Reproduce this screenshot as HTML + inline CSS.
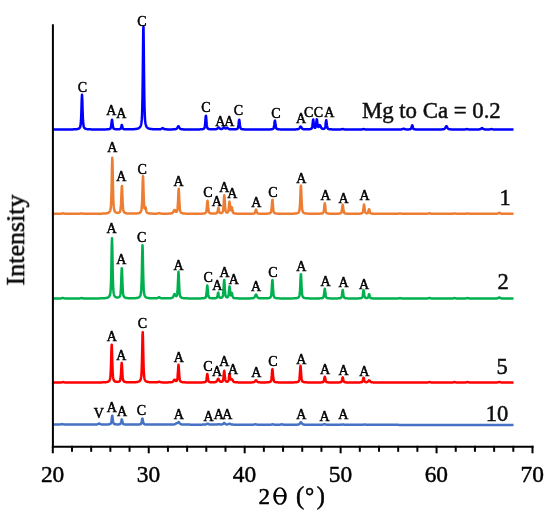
<!DOCTYPE html>
<html><head><meta charset="utf-8"><style>
html,body{margin:0;padding:0;background:#fff;}
body{width:550px;height:521px;overflow:hidden;font-family:"Liberation Serif",serif;}
svg{display:block;}
</style></head><body>
<svg width="550" height="521" viewBox="0 0 550 521" style="will-change:transform">
<defs><filter id="bl" x="0" y="0" width="100%" height="100%" filterUnits="userSpaceOnUse"><feGaussianBlur stdDeviation="0.4"/></filter></defs>
<rect width="550" height="521" fill="#fff"/>
<g filter="url(#bl)">
<path d="M53.00 129.49 L53.25 129.49 L53.50 129.49 L53.75 129.49 L54.00 129.49 L54.25 129.49 L54.50 129.49 L54.75 129.49 L55.00 129.49 L55.25 129.49 L55.50 129.49 L55.75 129.49 L56.00 129.49 L56.25 129.49 L56.50 129.49 L56.75 129.49 L57.00 129.48 L57.25 129.48 L57.50 129.48 L57.75 129.48 L58.00 129.48 L58.25 129.48 L58.50 129.48 L58.75 129.48 L59.00 129.48 L59.25 129.48 L59.50 129.48 L59.75 129.48 L60.00 129.48 L60.25 129.48 L60.50 129.48 L60.75 129.48 L61.00 129.48 L61.25 129.48 L61.50 129.48 L61.75 129.48 L62.00 129.48 L62.25 129.48 L62.50 129.47 L62.75 129.47 L63.00 129.47 L63.25 129.47 L63.50 129.47 L63.75 129.47 L64.00 129.47 L64.25 129.47 L64.50 129.47 L64.75 129.47 L65.00 129.47 L65.25 129.47 L65.50 129.47 L65.75 129.46 L66.00 129.46 L66.25 129.46 L66.50 129.46 L66.75 129.46 L67.00 129.46 L67.25 129.46 L67.50 129.45 L67.75 129.45 L68.00 129.45 L68.25 129.45 L68.50 129.45 L68.75 129.45 L69.00 129.44 L69.25 129.44 L69.50 129.44 L69.75 129.44 L70.00 129.43 L70.25 129.43 L70.50 129.43 L70.75 129.42 L71.00 129.42 L71.25 129.42 L71.50 129.41 L71.75 129.41 L72.00 129.41 L72.25 129.40 L72.50 129.39 L72.75 129.39 L73.00 129.38 L73.25 129.37 L73.50 129.37 L73.75 129.36 L74.00 129.35 L74.25 129.34 L74.50 129.33 L74.75 129.32 L75.00 129.31 L75.25 129.29 L75.50 129.27 L75.75 129.26 L76.00 129.24 L76.25 129.21 L76.50 129.19 L76.75 129.16 L77.00 129.12 L77.25 129.08 L77.50 129.04 L77.75 128.98 L78.00 128.92 L78.25 128.84 L78.50 128.75 L78.75 128.63 L79.00 128.49 L79.25 128.30 L79.50 128.07 L79.75 127.76 L80.00 127.33 L80.25 126.68 L80.50 125.63 L80.75 123.76 L81.00 120.44 L81.25 115.00 L81.50 107.27 L81.75 98.89 L82.00 94.80 L82.25 98.89 L82.50 107.27 L82.75 115.00 L83.00 120.44 L83.25 123.76 L83.50 125.63 L83.75 126.68 L84.00 127.32 L84.25 127.76 L84.50 128.07 L84.75 128.30 L85.00 128.48 L85.25 128.63 L85.50 128.74 L85.75 128.84 L86.00 128.91 L86.25 128.98 L86.50 129.03 L86.75 129.08 L87.00 129.12 L87.25 129.15 L87.50 129.18 L87.75 129.21 L88.00 129.23 L88.25 129.25 L88.50 129.27 L88.75 129.29 L89.00 129.30 L89.25 129.31 L89.50 129.33 L89.75 129.34 L90.00 129.35 L90.25 129.35 L90.50 129.36 L90.75 129.37 L91.00 129.38 L91.25 129.38 L91.50 129.39 L91.75 129.39 L92.00 129.40 L92.25 129.40 L92.50 129.41 L92.75 129.41 L93.00 129.41 L93.25 129.42 L93.50 129.42 L93.75 129.42 L94.00 129.42 L94.25 129.43 L94.50 129.43 L94.75 129.43 L95.00 129.43 L95.25 129.43 L95.50 129.44 L95.75 129.44 L96.00 129.44 L96.25 129.44 L96.50 129.44 L96.75 129.44 L97.00 129.44 L97.25 129.44 L97.50 129.45 L97.75 129.45 L98.00 129.45 L98.25 129.45 L98.50 129.45 L98.75 129.45 L99.00 129.45 L99.25 129.45 L99.50 129.45 L99.75 129.45 L100.00 129.45 L100.25 129.45 L100.50 129.45 L100.75 129.45 L101.00 129.45 L101.25 129.45 L101.50 129.45 L101.75 129.45 L102.00 129.45 L102.25 129.45 L102.50 129.44 L102.75 129.44 L103.00 129.44 L103.25 129.44 L103.50 129.42 L103.75 129.42 L104.00 129.42 L104.25 129.41 L104.50 129.41 L104.75 129.41 L105.00 129.40 L105.25 129.40 L105.50 129.39 L105.75 129.39 L106.00 129.38 L106.25 129.38 L106.50 129.37 L106.75 129.36 L107.00 129.35 L107.25 129.34 L107.50 129.33 L107.75 129.31 L108.00 129.29 L108.25 129.27 L108.50 129.24 L108.75 129.21 L109.00 129.17 L109.25 129.12 L109.50 129.05 L109.75 128.96 L110.00 128.84 L110.25 128.66 L110.50 128.36 L110.75 127.83 L111.00 126.89 L111.25 125.35 L111.50 123.17 L111.75 120.80 L112.00 119.65 L112.25 120.80 L112.50 123.17 L112.75 125.35 L113.00 126.89 L113.25 127.82 L113.50 128.35 L113.75 128.64 L114.00 128.82 L114.25 128.94 L114.50 129.03 L114.75 129.09 L115.00 129.14 L115.25 129.18 L115.50 129.21 L115.75 129.23 L116.00 129.25 L116.25 129.27 L116.50 129.28 L116.75 129.29 L117.00 129.29 L117.25 129.30 L117.50 129.30 L117.75 129.29 L118.00 129.29 L118.25 129.28 L118.50 129.27 L118.75 129.26 L119.00 129.24 L119.25 129.21 L119.50 129.18 L119.75 129.13 L120.00 129.05 L120.25 128.93 L120.50 128.72 L120.75 128.33 L121.00 127.69 L121.25 126.74 L121.50 125.63 L121.75 124.93 L122.00 125.26 L122.25 126.30 L122.50 127.35 L122.75 128.12 L123.00 128.60 L123.25 128.87 L123.50 129.02 L123.75 129.11 L124.00 129.17 L124.25 129.21 L124.50 129.24 L124.75 129.26 L125.00 129.28 L125.25 129.30 L125.50 129.31 L125.75 129.32 L126.00 129.32 L126.25 129.33 L126.50 129.33 L126.75 129.33 L127.00 129.34 L127.25 129.34 L127.50 129.34 L127.75 129.34 L128.00 129.34 L128.25 129.33 L128.50 129.33 L128.75 129.33 L129.00 129.33 L129.25 129.32 L129.50 129.32 L129.75 129.32 L130.00 129.31 L130.25 129.31 L130.50 129.30 L130.75 129.30 L131.00 129.29 L131.25 129.28 L131.50 129.28 L131.75 129.27 L132.00 129.26 L132.25 129.25 L132.50 129.24 L132.75 129.23 L133.00 129.22 L133.25 129.20 L133.50 129.19 L133.75 129.18 L134.00 129.16 L134.25 129.14 L134.50 129.12 L134.75 129.10 L135.00 129.08 L135.25 129.06 L135.50 129.03 L135.75 129.00 L136.00 128.97 L136.25 128.93 L136.50 128.89 L136.75 128.84 L137.00 128.79 L137.25 128.74 L137.50 128.67 L137.75 128.60 L138.00 128.51 L138.25 128.42 L138.50 128.31 L138.75 128.18 L139.00 128.03 L139.25 127.85 L139.50 127.64 L139.75 127.39 L140.00 127.08 L140.25 126.70 L140.50 126.22 L140.75 125.62 L141.00 124.82 L141.25 123.76 L141.50 122.24 L141.75 119.90 L142.00 115.91 L142.25 108.77 L142.50 96.36 L142.75 76.99 L143.00 51.72 L143.25 29.27 L143.50 26.67 L143.75 46.52 L144.00 72.28 L144.25 93.07 L144.50 106.78 L144.75 114.80 L145.00 119.27 L145.25 121.86 L145.50 123.50 L145.75 124.63 L146.00 125.47 L146.25 126.11 L146.50 126.62 L146.75 127.01 L147.00 127.33 L147.25 127.60 L147.50 127.82 L147.75 128.00 L148.00 128.15 L148.25 128.28 L148.50 128.40 L148.75 128.50 L149.00 128.58 L149.25 128.66 L149.50 128.72 L149.75 128.78 L150.00 128.83 L150.25 128.88 L150.50 128.92 L150.75 128.96 L151.00 128.99 L151.25 129.02 L151.50 129.05 L151.75 129.07 L152.00 129.10 L152.25 129.12 L152.50 129.14 L152.75 129.16 L153.00 129.17 L153.25 129.19 L153.50 129.20 L153.75 129.21 L154.00 129.23 L154.25 129.24 L154.50 129.25 L154.75 129.26 L155.00 129.26 L155.25 129.27 L155.50 129.28 L155.75 129.28 L156.00 129.29 L156.25 129.30 L156.50 129.30 L156.75 129.30 L157.00 129.31 L157.25 129.31 L157.50 129.31 L157.75 129.31 L158.00 129.31 L158.25 129.31 L158.50 129.31 L158.75 129.31 L159.00 129.31 L159.25 129.30 L159.50 129.29 L159.75 129.28 L160.00 129.26 L160.25 129.23 L160.50 129.20 L160.75 129.14 L161.00 129.06 L161.25 128.95 L161.50 128.82 L161.75 128.65 L162.00 128.46 L162.25 128.28 L162.50 128.15 L162.75 128.11 L163.00 128.20 L163.25 128.36 L163.50 128.55 L163.75 128.73 L164.00 128.89 L164.25 129.02 L164.50 129.12 L164.75 129.19 L165.00 129.24 L165.25 129.28 L165.50 129.31 L165.75 129.33 L166.00 129.34 L166.25 129.35 L166.50 129.36 L166.75 129.37 L167.00 129.37 L167.25 129.38 L167.50 129.38 L167.75 129.39 L168.00 129.39 L168.25 129.39 L168.50 129.40 L168.75 129.40 L169.00 129.40 L169.25 129.40 L169.50 129.40 L169.75 129.40 L170.00 129.40 L170.25 129.40 L170.50 129.40 L170.75 129.40 L171.00 129.40 L171.25 129.40 L171.50 129.39 L171.75 129.39 L172.00 129.39 L172.25 129.38 L172.50 129.38 L172.75 129.37 L173.00 129.37 L173.25 129.36 L173.50 129.35 L173.75 129.34 L174.00 129.33 L174.25 129.32 L174.50 129.30 L174.75 129.28 L175.00 129.26 L175.25 129.22 L175.50 129.18 L175.75 129.13 L176.00 129.05 L176.25 128.94 L176.50 128.78 L176.75 128.56 L177.00 128.27 L177.25 127.90 L177.50 127.45 L177.75 126.97 L178.00 126.52 L178.25 126.22 L178.50 126.19 L178.75 126.44 L179.00 126.87 L179.25 127.36 L179.50 127.82 L179.75 128.21 L180.00 128.51 L180.25 128.75 L180.50 128.91 L180.75 129.03 L181.00 129.12 L181.25 129.18 L181.50 129.23 L181.75 129.26 L182.00 129.29 L182.25 129.31 L182.50 129.33 L182.75 129.34 L183.00 129.35 L183.25 129.37 L183.50 129.39 L183.75 129.40 L184.00 129.41 L184.25 129.41 L184.50 129.42 L184.75 129.42 L185.00 129.43 L185.25 129.43 L185.50 129.44 L185.75 129.44 L186.00 129.44 L186.25 129.44 L186.50 129.45 L186.75 129.45 L187.00 129.45 L187.25 129.45 L187.50 129.45 L187.75 129.45 L188.00 129.46 L188.25 129.46 L188.50 129.46 L188.75 129.46 L189.00 129.46 L189.25 129.46 L189.50 129.46 L189.75 129.46 L190.00 129.46 L190.25 129.46 L190.50 129.46 L190.75 129.46 L191.00 129.46 L191.25 129.46 L191.50 129.46 L191.75 129.46 L192.00 129.46 L192.25 129.46 L192.50 129.46 L192.75 129.46 L193.00 129.46 L193.25 129.46 L193.50 129.46 L193.75 129.46 L194.00 129.46 L194.25 129.46 L194.50 129.45 L194.75 129.45 L195.00 129.45 L195.25 129.45 L195.50 129.45 L195.75 129.45 L196.00 129.45 L196.25 129.44 L196.50 129.44 L196.75 129.44 L197.00 129.44 L197.25 129.43 L197.50 129.43 L197.75 129.43 L198.00 129.42 L198.25 129.42 L198.50 129.42 L198.75 129.41 L199.00 129.41 L199.25 129.40 L199.50 129.39 L199.75 129.38 L200.00 129.37 L200.25 129.36 L200.50 129.35 L200.75 129.34 L201.00 129.33 L201.25 129.31 L201.50 129.29 L201.75 129.27 L202.00 129.24 L202.25 129.20 L202.50 129.16 L202.75 129.11 L203.00 129.05 L203.25 128.97 L203.50 128.86 L203.75 128.72 L204.00 128.52 L204.25 128.21 L204.50 127.68 L204.75 126.74 L205.00 125.09 L205.25 122.53 L205.50 119.18 L205.75 116.21 L206.00 115.86 L206.25 118.49 L206.50 121.90 L206.75 124.65 L207.00 126.47 L207.25 127.53 L207.50 128.12 L207.75 128.46 L208.00 128.68 L208.25 128.83 L208.50 128.94 L208.75 129.02 L209.00 129.09 L209.25 129.14 L209.50 129.18 L209.75 129.21 L210.00 129.24 L210.25 129.26 L210.50 129.28 L210.75 129.30 L211.00 129.31 L211.25 129.32 L211.50 129.33 L211.75 129.33 L212.00 129.34 L212.25 129.34 L212.50 129.35 L212.75 129.35 L213.00 129.35 L213.25 129.35 L213.50 129.35 L213.75 129.34 L214.00 129.34 L214.25 129.33 L214.50 129.33 L214.75 129.32 L215.00 129.30 L215.25 129.29 L215.50 129.26 L215.75 129.23 L216.00 129.19 L216.25 129.13 L216.50 129.05 L216.75 128.93 L217.00 128.77 L217.25 128.56 L217.50 128.31 L217.75 128.02 L218.00 127.72 L218.25 127.49 L218.50 127.40 L218.75 127.49 L219.00 127.71 L219.25 127.99 L219.50 128.27 L219.75 128.51 L220.00 128.71 L220.25 128.85 L220.50 128.95 L220.75 129.01 L221.00 129.05 L221.25 129.05 L221.50 129.03 L221.75 128.98 L222.00 128.90 L222.25 128.78 L222.50 128.61 L222.75 128.39 L223.00 128.12 L223.25 127.83 L223.50 127.55 L223.75 127.36 L224.00 127.34 L224.25 127.48 L224.50 127.72 L224.75 127.98 L225.00 128.21 L225.25 128.38 L225.50 128.48 L225.75 128.49 L226.00 128.44 L226.25 128.31 L226.50 128.15 L226.75 127.97 L227.00 127.85 L227.25 127.83 L227.50 127.94 L227.75 128.13 L228.00 128.36 L228.25 128.59 L228.50 128.78 L228.75 128.93 L229.00 129.05 L229.25 129.13 L229.50 129.20 L229.75 129.24 L230.00 129.27 L230.25 129.30 L230.50 129.31 L230.75 129.33 L231.00 129.34 L231.25 129.35 L231.50 129.35 L231.75 129.36 L232.00 129.36 L232.25 129.36 L232.50 129.37 L232.75 129.37 L233.00 129.37 L233.25 129.36 L233.50 129.36 L233.75 129.36 L234.00 129.35 L234.25 129.34 L234.50 129.33 L234.75 129.32 L235.00 129.31 L235.25 129.29 L235.50 129.27 L235.75 129.24 L236.00 129.21 L236.25 129.17 L236.50 129.12 L236.75 129.05 L237.00 128.96 L237.25 128.83 L237.50 128.63 L237.75 128.30 L238.00 127.70 L238.25 126.66 L238.50 124.99 L238.75 122.71 L239.00 120.44 L239.25 119.73 L239.50 121.27 L239.75 123.68 L240.00 125.74 L240.25 127.15 L240.50 127.99 L240.75 128.46 L241.00 128.73 L241.25 128.90 L241.50 129.01 L241.75 129.09 L242.00 129.16 L242.25 129.21 L242.50 129.24 L242.75 129.28 L243.00 129.30 L243.25 129.32 L243.50 129.34 L243.75 129.36 L244.00 129.37 L244.25 129.38 L244.50 129.39 L244.75 129.40 L245.00 129.41 L245.25 129.41 L245.50 129.42 L245.75 129.42 L246.00 129.43 L246.25 129.43 L246.50 129.44 L246.75 129.44 L247.00 129.44 L247.25 129.45 L247.50 129.45 L247.75 129.45 L248.00 129.45 L248.25 129.46 L248.50 129.46 L248.75 129.46 L249.00 129.46 L249.25 129.46 L249.50 129.46 L249.75 129.47 L250.00 129.47 L250.25 129.47 L250.50 129.47 L250.75 129.47 L251.00 129.47 L251.25 129.47 L251.50 129.47 L251.75 129.47 L252.00 129.47 L252.25 129.47 L252.50 129.47 L252.75 129.48 L253.00 129.48 L253.25 129.48 L253.50 129.48 L253.75 129.48 L254.00 129.48 L254.25 129.48 L254.50 129.48 L254.75 129.48 L255.00 129.48 L255.25 129.48 L255.50 129.48 L255.75 129.48 L256.00 129.48 L256.25 129.48 L256.50 129.48 L256.75 129.48 L257.00 129.48 L257.25 129.48 L257.50 129.48 L257.75 129.48 L258.00 129.48 L258.25 129.48 L258.50 129.48 L258.75 129.48 L259.00 129.48 L259.25 129.48 L259.50 129.48 L259.75 129.48 L260.00 129.48 L260.25 129.48 L260.50 129.48 L260.75 129.48 L261.00 129.48 L261.25 129.48 L261.50 129.48 L261.75 129.48 L262.00 129.48 L262.25 129.48 L262.50 129.48 L262.75 129.47 L263.00 129.47 L263.25 129.47 L263.50 129.47 L263.75 129.47 L264.00 129.47 L264.25 129.47 L264.50 129.47 L264.75 129.47 L265.00 129.47 L265.25 129.47 L265.50 129.47 L265.75 129.46 L266.00 129.46 L266.25 129.46 L266.50 129.46 L266.75 129.46 L267.00 129.45 L267.25 129.45 L267.50 129.45 L267.75 129.45 L268.00 129.44 L268.25 129.44 L268.50 129.43 L268.75 129.43 L269.00 129.42 L269.25 129.42 L269.50 129.41 L269.75 129.40 L270.00 129.39 L270.25 129.38 L270.50 129.37 L270.75 129.35 L271.00 129.33 L271.25 129.31 L271.50 129.29 L271.75 129.25 L272.00 129.21 L272.25 129.16 L272.50 129.09 L272.75 129.00 L273.00 128.87 L273.25 128.66 L273.50 128.32 L273.75 127.70 L274.00 126.62 L274.25 124.94 L274.50 122.75 L274.75 120.81 L275.00 120.58 L275.25 122.30 L275.50 124.53 L275.75 126.34 L276.00 127.52 L276.25 128.22 L276.50 128.61 L276.75 128.83 L277.00 128.97 L277.25 129.07 L277.50 129.14 L277.75 129.20 L278.00 129.24 L278.25 129.28 L278.50 129.30 L278.75 129.33 L279.00 129.34 L279.25 129.36 L279.50 129.37 L279.75 129.39 L280.00 129.39 L280.25 129.40 L280.50 129.41 L280.75 129.42 L281.00 129.42 L281.25 129.43 L281.50 129.43 L281.75 129.43 L282.00 129.44 L282.25 129.44 L282.50 129.44 L282.75 129.45 L283.00 129.45 L283.25 129.45 L283.50 129.45 L283.75 129.45 L284.00 129.45 L284.25 129.45 L284.50 129.46 L284.75 129.46 L285.00 129.46 L285.25 129.46 L285.50 129.46 L285.75 129.46 L286.00 129.46 L286.25 129.46 L286.50 129.46 L286.75 129.46 L287.00 129.46 L287.25 129.46 L287.50 129.46 L287.75 129.46 L288.00 129.46 L288.25 129.46 L288.50 129.46 L288.75 129.46 L289.00 129.46 L289.25 129.46 L289.50 129.46 L289.75 129.46 L290.00 129.45 L290.25 129.45 L290.50 129.45 L290.75 129.45 L291.00 129.45 L291.25 129.45 L291.50 129.45 L291.75 129.45 L292.00 129.44 L292.25 129.44 L292.50 129.44 L292.75 129.44 L293.00 129.44 L293.25 129.43 L293.50 129.43 L293.75 129.43 L294.00 129.42 L294.25 129.42 L294.50 129.41 L294.75 129.41 L295.00 129.40 L295.25 129.40 L295.50 129.39 L295.75 129.38 L296.00 129.37 L296.25 129.36 L296.50 129.34 L296.75 129.33 L297.00 129.31 L297.25 129.28 L297.50 129.25 L297.75 129.21 L298.00 129.16 L298.25 129.08 L298.50 128.98 L298.75 128.83 L299.00 128.62 L299.25 128.35 L299.50 128.01 L299.75 127.61 L300.00 127.18 L300.25 126.80 L300.50 126.58 L300.75 126.60 L301.00 126.86 L301.25 127.26 L301.50 127.68 L301.75 128.07 L302.00 128.40 L302.25 128.65 L302.50 128.84 L302.75 128.98 L303.00 129.08 L303.25 129.14 L303.50 129.19 L303.75 129.23 L304.00 129.25 L304.25 129.27 L304.50 129.29 L304.75 129.30 L305.00 129.31 L305.25 129.31 L305.50 129.32 L305.75 129.32 L306.00 129.33 L306.25 129.33 L306.50 129.33 L306.75 129.32 L307.00 129.32 L307.25 129.32 L307.50 129.31 L307.75 129.30 L308.00 129.30 L308.25 129.28 L308.50 129.27 L308.75 129.26 L309.00 129.24 L309.25 129.22 L309.50 129.19 L309.75 129.16 L310.00 129.12 L310.25 129.08 L310.50 129.02 L310.75 128.94 L311.00 128.84 L311.25 128.70 L311.50 128.50 L311.75 128.15 L312.00 127.55 L312.25 126.51 L312.50 124.83 L312.75 122.55 L313.00 120.28 L313.25 119.54 L313.50 121.03 L313.75 123.37 L314.00 125.36 L314.25 126.68 L314.50 127.42 L314.75 127.76 L315.00 127.85 L315.25 127.74 L315.50 127.37 L315.75 126.60 L316.00 125.25 L316.25 123.22 L316.50 120.84 L316.75 119.30 L317.00 119.98 L317.25 122.16 L317.50 124.33 L317.75 125.84 L318.00 126.67 L318.25 126.96 L318.50 126.91 L318.75 126.62 L319.00 126.19 L319.25 125.70 L319.50 125.28 L319.75 125.09 L320.00 125.24 L320.25 125.68 L320.50 126.27 L320.75 126.87 L321.00 127.41 L321.25 127.85 L321.50 128.19 L321.75 128.44 L322.00 128.62 L322.25 128.73 L322.50 128.81 L322.75 128.86 L323.00 128.88 L323.25 128.89 L323.50 128.87 L323.75 128.84 L324.00 128.77 L324.25 128.67 L324.50 128.50 L324.75 128.21 L325.00 127.67 L325.25 126.70 L325.50 125.14 L325.75 123.01 L326.00 120.89 L326.25 120.22 L326.50 121.68 L326.75 123.95 L327.00 125.89 L327.25 127.22 L327.50 128.01 L327.75 128.45 L328.00 128.71 L328.25 128.87 L328.50 128.98 L328.75 129.06 L329.00 129.12 L329.25 129.17 L329.50 129.21 L329.75 129.24 L330.00 129.27 L330.25 129.29 L330.50 129.31 L330.75 129.33 L331.00 129.34 L331.25 129.35 L331.50 129.36 L331.75 129.37 L332.00 129.38 L332.25 129.39 L332.50 129.39 L332.75 129.40 L333.00 129.41 L333.25 129.41 L333.50 129.41 L333.75 129.42 L334.00 129.42 L334.25 129.42 L334.50 129.43 L334.75 129.43 L335.00 129.43 L335.25 129.44 L335.50 129.44 L335.75 129.44 L336.00 129.44 L336.25 129.44 L336.50 129.44 L336.75 129.44 L337.00 129.45 L337.25 129.45 L337.50 129.45 L337.75 129.45 L338.00 129.45 L338.25 129.45 L338.50 129.45 L338.75 129.44 L339.00 129.44 L339.25 129.44 L339.50 129.44 L339.75 129.43 L340.00 129.43 L340.25 129.42 L340.50 129.41 L340.75 129.39 L341.00 129.37 L341.25 129.34 L341.50 129.29 L341.75 129.24 L342.00 129.18 L342.25 129.13 L342.50 129.09 L342.75 129.08 L343.00 129.10 L343.25 129.15 L343.50 129.21 L343.75 129.27 L344.00 129.32 L344.25 129.36 L344.50 129.39 L344.75 129.41 L345.00 129.43 L345.25 129.44 L345.50 129.45 L345.75 129.45 L346.00 129.46 L346.25 129.46 L346.50 129.46 L346.75 129.47 L347.00 129.47 L347.25 129.47 L347.50 129.47 L347.75 129.47 L348.00 129.47 L348.25 129.47 L348.50 129.48 L348.75 129.48 L349.00 129.48 L349.25 129.48 L349.50 129.48 L349.75 129.48 L350.00 129.48 L350.25 129.48 L350.50 129.48 L350.75 129.48 L351.00 129.48 L351.25 129.48 L351.50 129.48 L351.75 129.48 L352.00 129.48 L352.25 129.48 L352.50 129.48 L352.75 129.48 L353.00 129.48 L353.25 129.49 L353.50 129.49 L353.75 129.49 L354.00 129.49 L354.25 129.49 L354.50 129.49 L354.75 129.49 L355.00 129.49 L355.25 129.49 L355.50 129.49 L355.75 129.49 L356.00 129.49 L356.25 129.49 L356.50 129.49 L356.75 129.49 L357.00 129.49 L357.25 129.49 L357.50 129.49 L357.75 129.49 L358.00 129.48 L358.25 129.48 L358.50 129.48 L358.75 129.48 L359.00 129.48 L359.25 129.48 L359.50 129.48 L359.75 129.48 L360.00 129.47 L360.25 129.47 L360.50 129.47 L360.75 129.46 L361.00 129.45 L361.25 129.44 L361.50 129.43 L361.75 129.41 L362.00 129.38 L362.25 129.34 L362.50 129.30 L362.75 129.24 L363.00 129.18 L363.25 129.13 L363.50 129.10 L363.75 129.10 L364.00 129.14 L364.25 129.19 L364.50 129.25 L364.75 129.31 L365.00 129.35 L365.25 129.39 L365.50 129.41 L365.75 129.43 L366.00 129.45 L366.25 129.46 L366.50 129.47 L366.75 129.47 L367.00 129.47 L367.25 129.48 L367.50 129.48 L367.75 129.48 L368.00 129.48 L368.25 129.49 L368.50 129.49 L368.75 129.49 L369.00 129.49 L369.25 129.49 L369.50 129.49 L369.75 129.49 L370.00 129.49 L370.25 129.49 L370.50 129.49 L370.75 129.49 L371.00 129.49 L371.25 129.49 L371.50 129.49 L371.75 129.49 L372.00 129.49 L372.25 129.49 L372.50 129.49 L372.75 129.49 L373.00 129.49 L373.25 129.49 L373.50 129.50 L373.75 129.50 L374.00 129.50 L374.25 129.50 L374.50 129.50 L374.75 129.50 L375.00 129.50 L375.25 129.50 L375.50 129.50 L375.75 129.50 L376.00 129.50 L376.25 129.50 L376.50 129.50 L376.75 129.50 L377.00 129.50 L377.25 129.50 L377.50 129.50 L377.75 129.50 L378.00 129.50 L378.25 129.50 L378.50 129.50 L378.75 129.50 L379.00 129.50 L379.25 129.50 L379.50 129.50 L379.75 129.50 L380.00 129.50 L380.25 129.50 L380.50 129.50 L380.75 129.50 L381.00 129.50 L381.25 129.50 L381.50 129.50 L381.75 129.50 L382.00 129.50 L382.25 129.50 L382.50 129.50 L382.75 129.50 L383.00 129.50 L383.25 129.50 L383.50 129.50 L383.75 129.50 L384.00 129.50 L384.25 129.50 L384.50 129.50 L384.75 129.50 L385.00 129.50 L385.25 129.50 L385.50 129.50 L385.75 129.50 L386.00 129.50 L386.25 129.50 L386.50 129.50 L386.75 129.50 L387.00 129.50 L387.25 129.50 L387.50 129.50 L387.75 129.49 L388.00 129.49 L388.25 129.49 L388.50 129.49 L388.75 129.49 L389.00 129.49 L389.25 129.49 L389.50 129.49 L389.75 129.49 L390.00 129.49 L390.25 129.49 L390.50 129.49 L390.75 129.49 L391.00 129.49 L391.25 129.49 L391.50 129.49 L391.75 129.49 L392.00 129.49 L392.25 129.49 L392.50 129.49 L392.75 129.49 L393.00 129.49 L393.25 129.49 L393.50 129.49 L393.75 129.49 L394.00 129.49 L394.25 129.49 L394.50 129.49 L394.75 129.49 L395.00 129.49 L395.25 129.49 L395.50 129.49 L395.75 129.49 L396.00 129.48 L396.25 129.48 L396.50 129.48 L396.75 129.48 L397.00 129.48 L397.25 129.48 L397.50 129.48 L397.75 129.48 L398.00 129.47 L398.25 129.47 L398.50 129.47 L398.75 129.47 L399.00 129.46 L399.25 129.46 L399.50 129.46 L399.75 129.45 L400.00 129.45 L400.25 129.44 L400.50 129.43 L400.75 129.42 L401.00 129.41 L401.25 129.38 L401.50 129.36 L401.75 129.31 L402.00 129.26 L402.25 129.18 L402.50 129.09 L402.75 128.98 L403.00 128.86 L403.25 128.75 L403.50 128.69 L403.75 128.70 L404.00 128.77 L404.25 128.88 L404.50 128.99 L404.75 129.10 L405.00 129.19 L405.25 129.26 L405.50 129.31 L405.75 129.34 L406.00 129.37 L406.25 129.39 L406.50 129.39 L406.75 129.40 L407.00 129.41 L407.25 129.41 L407.50 129.41 L407.75 129.41 L408.00 129.40 L408.25 129.40 L408.50 129.39 L408.75 129.38 L409.00 129.37 L409.25 129.35 L409.50 129.33 L409.75 129.30 L410.00 129.26 L410.25 129.20 L410.50 129.12 L410.75 128.97 L411.00 128.71 L411.25 128.25 L411.50 127.52 L411.75 126.52 L412.00 125.53 L412.25 125.21 L412.50 125.89 L412.75 126.95 L413.00 127.85 L413.25 128.47 L413.50 128.84 L413.75 129.04 L414.00 129.16 L414.25 129.24 L414.50 129.29 L414.75 129.32 L415.00 129.35 L415.25 129.37 L415.50 129.39 L415.75 129.40 L416.00 129.41 L416.25 129.42 L416.50 129.43 L416.75 129.44 L417.00 129.44 L417.25 129.45 L417.50 129.45 L417.75 129.46 L418.00 129.46 L418.25 129.46 L418.50 129.46 L418.75 129.47 L419.00 129.47 L419.25 129.47 L419.50 129.47 L419.75 129.47 L420.00 129.47 L420.25 129.48 L420.50 129.48 L420.75 129.48 L421.00 129.48 L421.25 129.48 L421.50 129.48 L421.75 129.48 L422.00 129.48 L422.25 129.48 L422.50 129.48 L422.75 129.48 L423.00 129.48 L423.25 129.48 L423.50 129.48 L423.75 129.48 L424.00 129.48 L424.25 129.49 L424.50 129.49 L424.75 129.49 L425.00 129.49 L425.25 129.49 L425.50 129.49 L425.75 129.49 L426.00 129.49 L426.25 129.49 L426.50 129.49 L426.75 129.49 L427.00 129.49 L427.25 129.49 L427.50 129.49 L427.75 129.49 L428.00 129.49 L428.25 129.49 L428.50 129.49 L428.75 129.49 L429.00 129.49 L429.25 129.49 L429.50 129.49 L429.75 129.49 L430.00 129.49 L430.25 129.49 L430.50 129.49 L430.75 129.48 L431.00 129.48 L431.25 129.48 L431.50 129.48 L431.75 129.48 L432.00 129.48 L432.25 129.48 L432.50 129.48 L432.75 129.48 L433.00 129.48 L433.25 129.48 L433.50 129.48 L433.75 129.48 L434.00 129.48 L434.25 129.48 L434.50 129.48 L434.75 129.48 L435.00 129.48 L435.25 129.48 L435.50 129.48 L435.75 129.47 L436.00 129.47 L436.25 129.47 L436.50 129.47 L436.75 129.47 L437.00 129.47 L437.25 129.47 L437.50 129.46 L437.75 129.46 L438.00 129.46 L438.25 129.46 L438.50 129.46 L438.75 129.45 L439.00 129.45 L439.25 129.45 L439.50 129.44 L439.75 129.44 L440.00 129.44 L440.25 129.43 L440.50 129.43 L440.75 129.42 L441.00 129.41 L441.25 129.40 L441.50 129.39 L441.75 129.38 L442.00 129.37 L442.25 129.36 L442.50 129.34 L442.75 129.32 L443.00 129.29 L443.25 129.26 L443.50 129.22 L443.75 129.16 L444.00 129.08 L444.25 128.97 L444.50 128.81 L444.75 128.59 L445.00 128.30 L445.25 127.93 L445.50 127.49 L445.75 127.00 L446.00 126.55 L446.25 126.25 L446.50 126.22 L446.75 126.47 L447.00 126.90 L447.25 127.39 L447.50 127.85 L447.75 128.23 L448.00 128.54 L448.25 128.77 L448.50 128.94 L448.75 129.06 L449.00 129.15 L449.25 129.21 L449.50 129.25 L449.75 129.29 L450.00 129.31 L450.25 129.33 L450.50 129.35 L450.75 129.37 L451.00 129.38 L451.25 129.39 L451.50 129.40 L451.75 129.41 L452.00 129.42 L452.25 129.42 L452.50 129.43 L452.75 129.43 L453.00 129.44 L453.25 129.44 L453.50 129.45 L453.75 129.45 L454.00 129.45 L454.25 129.46 L454.50 129.46 L454.75 129.46 L455.00 129.46 L455.25 129.46 L455.50 129.46 L455.75 129.47 L456.00 129.47 L456.25 129.47 L456.50 129.47 L456.75 129.47 L457.00 129.47 L457.25 129.47 L457.50 129.47 L457.75 129.47 L458.00 129.47 L458.25 129.48 L458.50 129.48 L458.75 129.48 L459.00 129.48 L459.25 129.48 L459.50 129.48 L459.75 129.48 L460.00 129.48 L460.25 129.48 L460.50 129.48 L460.75 129.48 L461.00 129.48 L461.25 129.48 L461.50 129.47 L461.75 129.47 L462.00 129.47 L462.25 129.47 L462.50 129.47 L462.75 129.47 L463.00 129.47 L463.25 129.46 L463.50 129.46 L463.75 129.46 L464.00 129.45 L464.25 129.44 L464.50 129.43 L464.75 129.42 L465.00 129.40 L465.25 129.37 L465.50 129.33 L465.75 129.28 L466.00 129.22 L466.25 129.16 L466.50 129.11 L466.75 129.09 L467.00 129.10 L467.25 129.14 L467.50 129.20 L467.75 129.26 L468.00 129.31 L468.25 129.35 L468.50 129.38 L468.75 129.41 L469.00 129.43 L469.25 129.44 L469.50 129.45 L469.75 129.45 L470.00 129.46 L470.25 129.46 L470.50 129.47 L470.75 129.47 L471.00 129.47 L471.25 129.47 L471.50 129.47 L471.75 129.47 L472.00 129.47 L472.25 129.47 L472.50 129.47 L472.75 129.47 L473.00 129.47 L473.25 129.47 L473.50 129.47 L473.75 129.47 L474.00 129.47 L474.25 129.47 L474.50 129.47 L474.75 129.47 L475.00 129.47 L475.25 129.47 L475.50 129.47 L475.75 129.46 L476.00 129.46 L476.25 129.46 L476.50 129.46 L476.75 129.45 L477.00 129.45 L477.25 129.45 L477.50 129.44 L477.75 129.44 L478.00 129.43 L478.25 129.42 L478.50 129.41 L478.75 129.40 L479.00 129.38 L479.25 129.36 L479.50 129.33 L479.75 129.29 L480.00 129.23 L480.25 129.15 L480.50 129.04 L480.75 128.90 L481.00 128.72 L481.25 128.52 L481.50 128.31 L481.75 128.16 L482.00 128.09 L482.25 128.15 L482.50 128.31 L482.75 128.52 L483.00 128.72 L483.25 128.89 L483.50 129.04 L483.75 129.15 L484.00 129.23 L484.25 129.29 L484.50 129.33 L484.75 129.36 L485.00 129.38 L485.25 129.39 L485.50 129.41 L485.75 129.42 L486.00 129.42 L486.25 129.43 L486.50 129.44 L486.75 129.44 L487.00 129.44 L487.25 129.44 L487.50 129.45 L487.75 129.45 L488.00 129.44 L488.25 129.44 L488.50 129.44 L488.75 129.44 L489.00 129.43 L489.25 129.42 L489.50 129.40 L489.75 129.37 L490.00 129.34 L490.25 129.29 L490.50 129.24 L490.75 129.18 L491.00 129.13 L491.25 129.09 L491.50 129.09 L491.75 129.12 L492.00 129.17 L492.25 129.23 L492.50 129.29 L492.75 129.34 L493.00 129.37 L493.25 129.40 L493.50 129.42 L493.75 129.44 L494.00 129.45 L494.25 129.46 L494.50 129.46 L494.75 129.47 L495.00 129.47 L495.25 129.47 L495.50 129.48 L495.75 129.48 L496.00 129.48 L496.25 129.48 L496.50 129.48 L496.75 129.48 L497.00 129.49 L497.25 129.49 L497.50 129.49 L497.75 129.49 L498.00 129.49 L498.25 129.49 L498.50 129.49 L498.75 129.49 L499.00 129.49 L499.25 129.49 L499.50 129.49 L499.75 129.49 L500.00 129.49 L500.25 129.49 L500.50 129.49 L500.75 129.49 L501.00 129.49 L501.25 129.49 L501.50 129.49 L501.75 129.49 L502.00 129.49 L502.25 129.49 L502.50 129.49 L502.75 129.49 L503.00 129.49 L503.25 129.50 L503.50 129.50 L503.75 129.50 L504.00 129.50 L504.25 129.50 L504.50 129.50 L504.75 129.50 L505.00 129.50 L505.25 129.50 L505.50 129.50 L505.75 129.50 L506.00 129.50 L506.25 129.50 L506.50 129.50 L506.75 129.50 L507.00 129.50 L507.25 129.50 L507.50 129.50 L507.75 129.50 L508.00 129.50 L508.25 129.50 L508.50 129.50 L508.75 129.50 L509.00 129.50 L509.25 129.50 L509.50 129.50 L509.75 129.50 L510.00 129.50 L510.25 129.50 L510.50 129.50 L510.75 129.50 L511.00 129.50 L511.25 129.50 L511.50 129.50 L511.75 129.50 L512.00 129.50 L512.25 129.50 L512.50 129.50 L512.75 129.50 L513.00 129.50 L513.25 129.50 L513.50 129.50" fill="none" stroke="#0000ff" stroke-width="2.5" stroke-linejoin="round"/>
<path d="M53.00 213.80 L53.25 213.80 L53.50 213.80 L53.75 213.80 L54.00 213.79 L54.25 213.79 L54.50 213.79 L54.75 213.79 L55.00 213.79 L55.25 213.79 L55.50 213.79 L55.75 213.79 L56.00 213.79 L56.25 213.79 L56.50 213.79 L56.75 213.79 L57.00 213.79 L57.25 213.79 L57.50 213.79 L57.75 213.79 L58.00 213.78 L58.25 213.78 L58.50 213.78 L58.75 213.78 L59.00 213.78 L59.25 213.77 L59.50 213.77 L59.75 213.77 L60.00 213.76 L60.25 213.75 L60.50 213.74 L60.75 213.73 L61.00 213.71 L61.25 213.68 L61.50 213.64 L61.75 213.59 L62.00 213.52 L62.25 213.45 L62.50 213.38 L62.75 213.32 L63.00 213.30 L63.25 213.32 L63.50 213.38 L63.75 213.45 L64.00 213.52 L64.25 213.59 L64.50 213.64 L64.75 213.68 L65.00 213.71 L65.25 213.73 L65.50 213.74 L65.75 213.75 L66.00 213.76 L66.25 213.76 L66.50 213.77 L66.75 213.77 L67.00 213.78 L67.25 213.78 L67.50 213.78 L67.75 213.78 L68.00 213.78 L68.25 213.78 L68.50 213.79 L68.75 213.79 L69.00 213.79 L69.25 213.79 L69.50 213.79 L69.75 213.79 L70.00 213.79 L70.25 213.79 L70.50 213.79 L70.75 213.79 L71.00 213.79 L71.25 213.79 L71.50 213.79 L71.75 213.79 L72.00 213.79 L72.25 213.79 L72.50 213.78 L72.75 213.78 L73.00 213.78 L73.25 213.78 L73.50 213.78 L73.75 213.78 L74.00 213.78 L74.25 213.78 L74.50 213.78 L74.75 213.78 L75.00 213.78 L75.25 213.78 L75.50 213.78 L75.75 213.78 L76.00 213.78 L76.25 213.78 L76.50 213.77 L76.75 213.77 L77.00 213.77 L77.25 213.77 L77.50 213.77 L77.75 213.77 L78.00 213.76 L78.25 213.76 L78.50 213.76 L78.75 213.75 L79.00 213.74 L79.25 213.73 L79.50 213.72 L79.75 213.70 L80.00 213.67 L80.25 213.63 L80.50 213.58 L80.75 213.53 L81.00 213.47 L81.25 213.42 L81.50 213.39 L81.75 213.39 L82.00 213.42 L82.25 213.47 L82.50 213.53 L82.75 213.59 L83.00 213.63 L83.25 213.67 L83.50 213.69 L83.75 213.71 L84.00 213.72 L84.25 213.73 L84.50 213.74 L84.75 213.74 L85.00 213.75 L85.25 213.75 L85.50 213.75 L85.75 213.75 L86.00 213.76 L86.25 213.76 L86.50 213.76 L86.75 213.76 L87.00 213.76 L87.25 213.76 L87.50 213.76 L87.75 213.76 L88.00 213.76 L88.25 213.76 L88.50 213.76 L88.75 213.76 L89.00 213.76 L89.25 213.76 L89.50 213.76 L89.75 213.76 L90.00 213.76 L90.25 213.76 L90.50 213.76 L90.75 213.75 L91.00 213.75 L91.25 213.75 L91.50 213.75 L91.75 213.75 L92.00 213.75 L92.25 213.75 L92.50 213.75 L92.75 213.75 L93.00 213.75 L93.25 213.75 L93.50 213.74 L93.75 213.74 L94.00 213.74 L94.25 213.74 L94.50 213.74 L94.75 213.74 L95.00 213.74 L95.25 213.73 L95.50 213.73 L95.75 213.73 L96.00 213.73 L96.25 213.73 L96.50 213.72 L96.75 213.72 L97.00 213.72 L97.25 213.72 L97.50 213.71 L97.75 213.71 L98.00 213.71 L98.25 213.71 L98.50 213.70 L98.75 213.70 L99.00 213.70 L99.25 213.69 L99.50 213.69 L99.75 213.69 L100.00 213.68 L100.25 213.68 L100.50 213.67 L100.75 213.67 L101.00 213.66 L101.25 213.65 L101.50 213.65 L101.75 213.64 L102.00 213.63 L102.25 213.63 L102.50 213.62 L102.75 213.61 L103.00 213.60 L103.25 213.58 L103.50 213.57 L103.75 213.56 L104.00 213.55 L104.25 213.53 L104.50 213.51 L104.75 213.50 L105.00 213.48 L105.25 213.46 L105.50 213.43 L105.75 213.40 L106.00 213.38 L106.25 213.34 L106.50 213.30 L106.75 213.26 L107.00 213.21 L107.25 213.16 L107.50 213.09 L107.75 213.02 L108.00 212.93 L108.25 212.83 L108.50 212.71 L108.75 212.56 L109.00 212.38 L109.25 212.15 L109.50 211.87 L109.75 211.50 L110.00 211.02 L110.25 210.37 L110.50 209.41 L110.75 207.87 L111.00 205.17 L111.25 200.35 L111.50 192.27 L111.75 180.39 L112.00 166.54 L112.25 157.70 L112.50 161.82 L112.75 174.82 L113.00 187.93 L113.25 197.53 L113.50 203.52 L113.75 206.92 L114.00 208.82 L114.25 209.96 L114.50 210.70 L114.75 211.23 L115.00 211.62 L115.25 211.92 L115.50 212.15 L115.75 212.33 L116.00 212.47 L116.25 212.58 L116.50 212.67 L116.75 212.73 L117.00 212.78 L117.25 212.81 L117.50 212.83 L117.75 212.83 L118.00 212.82 L118.25 212.79 L118.50 212.74 L118.75 212.66 L119.00 212.56 L119.25 212.42 L119.50 212.23 L119.75 211.96 L120.00 211.57 L120.25 210.96 L120.50 209.90 L120.75 208.00 L121.00 204.68 L121.25 199.48 L121.50 192.71 L121.75 186.69 L122.00 185.99 L122.25 191.33 L122.50 198.26 L122.75 203.85 L123.00 207.54 L123.25 209.70 L123.50 210.90 L123.75 211.60 L124.00 212.05 L124.25 212.36 L124.50 212.58 L124.75 212.76 L125.00 212.90 L125.25 213.01 L125.50 213.10 L125.75 213.17 L126.00 213.23 L126.25 213.28 L126.50 213.32 L126.75 213.36 L127.00 213.39 L127.25 213.42 L127.50 213.44 L127.75 213.46 L128.00 213.48 L128.25 213.50 L128.50 213.51 L128.75 213.52 L129.00 213.53 L129.25 213.54 L129.50 213.55 L129.75 213.56 L130.00 213.57 L130.25 213.57 L130.50 213.58 L130.75 213.58 L131.00 213.58 L131.25 213.59 L131.50 213.59 L131.75 213.59 L132.00 213.59 L132.25 213.59 L132.50 213.59 L132.75 213.59 L133.00 213.59 L133.25 213.59 L133.50 213.58 L133.75 213.58 L134.00 213.58 L134.25 213.57 L134.50 213.57 L134.75 213.56 L135.00 213.55 L135.25 213.54 L135.50 213.53 L135.75 213.52 L136.00 213.51 L136.25 213.49 L136.50 213.48 L136.75 213.46 L137.00 213.44 L137.25 213.41 L137.50 213.38 L137.75 213.35 L138.00 213.32 L138.25 213.27 L138.50 213.22 L138.75 213.16 L139.00 213.09 L139.25 213.00 L139.50 212.90 L139.75 212.77 L140.00 212.61 L140.25 212.41 L140.50 212.16 L140.75 211.82 L141.00 211.34 L141.25 210.64 L141.50 209.50 L141.75 207.48 L142.00 203.89 L142.25 198.00 L142.50 189.65 L142.75 180.59 L143.00 176.15 L143.25 180.51 L143.50 189.49 L143.75 197.72 L144.00 203.44 L144.25 206.75 L144.50 208.28 L144.75 208.64 L145.00 208.22 L145.25 207.47 L145.50 207.22 L145.75 208.06 L146.00 209.47 L146.25 210.74 L146.50 211.65 L146.75 212.23 L147.00 212.58 L147.25 212.80 L147.50 212.95 L147.75 213.06 L148.00 213.15 L148.25 213.22 L148.50 213.28 L148.75 213.33 L149.00 213.37 L149.25 213.41 L149.50 213.44 L149.75 213.46 L150.00 213.49 L150.25 213.51 L150.50 213.52 L150.75 213.54 L151.00 213.56 L151.25 213.57 L151.50 213.58 L151.75 213.59 L152.00 213.60 L152.25 213.61 L152.50 213.62 L152.75 213.63 L153.00 213.64 L153.25 213.64 L153.50 213.65 L153.75 213.65 L154.00 213.65 L154.25 213.66 L154.50 213.66 L154.75 213.66 L155.00 213.66 L155.25 213.66 L155.50 213.66 L155.75 213.66 L156.00 213.65 L156.25 213.65 L156.50 213.64 L156.75 213.63 L157.00 213.61 L157.25 213.58 L157.50 213.54 L157.75 213.48 L158.00 213.41 L158.25 213.33 L158.50 213.24 L158.75 213.17 L159.00 213.12 L159.25 213.13 L159.50 213.18 L159.75 213.27 L160.00 213.35 L160.25 213.44 L160.50 213.50 L160.75 213.56 L161.00 213.60 L161.25 213.62 L161.50 213.64 L161.75 213.66 L162.00 213.67 L162.25 213.68 L162.50 213.69 L162.75 213.69 L163.00 213.69 L163.25 213.69 L163.50 213.70 L163.75 213.70 L164.00 213.70 L164.25 213.70 L164.50 213.70 L164.75 213.70 L165.00 213.70 L165.25 213.69 L165.50 213.69 L165.75 213.69 L166.00 213.69 L166.25 213.68 L166.50 213.68 L166.75 213.68 L167.00 213.67 L167.25 213.67 L167.50 213.66 L167.75 213.66 L168.00 213.65 L168.25 213.64 L168.50 213.63 L168.75 213.62 L169.00 213.61 L169.25 213.60 L169.50 213.59 L169.75 213.58 L170.00 213.56 L170.25 213.54 L170.50 213.52 L170.75 213.49 L171.00 213.46 L171.25 213.42 L171.50 213.37 L171.75 213.31 L172.00 213.22 L172.25 213.11 L172.50 212.95 L172.75 212.73 L173.00 212.44 L173.25 212.06 L173.50 211.59 L173.75 211.06 L174.00 210.53 L174.25 210.10 L174.50 209.90 L174.75 210.01 L175.00 210.35 L175.25 210.78 L175.50 211.20 L175.75 211.53 L176.00 211.76 L176.25 211.85 L176.50 211.82 L176.75 211.63 L177.00 211.22 L177.25 210.45 L177.50 208.98 L177.75 206.35 L178.00 202.09 L178.25 196.27 L178.50 190.49 L178.75 188.67 L179.00 192.63 L179.25 198.81 L179.50 204.12 L179.75 207.73 L180.00 209.88 L180.25 211.09 L180.50 211.79 L180.75 212.22 L181.00 212.51 L181.25 212.73 L181.50 212.90 L181.75 213.02 L182.00 213.13 L182.25 213.21 L182.50 213.28 L182.75 213.34 L183.00 213.39 L183.25 213.43 L183.50 213.46 L183.75 213.49 L184.00 213.52 L184.25 213.54 L184.50 213.56 L184.75 213.57 L185.00 213.59 L185.25 213.60 L185.50 213.62 L185.75 213.63 L186.00 213.64 L186.25 213.65 L186.50 213.65 L186.75 213.66 L187.00 213.67 L187.25 213.67 L187.50 213.68 L187.75 213.69 L188.00 213.69 L188.25 213.69 L188.50 213.70 L188.75 213.70 L189.00 213.71 L189.25 213.71 L189.50 213.71 L189.75 213.71 L190.00 213.71 L190.25 213.72 L190.50 213.72 L190.75 213.72 L191.00 213.72 L191.25 213.72 L191.50 213.72 L191.75 213.73 L192.00 213.73 L192.25 213.73 L192.50 213.73 L192.75 213.73 L193.00 213.73 L193.25 213.73 L193.50 213.73 L193.75 213.73 L194.00 213.73 L194.25 213.73 L194.50 213.73 L194.75 213.73 L195.00 213.73 L195.25 213.73 L195.50 213.73 L195.75 213.73 L196.00 213.73 L196.25 213.73 L196.50 213.73 L196.75 213.73 L197.00 213.73 L197.25 213.73 L197.50 213.72 L197.75 213.72 L198.00 213.72 L198.25 213.72 L198.50 213.72 L198.75 213.71 L199.00 213.71 L199.25 213.71 L199.50 213.71 L199.75 213.70 L200.00 213.70 L200.25 213.69 L200.50 213.69 L200.75 213.68 L201.00 213.68 L201.25 213.67 L201.50 213.66 L201.75 213.65 L202.00 213.64 L202.25 213.63 L202.50 213.62 L202.75 213.60 L203.00 213.59 L203.25 213.57 L203.50 213.54 L203.75 213.51 L204.00 213.48 L204.25 213.43 L204.50 213.38 L204.75 213.31 L205.00 213.22 L205.25 213.10 L205.50 212.94 L205.75 212.69 L206.00 212.29 L206.25 211.59 L206.50 210.33 L206.75 208.28 L207.00 205.36 L207.25 202.19 L207.50 200.65 L207.75 202.19 L208.00 205.35 L208.25 208.27 L208.50 210.33 L208.75 211.58 L209.00 212.28 L209.25 212.68 L209.50 212.92 L209.75 213.08 L210.00 213.19 L210.25 213.28 L210.50 213.34 L210.75 213.40 L211.00 213.44 L211.25 213.47 L211.50 213.49 L211.75 213.52 L212.00 213.53 L212.25 213.54 L212.50 213.55 L212.75 213.56 L213.00 213.57 L213.25 213.57 L213.50 213.57 L213.75 213.57 L214.00 213.56 L214.25 213.56 L214.50 213.55 L214.75 213.54 L215.00 213.52 L215.25 213.50 L215.50 213.47 L215.75 213.44 L216.00 213.39 L216.25 213.33 L216.50 213.24 L216.75 213.11 L217.00 212.88 L217.25 212.48 L217.50 211.79 L217.75 210.71 L218.00 209.31 L218.25 208.06 L218.50 207.90 L218.75 208.99 L219.00 210.40 L219.25 211.53 L219.50 212.26 L219.75 212.68 L220.00 212.90 L220.25 213.01 L220.50 213.05 L220.75 213.07 L221.00 213.05 L221.25 213.01 L221.50 212.95 L221.75 212.85 L222.00 212.70 L222.25 212.50 L222.50 212.20 L222.75 211.70 L223.00 210.82 L223.25 209.25 L223.50 206.60 L223.75 202.72 L224.00 198.19 L224.25 195.29 L224.50 196.63 L224.75 200.87 L225.00 205.14 L225.25 208.26 L225.50 210.20 L225.75 211.29 L226.00 211.88 L226.25 212.21 L226.50 212.40 L226.75 212.51 L227.00 212.56 L227.25 212.55 L227.50 212.48 L227.75 212.31 L228.00 212.00 L228.25 211.40 L228.50 210.30 L228.75 208.47 L229.00 205.86 L229.25 203.02 L229.50 201.61 L229.75 202.93 L230.00 205.67 L230.25 208.13 L230.50 209.69 L230.75 210.30 L231.00 210.08 L231.25 209.18 L231.50 207.93 L231.75 207.14 L232.00 207.69 L232.25 209.16 L232.50 210.62 L232.75 211.70 L233.00 212.38 L233.25 212.78 L233.50 213.01 L233.75 213.16 L234.00 213.26 L234.25 213.34 L234.50 213.40 L234.75 213.44 L235.00 213.48 L235.25 213.51 L235.50 213.54 L235.75 213.56 L236.00 213.58 L236.25 213.60 L236.50 213.61 L236.75 213.63 L237.00 213.64 L237.25 213.65 L237.50 213.66 L237.75 213.66 L238.00 213.67 L238.25 213.68 L238.50 213.68 L238.75 213.69 L239.00 213.69 L239.25 213.70 L239.50 213.70 L239.75 213.71 L240.00 213.71 L240.25 213.71 L240.50 213.72 L240.75 213.72 L241.00 213.72 L241.25 213.73 L241.50 213.73 L241.75 213.73 L242.00 213.73 L242.25 213.73 L242.50 213.74 L242.75 213.74 L243.00 213.74 L243.25 213.74 L243.50 213.74 L243.75 213.74 L244.00 213.74 L244.25 213.74 L244.50 213.74 L244.75 213.75 L245.00 213.75 L245.25 213.75 L245.50 213.75 L245.75 213.75 L246.00 213.75 L246.25 213.75 L246.50 213.75 L246.75 213.75 L247.00 213.75 L247.25 213.75 L247.50 213.75 L247.75 213.75 L248.00 213.75 L248.25 213.75 L248.50 213.75 L248.75 213.75 L249.00 213.75 L249.25 213.74 L249.50 213.74 L249.75 213.74 L250.00 213.74 L250.25 213.74 L250.50 213.73 L250.75 213.73 L251.00 213.73 L251.25 213.72 L251.50 213.72 L251.75 213.71 L252.00 213.70 L252.25 213.69 L252.50 213.68 L252.75 213.67 L253.00 213.65 L253.25 213.63 L253.50 213.60 L253.75 213.56 L254.00 213.51 L254.25 213.43 L254.50 213.30 L254.75 213.08 L255.00 212.68 L255.25 212.02 L255.50 211.08 L255.75 210.07 L256.00 209.57 L256.25 210.07 L256.50 211.08 L256.75 212.02 L257.00 212.68 L257.25 213.08 L257.50 213.30 L257.75 213.43 L258.00 213.51 L258.25 213.56 L258.50 213.60 L258.75 213.62 L259.00 213.65 L259.25 213.66 L259.50 213.68 L259.75 213.69 L260.00 213.69 L260.25 213.70 L260.50 213.71 L260.75 213.71 L261.00 213.71 L261.25 213.71 L261.50 213.72 L261.75 213.72 L262.00 213.72 L262.25 213.72 L262.50 213.72 L262.75 213.72 L263.00 213.72 L263.25 213.72 L263.50 213.72 L263.75 213.72 L264.00 213.71 L264.25 213.71 L264.50 213.71 L264.75 213.71 L265.00 213.70 L265.25 213.70 L265.50 213.70 L265.75 213.69 L266.00 213.68 L266.25 213.68 L266.50 213.67 L266.75 213.66 L267.00 213.65 L267.25 213.64 L267.50 213.62 L267.75 213.60 L268.00 213.58 L268.25 213.56 L268.50 213.53 L268.75 213.50 L269.00 213.46 L269.25 213.41 L269.50 213.34 L269.75 213.26 L270.00 213.15 L270.25 213.01 L270.50 212.80 L270.75 212.49 L271.00 211.95 L271.25 210.98 L271.50 209.31 L271.75 206.69 L272.00 203.27 L272.25 200.23 L272.50 199.88 L272.75 202.57 L273.00 206.05 L273.25 208.86 L273.50 210.71 L273.75 211.80 L274.00 212.40 L274.25 212.75 L274.50 212.97 L274.75 213.13 L275.00 213.24 L275.25 213.33 L275.50 213.40 L275.75 213.45 L276.00 213.49 L276.25 213.53 L276.50 213.56 L276.75 213.58 L277.00 213.60 L277.25 213.62 L277.50 213.64 L277.75 213.65 L278.00 213.66 L278.25 213.67 L278.50 213.68 L278.75 213.69 L279.00 213.69 L279.25 213.70 L279.50 213.70 L279.75 213.71 L280.00 213.71 L280.25 213.72 L280.50 213.72 L280.75 213.72 L281.00 213.73 L281.25 213.73 L281.50 213.73 L281.75 213.73 L282.00 213.73 L282.25 213.74 L282.50 213.74 L282.75 213.74 L283.00 213.74 L283.25 213.74 L283.50 213.74 L283.75 213.74 L284.00 213.74 L284.25 213.74 L284.50 213.74 L284.75 213.74 L285.00 213.74 L285.25 213.74 L285.50 213.74 L285.75 213.74 L286.00 213.74 L286.25 213.74 L286.50 213.74 L286.75 213.74 L287.00 213.74 L287.25 213.74 L287.50 213.74 L287.75 213.73 L288.00 213.73 L288.25 213.73 L288.50 213.73 L288.75 213.73 L289.00 213.73 L289.25 213.72 L289.50 213.72 L289.75 213.72 L290.00 213.72 L290.25 213.71 L290.50 213.71 L290.75 213.71 L291.00 213.70 L291.25 213.70 L291.50 213.70 L291.75 213.69 L292.00 213.69 L292.25 213.68 L292.50 213.68 L292.75 213.67 L293.00 213.66 L293.25 213.65 L293.50 213.64 L293.75 213.63 L294.00 213.62 L294.25 213.61 L294.50 213.60 L294.75 213.58 L295.00 213.56 L295.25 213.54 L295.50 213.52 L295.75 213.50 L296.00 213.47 L296.25 213.43 L296.50 213.39 L296.75 213.34 L297.00 213.28 L297.25 213.21 L297.50 213.13 L297.75 213.03 L298.00 212.89 L298.25 212.73 L298.50 212.51 L298.75 212.22 L299.00 211.80 L299.25 211.16 L299.50 210.07 L299.75 208.11 L300.00 204.70 L300.25 199.39 L300.50 192.46 L300.75 186.30 L301.00 185.59 L301.25 191.03 L301.50 198.10 L301.75 203.80 L302.00 207.56 L302.25 209.76 L302.50 210.99 L302.75 211.69 L303.00 212.14 L303.25 212.46 L303.50 212.69 L303.75 212.86 L304.00 213.00 L304.25 213.11 L304.50 213.20 L304.75 213.27 L305.00 213.33 L305.25 213.38 L305.50 213.42 L305.75 213.46 L306.00 213.49 L306.25 213.51 L306.50 213.54 L306.75 213.56 L307.00 213.58 L307.25 213.59 L307.50 213.61 L307.75 213.62 L308.00 213.63 L308.25 213.64 L308.50 213.65 L308.75 213.66 L309.00 213.66 L309.25 213.67 L309.50 213.68 L309.75 213.68 L310.00 213.69 L310.25 213.69 L310.50 213.70 L310.75 213.70 L311.00 213.70 L311.25 213.71 L311.50 213.71 L311.75 213.71 L312.00 213.71 L312.25 213.72 L312.50 213.72 L312.75 213.72 L313.00 213.72 L313.25 213.72 L313.50 213.72 L313.75 213.73 L314.00 213.73 L314.25 213.73 L314.50 213.73 L314.75 213.73 L315.00 213.73 L315.25 213.73 L315.50 213.73 L315.75 213.73 L316.00 213.72 L316.25 213.72 L316.50 213.72 L316.75 213.72 L317.00 213.72 L317.25 213.72 L317.50 213.71 L317.75 213.71 L318.00 213.71 L318.25 213.70 L318.50 213.70 L318.75 213.69 L319.00 213.69 L319.25 213.68 L319.50 213.67 L319.75 213.66 L320.00 213.65 L320.25 213.64 L320.50 213.62 L320.75 213.60 L321.00 213.58 L321.25 213.55 L321.50 213.52 L321.75 213.48 L322.00 213.42 L322.25 213.36 L322.50 213.27 L322.75 213.14 L323.00 212.96 L323.25 212.68 L323.50 212.17 L323.75 211.26 L324.00 209.74 L324.25 207.50 L324.50 204.90 L324.75 203.23 L325.00 204.01 L325.25 206.46 L325.50 208.93 L325.75 210.74 L326.00 211.86 L326.25 212.51 L326.50 212.87 L326.75 213.08 L327.00 213.22 L327.25 213.32 L327.50 213.40 L327.75 213.46 L328.00 213.50 L328.25 213.54 L328.50 213.57 L328.75 213.59 L329.00 213.61 L329.25 213.63 L329.50 213.64 L329.75 213.66 L330.00 213.67 L330.25 213.68 L330.50 213.68 L330.75 213.69 L331.00 213.69 L331.25 213.70 L331.50 213.70 L331.75 213.71 L332.00 213.71 L332.25 213.71 L332.50 213.72 L332.75 213.72 L333.00 213.72 L333.25 213.72 L333.50 213.72 L333.75 213.72 L334.00 213.72 L334.25 213.72 L334.50 213.72 L334.75 213.72 L335.00 213.72 L335.25 213.72 L335.50 213.72 L335.75 213.71 L336.00 213.71 L336.25 213.71 L336.50 213.70 L336.75 213.70 L337.00 213.69 L337.25 213.69 L337.50 213.68 L337.75 213.67 L338.00 213.66 L338.25 213.65 L338.50 213.64 L338.75 213.62 L339.00 213.60 L339.25 213.57 L339.50 213.54 L339.75 213.50 L340.00 213.45 L340.25 213.39 L340.50 213.30 L340.75 213.18 L341.00 213.00 L341.25 212.69 L341.50 212.14 L341.75 211.17 L342.00 209.62 L342.25 207.50 L342.50 205.40 L342.75 204.73 L343.00 206.16 L343.25 208.40 L343.50 210.32 L343.75 211.62 L344.00 212.40 L344.25 212.84 L344.50 213.09 L344.75 213.24 L345.00 213.35 L345.25 213.42 L345.50 213.48 L345.75 213.53 L346.00 213.56 L346.25 213.59 L346.50 213.61 L346.75 213.63 L347.00 213.65 L347.25 213.66 L347.50 213.68 L347.75 213.69 L348.00 213.69 L348.25 213.70 L348.50 213.71 L348.75 213.71 L349.00 213.72 L349.25 213.72 L349.50 213.73 L349.75 213.73 L350.00 213.73 L350.25 213.73 L350.50 213.74 L350.75 213.74 L351.00 213.74 L351.25 213.74 L351.50 213.74 L351.75 213.74 L352.00 213.75 L352.25 213.75 L352.50 213.75 L352.75 213.75 L353.00 213.75 L353.25 213.75 L353.50 213.75 L353.75 213.75 L354.00 213.75 L354.25 213.75 L354.50 213.74 L354.75 213.74 L355.00 213.74 L355.25 213.74 L355.50 213.74 L355.75 213.74 L356.00 213.74 L356.25 213.73 L356.50 213.73 L356.75 213.73 L357.00 213.72 L357.25 213.72 L357.50 213.72 L357.75 213.71 L358.00 213.71 L358.25 213.70 L358.50 213.69 L358.75 213.68 L359.00 213.68 L359.25 213.66 L359.50 213.65 L359.75 213.64 L360.00 213.62 L360.25 213.60 L360.50 213.57 L360.75 213.54 L361.00 213.50 L361.25 213.45 L361.50 213.39 L361.75 213.30 L362.00 213.18 L362.25 213.01 L362.50 212.73 L362.75 212.22 L363.00 211.33 L363.25 209.87 L363.50 207.79 L363.75 205.54 L364.00 204.44 L364.25 205.54 L364.50 207.78 L364.75 209.84 L365.00 211.29 L365.25 212.17 L365.50 212.66 L365.75 212.93 L366.00 213.09 L366.25 213.18 L366.50 213.24 L366.75 213.26 L367.00 213.26 L367.25 213.23 L367.50 213.15 L367.75 212.98 L368.00 212.65 L368.25 212.06 L368.50 211.17 L368.75 210.05 L369.00 209.19 L369.25 209.31 L369.50 210.31 L369.75 211.42 L370.00 212.27 L370.25 212.82 L370.50 213.14 L370.75 213.32 L371.00 213.43 L371.25 213.50 L371.50 213.55 L371.75 213.58 L372.00 213.61 L372.25 213.64 L372.50 213.66 L372.75 213.67 L373.00 213.68 L373.25 213.70 L373.50 213.70 L373.75 213.71 L374.00 213.72 L374.25 213.73 L374.50 213.73 L374.75 213.74 L375.00 213.74 L375.25 213.74 L375.50 213.75 L375.75 213.75 L376.00 213.75 L376.25 213.76 L376.50 213.76 L376.75 213.76 L377.00 213.76 L377.25 213.76 L377.50 213.77 L377.75 213.77 L378.00 213.77 L378.25 213.77 L378.50 213.77 L378.75 213.77 L379.00 213.77 L379.25 213.77 L379.50 213.78 L379.75 213.78 L380.00 213.78 L380.25 213.78 L380.50 213.78 L380.75 213.78 L381.00 213.78 L381.25 213.78 L381.50 213.78 L381.75 213.78 L382.00 213.78 L382.25 213.78 L382.50 213.78 L382.75 213.78 L383.00 213.79 L383.25 213.79 L383.50 213.79 L383.75 213.79 L384.00 213.79 L384.25 213.79 L384.50 213.79 L384.75 213.79 L385.00 213.79 L385.25 213.79 L385.50 213.79 L385.75 213.79 L386.00 213.79 L386.25 213.79 L386.50 213.79 L386.75 213.79 L387.00 213.79 L387.25 213.79 L387.50 213.79 L387.75 213.79 L388.00 213.79 L388.25 213.79 L388.50 213.79 L388.75 213.79 L389.00 213.79 L389.25 213.79 L389.50 213.79 L389.75 213.79 L390.00 213.79 L390.25 213.79 L390.50 213.79 L390.75 213.79 L391.00 213.79 L391.25 213.79 L391.50 213.79 L391.75 213.79 L392.00 213.79 L392.25 213.79 L392.50 213.79 L392.75 213.79 L393.00 213.79 L393.25 213.79 L393.50 213.79 L393.75 213.79 L394.00 213.79 L394.25 213.79 L394.50 213.78 L394.75 213.78 L395.00 213.78 L395.25 213.78 L395.50 213.78 L395.75 213.78 L396.00 213.78 L396.25 213.77 L396.50 213.77 L396.75 213.77 L397.00 213.76 L397.25 213.76 L397.50 213.75 L397.75 213.74 L398.00 213.72 L398.25 213.70 L398.50 213.67 L398.75 213.63 L399.00 213.57 L399.25 213.52 L399.50 213.46 L399.75 213.41 L400.00 213.40 L400.25 213.41 L400.50 213.46 L400.75 213.52 L401.00 213.58 L401.25 213.63 L401.50 213.67 L401.75 213.70 L402.00 213.72 L402.25 213.74 L402.50 213.75 L402.75 213.76 L403.00 213.77 L403.25 213.77 L403.50 213.77 L403.75 213.78 L404.00 213.78 L404.25 213.78 L404.50 213.78 L404.75 213.79 L405.00 213.79 L405.25 213.79 L405.50 213.79 L405.75 213.79 L406.00 213.79 L406.25 213.79 L406.50 213.79 L406.75 213.79 L407.00 213.79 L407.25 213.79 L407.50 213.79 L407.75 213.79 L408.00 213.79 L408.25 213.79 L408.50 213.79 L408.75 213.79 L409.00 213.79 L409.25 213.80 L409.50 213.80 L409.75 213.80 L410.00 213.80 L410.25 213.80 L410.50 213.80 L410.75 213.80 L411.00 213.80 L411.25 213.80 L411.50 213.80 L411.75 213.80 L412.00 213.80 L412.25 213.80 L412.50 213.80 L412.75 213.80 L413.00 213.80 L413.25 213.80 L413.50 213.80 L413.75 213.80 L414.00 213.80 L414.25 213.80 L414.50 213.80 L414.75 213.80 L415.00 213.80 L415.25 213.80 L415.50 213.80 L415.75 213.80 L416.00 213.80 L416.25 213.80 L416.50 213.80 L416.75 213.80 L417.00 213.80 L417.25 213.80 L417.50 213.80 L417.75 213.80 L418.00 213.80 L418.25 213.80 L418.50 213.80 L418.75 213.80 L419.00 213.80 L419.25 213.80 L419.50 213.80 L419.75 213.79 L420.00 213.79 L420.25 213.79 L420.50 213.79 L420.75 213.79 L421.00 213.79 L421.25 213.79 L421.50 213.79 L421.75 213.79 L422.00 213.79 L422.25 213.79 L422.50 213.79 L422.75 213.79 L423.00 213.79 L423.25 213.79 L423.50 213.79 L423.75 213.79 L424.00 213.79 L424.25 213.79 L424.50 213.78 L424.75 213.78 L425.00 213.78 L425.25 213.78 L425.50 213.78 L425.75 213.77 L426.00 213.77 L426.25 213.77 L426.50 213.76 L426.75 213.75 L427.00 213.74 L427.25 213.73 L427.50 213.71 L427.75 213.68 L428.00 213.64 L428.25 213.59 L428.50 213.52 L428.75 213.45 L429.00 213.38 L429.25 213.32 L429.50 213.30 L429.75 213.32 L430.00 213.38 L430.25 213.45 L430.50 213.52 L430.75 213.59 L431.00 213.64 L431.25 213.68 L431.50 213.71 L431.75 213.73 L432.00 213.74 L432.25 213.75 L432.50 213.76 L432.75 213.76 L433.00 213.77 L433.25 213.77 L433.50 213.78 L433.75 213.78 L434.00 213.78 L434.25 213.78 L434.50 213.78 L434.75 213.78 L435.00 213.79 L435.25 213.79 L435.50 213.79 L435.75 213.79 L436.00 213.79 L436.25 213.79 L436.50 213.79 L436.75 213.79 L437.00 213.79 L437.25 213.79 L437.50 213.79 L437.75 213.79 L438.00 213.79 L438.25 213.79 L438.50 213.79 L438.75 213.79 L439.00 213.79 L439.25 213.79 L439.50 213.79 L439.75 213.79 L440.00 213.79 L440.25 213.79 L440.50 213.79 L440.75 213.79 L441.00 213.79 L441.25 213.79 L441.50 213.79 L441.75 213.80 L442.00 213.80 L442.25 213.80 L442.50 213.80 L442.75 213.80 L443.00 213.79 L443.25 213.79 L443.50 213.79 L443.75 213.79 L444.00 213.79 L444.25 213.79 L444.50 213.79 L444.75 213.79 L445.00 213.79 L445.25 213.79 L445.50 213.79 L445.75 213.79 L446.00 213.79 L446.25 213.79 L446.50 213.79 L446.75 213.79 L447.00 213.79 L447.25 213.79 L447.50 213.79 L447.75 213.79 L448.00 213.79 L448.25 213.79 L448.50 213.79 L448.75 213.79 L449.00 213.79 L449.25 213.79 L449.50 213.79 L449.75 213.78 L450.00 213.78 L450.25 213.78 L450.50 213.78 L450.75 213.78 L451.00 213.77 L451.25 213.77 L451.50 213.77 L451.75 213.76 L452.00 213.75 L452.25 213.74 L452.50 213.72 L452.75 213.70 L453.00 213.67 L453.25 213.63 L453.50 213.58 L453.75 213.52 L454.00 213.46 L454.25 213.42 L454.50 213.40 L454.75 213.42 L455.00 213.46 L455.25 213.52 L455.50 213.58 L455.75 213.63 L456.00 213.67 L456.25 213.70 L456.50 213.72 L456.75 213.74 L457.00 213.75 L457.25 213.76 L457.50 213.76 L457.75 213.77 L458.00 213.77 L458.25 213.78 L458.50 213.78 L458.75 213.78 L459.00 213.78 L459.25 213.78 L459.50 213.78 L459.75 213.78 L460.00 213.78 L460.25 213.78 L460.50 213.78 L460.75 213.78 L461.00 213.78 L461.25 213.78 L461.50 213.78 L461.75 213.78 L462.00 213.78 L462.25 213.78 L462.50 213.78 L462.75 213.78 L463.00 213.78 L463.25 213.78 L463.50 213.78 L463.75 213.78 L464.00 213.77 L464.25 213.77 L464.50 213.77 L464.75 213.76 L465.00 213.75 L465.25 213.74 L465.50 213.73 L465.75 213.71 L466.00 213.68 L466.25 213.64 L466.50 213.60 L466.75 213.54 L467.00 213.48 L467.25 213.43 L467.50 213.40 L467.75 213.40 L468.00 213.44 L468.25 213.49 L468.50 213.55 L468.75 213.61 L469.00 213.65 L469.25 213.69 L469.50 213.71 L469.75 213.73 L470.00 213.75 L470.25 213.76 L470.50 213.76 L470.75 213.77 L471.00 213.77 L471.25 213.78 L471.50 213.78 L471.75 213.78 L472.00 213.78 L472.25 213.78 L472.50 213.79 L472.75 213.79 L473.00 213.79 L473.25 213.79 L473.50 213.79 L473.75 213.79 L474.00 213.79 L474.25 213.79 L474.50 213.79 L474.75 213.79 L475.00 213.79 L475.25 213.79 L475.50 213.79 L475.75 213.79 L476.00 213.79 L476.25 213.79 L476.50 213.79 L476.75 213.79 L477.00 213.79 L477.25 213.79 L477.50 213.79 L477.75 213.79 L478.00 213.79 L478.25 213.79 L478.50 213.80 L478.75 213.80 L479.00 213.80 L479.25 213.80 L479.50 213.80 L479.75 213.80 L480.00 213.80 L480.25 213.80 L480.50 213.80 L480.75 213.80 L481.00 213.80 L481.25 213.80 L481.50 213.80 L481.75 213.80 L482.00 213.80 L482.25 213.80 L482.50 213.80 L482.75 213.80 L483.00 213.80 L483.25 213.80 L483.50 213.80 L483.75 213.80 L484.00 213.80 L484.25 213.80 L484.50 213.79 L484.75 213.79 L485.00 213.79 L485.25 213.79 L485.50 213.79 L485.75 213.79 L486.00 213.79 L486.25 213.79 L486.50 213.79 L486.75 213.79 L487.00 213.79 L487.25 213.79 L487.50 213.79 L487.75 213.79 L488.00 213.79 L488.25 213.79 L488.50 213.79 L488.75 213.79 L489.00 213.79 L489.25 213.79 L489.50 213.79 L489.75 213.79 L490.00 213.79 L490.25 213.79 L490.50 213.79 L490.75 213.79 L491.00 213.79 L491.25 213.79 L491.50 213.79 L491.75 213.79 L492.00 213.78 L492.25 213.78 L492.50 213.78 L492.75 213.78 L493.00 213.78 L493.25 213.78 L493.50 213.78 L493.75 213.77 L494.00 213.77 L494.25 213.77 L494.50 213.77 L494.75 213.76 L495.00 213.76 L495.25 213.75 L495.50 213.75 L495.75 213.74 L496.00 213.73 L496.25 213.72 L496.50 213.71 L496.75 213.69 L497.00 213.66 L497.25 213.62 L497.50 213.57 L497.75 213.49 L498.00 213.40 L498.25 213.27 L498.50 213.13 L498.75 212.99 L499.00 212.86 L499.25 212.80 L499.50 212.83 L499.75 212.93 L500.00 213.07 L500.25 213.22 L500.50 213.35 L500.75 213.46 L501.00 213.54 L501.25 213.60 L501.50 213.65 L501.75 213.68 L502.00 213.70 L502.25 213.72 L502.50 213.73 L502.75 213.74 L503.00 213.75 L503.25 213.75 L503.50 213.76 L503.75 213.76 L504.00 213.77 L504.25 213.77 L504.50 213.77 L504.75 213.77 L505.00 213.78 L505.25 213.78 L505.50 213.78 L505.75 213.78 L506.00 213.78 L506.25 213.78 L506.50 213.78 L506.75 213.79 L507.00 213.79 L507.25 213.79 L507.50 213.79 L507.75 213.79 L508.00 213.79 L508.25 213.79 L508.50 213.79 L508.75 213.79 L509.00 213.79 L509.25 213.79 L509.50 213.79 L509.75 213.79 L510.00 213.79 L510.25 213.79 L510.50 213.79 L510.75 213.79 L511.00 213.79 L511.25 213.79 L511.50 213.79 L511.75 213.79 L512.00 213.80 L512.25 213.80 L512.50 213.80 L512.75 213.80 L513.00 213.80 L513.25 213.80 L513.50 213.80" fill="none" stroke="#ed7d31" stroke-width="2.5" stroke-linejoin="round"/>
<path d="M53.00 298.50 L53.25 298.50 L53.50 298.50 L53.75 298.49 L54.00 298.49 L54.25 298.49 L54.50 298.49 L54.75 298.49 L55.00 298.49 L55.25 298.49 L55.50 298.49 L55.75 298.49 L56.00 298.49 L56.25 298.49 L56.50 298.49 L56.75 298.49 L57.00 298.49 L57.25 298.49 L57.50 298.49 L57.75 298.48 L58.00 298.48 L58.25 298.48 L58.50 298.48 L58.75 298.48 L59.00 298.47 L59.25 298.47 L59.50 298.46 L59.75 298.46 L60.00 298.45 L60.25 298.44 L60.50 298.42 L60.75 298.40 L61.00 298.37 L61.25 298.33 L61.50 298.27 L61.75 298.21 L62.00 298.14 L62.25 298.06 L62.50 298.01 L62.75 298.00 L63.00 298.03 L63.25 298.09 L63.50 298.17 L63.75 298.24 L64.00 298.30 L64.25 298.35 L64.50 298.38 L64.75 298.41 L65.00 298.43 L65.25 298.44 L65.50 298.45 L65.75 298.46 L66.00 298.47 L66.25 298.47 L66.50 298.47 L66.75 298.48 L67.00 298.48 L67.25 298.48 L67.50 298.48 L67.75 298.48 L68.00 298.48 L68.25 298.49 L68.50 298.49 L68.75 298.49 L69.00 298.49 L69.25 298.49 L69.50 298.49 L69.75 298.49 L70.00 298.49 L70.25 298.49 L70.50 298.49 L70.75 298.49 L71.00 298.49 L71.25 298.49 L71.50 298.49 L71.75 298.49 L72.00 298.49 L72.25 298.48 L72.50 298.48 L72.75 298.48 L73.00 298.48 L73.25 298.48 L73.50 298.48 L73.75 298.48 L74.00 298.48 L74.25 298.48 L74.50 298.48 L74.75 298.48 L75.00 298.48 L75.25 298.48 L75.50 298.48 L75.75 298.48 L76.00 298.48 L76.25 298.47 L76.50 298.47 L76.75 298.47 L77.00 298.47 L77.25 298.47 L77.50 298.47 L77.75 298.46 L78.00 298.46 L78.25 298.46 L78.50 298.45 L78.75 298.45 L79.00 298.44 L79.25 298.43 L79.50 298.42 L79.75 298.40 L80.00 298.37 L80.25 298.33 L80.50 298.28 L80.75 298.23 L81.00 298.17 L81.25 298.11 L81.50 298.08 L81.75 298.09 L82.00 298.12 L82.25 298.17 L82.50 298.23 L82.75 298.28 L83.00 298.33 L83.25 298.36 L83.50 298.39 L83.75 298.41 L84.00 298.42 L84.25 298.43 L84.50 298.44 L84.75 298.44 L85.00 298.45 L85.25 298.45 L85.50 298.45 L85.75 298.45 L86.00 298.45 L86.25 298.45 L86.50 298.45 L86.75 298.46 L87.00 298.46 L87.25 298.46 L87.50 298.46 L87.75 298.46 L88.00 298.46 L88.25 298.46 L88.50 298.46 L88.75 298.46 L89.00 298.45 L89.25 298.45 L89.50 298.45 L89.75 298.45 L90.00 298.45 L90.25 298.45 L90.50 298.45 L90.75 298.45 L91.00 298.45 L91.25 298.45 L91.50 298.45 L91.75 298.45 L92.00 298.45 L92.25 298.45 L92.50 298.44 L92.75 298.44 L93.00 298.44 L93.25 298.44 L93.50 298.44 L93.75 298.44 L94.00 298.44 L94.25 298.43 L94.50 298.43 L94.75 298.43 L95.00 298.43 L95.25 298.43 L95.50 298.43 L95.75 298.42 L96.00 298.42 L96.25 298.42 L96.50 298.42 L96.75 298.41 L97.00 298.41 L97.25 298.41 L97.50 298.41 L97.75 298.40 L98.00 298.40 L98.25 298.40 L98.50 298.39 L98.75 298.39 L99.00 298.39 L99.25 298.38 L99.50 298.38 L99.75 298.37 L100.00 298.37 L100.25 298.36 L100.50 298.36 L100.75 298.35 L101.00 298.34 L101.25 298.34 L101.50 298.33 L101.75 298.32 L102.00 298.31 L102.25 298.30 L102.50 298.29 L102.75 298.28 L103.00 298.26 L103.25 298.25 L103.50 298.24 L103.75 298.22 L104.00 298.21 L104.25 298.19 L104.50 298.17 L104.75 298.15 L105.00 298.13 L105.25 298.10 L105.50 298.07 L105.75 298.04 L106.00 298.00 L106.25 297.96 L106.50 297.91 L106.75 297.86 L107.00 297.80 L107.25 297.73 L107.50 297.65 L107.75 297.55 L108.00 297.44 L108.25 297.30 L108.50 297.14 L108.75 296.94 L109.00 296.68 L109.25 296.37 L109.50 295.96 L109.75 295.41 L110.00 294.66 L110.25 293.55 L110.50 291.72 L110.75 288.48 L111.00 282.73 L111.25 273.29 L111.50 259.91 L111.75 245.39 L112.00 238.30 L112.25 245.38 L112.50 259.89 L112.75 273.27 L113.00 282.70 L113.25 288.43 L113.50 291.66 L113.75 293.48 L114.00 294.58 L114.25 295.32 L114.50 295.85 L114.75 296.25 L115.00 296.55 L115.25 296.79 L115.50 296.97 L115.75 297.12 L116.00 297.23 L116.25 297.32 L116.50 297.39 L116.75 297.44 L117.00 297.47 L117.25 297.49 L117.50 297.50 L117.75 297.49 L118.00 297.46 L118.25 297.42 L118.50 297.35 L118.75 297.26 L119.00 297.13 L119.25 296.96 L119.50 296.72 L119.75 296.39 L120.00 295.89 L120.25 295.08 L120.50 293.64 L120.75 291.06 L121.00 286.72 L121.25 280.34 L121.50 272.90 L121.75 268.15 L122.00 270.38 L122.25 277.39 L122.50 284.45 L122.75 289.63 L123.00 292.86 L123.25 294.70 L123.50 295.73 L123.75 296.35 L124.00 296.76 L124.25 297.05 L124.50 297.27 L124.75 297.44 L125.00 297.57 L125.25 297.68 L125.50 297.77 L125.75 297.84 L126.00 297.90 L126.25 297.95 L126.50 297.99 L126.75 298.03 L127.00 298.06 L127.25 298.09 L127.50 298.11 L127.75 298.13 L128.00 298.15 L128.25 298.17 L128.50 298.18 L128.75 298.19 L129.00 298.20 L129.25 298.21 L129.50 298.22 L129.75 298.23 L130.00 298.23 L130.25 298.24 L130.50 298.24 L130.75 298.24 L131.00 298.24 L131.25 298.25 L131.50 298.25 L131.75 298.25 L132.00 298.25 L132.25 298.24 L132.50 298.24 L132.75 298.24 L133.00 298.23 L133.25 298.23 L133.50 298.22 L133.75 298.22 L134.00 298.21 L134.25 298.20 L134.50 298.19 L134.75 298.17 L135.00 298.16 L135.25 298.14 L135.50 298.13 L135.75 298.11 L136.00 298.08 L136.25 298.06 L136.50 298.03 L136.75 297.99 L137.00 297.96 L137.25 297.91 L137.50 297.86 L137.75 297.80 L138.00 297.73 L138.25 297.65 L138.50 297.55 L138.75 297.43 L139.00 297.28 L139.25 297.11 L139.50 296.89 L139.75 296.61 L140.00 296.25 L140.25 295.77 L140.50 295.11 L140.75 294.12 L141.00 292.50 L141.25 289.64 L141.50 284.54 L141.75 276.18 L142.00 264.31 L142.25 251.43 L142.50 245.15 L142.75 251.43 L143.00 264.31 L143.25 276.18 L143.50 284.55 L143.75 289.64 L144.00 292.51 L144.25 294.13 L144.50 295.12 L144.75 295.78 L145.00 296.26 L145.25 296.62 L145.50 296.90 L145.75 297.12 L146.00 297.30 L146.25 297.44 L146.50 297.56 L146.75 297.66 L147.00 297.75 L147.25 297.82 L147.50 297.88 L147.75 297.93 L148.00 297.98 L148.25 298.02 L148.50 298.05 L148.75 298.08 L149.00 298.11 L149.25 298.14 L149.50 298.16 L149.75 298.18 L150.00 298.19 L150.25 298.21 L150.50 298.22 L150.75 298.24 L151.00 298.25 L151.25 298.26 L151.50 298.27 L151.75 298.28 L152.00 298.29 L152.25 298.30 L152.50 298.31 L152.75 298.31 L153.00 298.32 L153.25 298.32 L153.50 298.32 L153.75 298.33 L154.00 298.33 L154.25 298.33 L154.50 298.33 L154.75 298.33 L155.00 298.33 L155.25 298.32 L155.50 298.32 L155.75 298.31 L156.00 298.30 L156.25 298.29 L156.50 298.27 L156.75 298.24 L157.00 298.20 L157.25 298.14 L157.50 298.05 L157.75 297.94 L158.00 297.80 L158.25 297.64 L158.50 297.46 L158.75 297.31 L159.00 297.22 L159.25 297.23 L159.50 297.34 L159.75 297.50 L160.00 297.68 L160.25 297.84 L160.50 297.98 L160.75 298.08 L161.00 298.16 L161.25 298.22 L161.50 298.26 L161.75 298.29 L162.00 298.31 L162.25 298.33 L162.50 298.34 L162.75 298.35 L163.00 298.35 L163.25 298.36 L163.50 298.36 L163.75 298.37 L164.00 298.37 L164.25 298.37 L164.50 298.37 L164.75 298.37 L165.00 298.37 L165.25 298.37 L165.50 298.37 L165.75 298.37 L166.00 298.36 L166.25 298.36 L166.50 298.36 L166.75 298.36 L167.00 298.35 L167.25 298.35 L167.50 298.34 L167.75 298.33 L168.00 298.33 L168.25 298.32 L168.50 298.31 L168.75 298.30 L169.00 298.29 L169.25 298.27 L169.50 298.26 L169.75 298.24 L170.00 298.22 L170.25 298.20 L170.50 298.18 L170.75 298.14 L171.00 298.11 L171.25 298.06 L171.50 298.01 L171.75 297.94 L172.00 297.84 L172.25 297.71 L172.50 297.53 L172.75 297.28 L173.00 296.94 L173.25 296.51 L173.50 295.98 L173.75 295.37 L174.00 294.76 L174.25 294.26 L174.50 294.03 L174.75 294.15 L175.00 294.53 L175.25 295.03 L175.50 295.49 L175.75 295.86 L176.00 296.09 L176.25 296.17 L176.50 296.07 L176.75 295.74 L177.00 295.05 L177.25 293.71 L177.50 291.22 L177.75 287.09 L178.00 281.21 L178.25 274.81 L178.50 271.70 L178.75 274.85 L179.00 281.29 L179.25 287.23 L179.50 291.42 L179.75 293.97 L180.00 295.42 L180.25 296.23 L180.50 296.73 L180.75 297.07 L181.00 297.31 L181.25 297.50 L181.50 297.64 L181.75 297.76 L182.00 297.85 L182.25 297.93 L182.50 298.00 L182.75 298.05 L183.00 298.09 L183.25 298.13 L183.50 298.17 L183.75 298.19 L184.00 298.22 L184.25 298.24 L184.50 298.26 L184.75 298.27 L185.00 298.29 L185.25 298.30 L185.50 298.31 L185.75 298.32 L186.00 298.33 L186.25 298.34 L186.50 298.35 L186.75 298.36 L187.00 298.36 L187.25 298.37 L187.50 298.38 L187.75 298.38 L188.00 298.39 L188.25 298.39 L188.50 298.39 L188.75 298.40 L189.00 298.40 L189.25 298.40 L189.50 298.41 L189.75 298.41 L190.00 298.41 L190.25 298.41 L190.50 298.41 L190.75 298.42 L191.00 298.42 L191.25 298.42 L191.50 298.42 L191.75 298.42 L192.00 298.42 L192.25 298.42 L192.50 298.43 L192.75 298.43 L193.00 298.43 L193.25 298.43 L193.50 298.43 L193.75 298.43 L194.00 298.43 L194.25 298.43 L194.50 298.43 L194.75 298.43 L195.00 298.43 L195.25 298.43 L195.50 298.43 L195.75 298.43 L196.00 298.43 L196.25 298.43 L196.50 298.43 L196.75 298.42 L197.00 298.42 L197.25 298.42 L197.50 298.42 L197.75 298.42 L198.00 298.42 L198.25 298.42 L198.50 298.41 L198.75 298.41 L199.00 298.41 L199.25 298.41 L199.50 298.40 L199.75 298.40 L200.00 298.39 L200.25 298.39 L200.50 298.38 L200.75 298.38 L201.00 298.37 L201.25 298.36 L201.50 298.36 L201.75 298.35 L202.00 298.34 L202.25 298.32 L202.50 298.31 L202.75 298.29 L203.00 298.27 L203.25 298.25 L203.50 298.22 L203.75 298.18 L204.00 298.14 L204.25 298.09 L204.50 298.03 L204.75 297.94 L205.00 297.83 L205.25 297.68 L205.50 297.46 L205.75 297.10 L206.00 296.48 L206.25 295.37 L206.50 293.50 L206.75 290.76 L207.00 287.56 L207.25 285.52 L207.50 286.47 L207.75 289.47 L208.00 292.50 L208.25 294.71 L208.50 296.10 L208.75 296.88 L209.00 297.32 L209.25 297.58 L209.50 297.75 L209.75 297.88 L210.00 297.97 L210.25 298.04 L210.50 298.09 L210.75 298.13 L211.00 298.17 L211.25 298.19 L211.50 298.21 L211.75 298.23 L212.00 298.24 L212.25 298.25 L212.50 298.26 L212.75 298.27 L213.00 298.27 L213.25 298.27 L213.50 298.27 L213.75 298.27 L214.00 298.26 L214.25 298.25 L214.50 298.24 L214.75 298.23 L215.00 298.21 L215.25 298.18 L215.50 298.15 L215.75 298.11 L216.00 298.05 L216.25 297.97 L216.50 297.85 L216.75 297.65 L217.00 297.30 L217.25 296.69 L217.50 295.71 L217.75 294.37 L218.00 293.05 L218.25 292.62 L218.50 293.51 L218.75 294.89 L219.00 296.08 L219.25 296.88 L219.50 297.34 L219.75 297.59 L220.00 297.71 L220.25 297.77 L220.50 297.79 L220.75 297.79 L221.00 297.76 L221.25 297.70 L221.50 297.62 L221.75 297.50 L222.00 297.34 L222.25 297.10 L222.50 296.73 L222.75 296.10 L223.00 294.99 L223.25 293.02 L223.50 289.85 L223.75 285.54 L224.00 281.26 L224.25 279.90 L224.50 282.79 L224.75 287.33 L225.00 291.22 L225.25 293.86 L225.50 295.42 L225.75 296.28 L226.00 296.75 L226.25 297.02 L226.50 297.18 L226.75 297.28 L227.00 297.31 L227.25 297.29 L227.50 297.22 L227.75 297.05 L228.00 296.73 L228.25 296.13 L228.50 295.03 L228.75 293.20 L229.00 290.60 L229.25 287.76 L229.50 286.36 L229.75 287.69 L230.00 290.45 L230.25 292.93 L230.50 294.54 L230.75 295.24 L231.00 295.16 L231.25 294.47 L231.50 293.46 L231.75 292.83 L232.00 293.31 L232.25 294.55 L232.50 295.78 L232.75 296.68 L233.00 297.26 L233.25 297.60 L233.50 297.79 L233.75 297.92 L234.00 298.01 L234.25 298.08 L234.50 298.13 L234.75 298.17 L235.00 298.20 L235.25 298.23 L235.50 298.25 L235.75 298.27 L236.00 298.29 L236.25 298.31 L236.50 298.32 L236.75 298.33 L237.00 298.34 L237.25 298.35 L237.50 298.36 L237.75 298.37 L238.00 298.37 L238.25 298.38 L238.50 298.38 L238.75 298.39 L239.00 298.39 L239.25 298.40 L239.50 298.40 L239.75 298.40 L240.00 298.41 L240.25 298.41 L240.50 298.41 L240.75 298.41 L241.00 298.42 L241.25 298.42 L241.50 298.42 L241.75 298.42 L242.00 298.42 L242.25 298.42 L242.50 298.43 L242.75 298.43 L243.00 298.43 L243.25 298.43 L243.50 298.43 L243.75 298.43 L244.00 298.43 L244.25 298.43 L244.50 298.43 L244.75 298.43 L245.00 298.43 L245.25 298.43 L245.50 298.43 L245.75 298.43 L246.00 298.43 L246.25 298.43 L246.50 298.43 L246.75 298.43 L247.00 298.42 L247.25 298.42 L247.50 298.42 L247.75 298.42 L248.00 298.42 L248.25 298.42 L248.50 298.41 L248.75 298.41 L249.00 298.41 L249.25 298.40 L249.50 298.40 L249.75 298.39 L250.00 298.39 L250.25 298.38 L250.50 298.37 L250.75 298.36 L251.00 298.35 L251.25 298.34 L251.50 298.33 L251.75 298.31 L252.00 298.29 L252.25 298.27 L252.50 298.24 L252.75 298.21 L253.00 298.16 L253.25 298.10 L253.50 298.02 L253.75 297.91 L254.00 297.74 L254.25 297.52 L254.50 297.21 L254.75 296.81 L255.00 296.31 L255.25 295.75 L255.50 295.18 L255.75 294.74 L256.00 294.57 L256.25 294.74 L256.50 295.18 L256.75 295.75 L257.00 296.31 L257.25 296.80 L257.50 297.20 L257.75 297.51 L258.00 297.74 L258.25 297.90 L258.50 298.01 L258.75 298.09 L259.00 298.15 L259.25 298.20 L259.50 298.23 L259.75 298.26 L260.00 298.28 L260.25 298.30 L260.50 298.31 L260.75 298.32 L261.00 298.33 L261.25 298.34 L261.50 298.35 L261.75 298.35 L262.00 298.36 L262.25 298.36 L262.50 298.36 L262.75 298.37 L263.00 298.37 L263.25 298.37 L263.50 298.37 L263.75 298.37 L264.00 298.37 L264.25 298.37 L264.50 298.37 L264.75 298.36 L265.00 298.36 L265.25 298.36 L265.50 298.35 L265.75 298.34 L266.00 298.34 L266.25 298.33 L266.50 298.32 L266.75 298.30 L267.00 298.29 L267.25 298.28 L267.50 298.26 L267.75 298.23 L268.00 298.21 L268.25 298.18 L268.50 298.14 L268.75 298.10 L269.00 298.04 L269.25 297.97 L269.50 297.89 L269.75 297.78 L270.00 297.64 L270.25 297.45 L270.50 297.18 L270.75 296.76 L271.00 296.05 L271.25 294.77 L271.50 292.55 L271.75 289.08 L272.00 284.56 L272.25 280.54 L272.50 280.07 L272.75 283.63 L273.00 288.24 L273.25 291.96 L273.50 294.41 L273.75 295.85 L274.00 296.65 L274.25 297.11 L274.50 297.41 L274.75 297.61 L275.00 297.76 L275.25 297.88 L275.50 297.97 L275.75 298.04 L276.00 298.10 L276.25 298.14 L276.50 298.18 L276.75 298.21 L277.00 298.24 L277.25 298.27 L277.50 298.29 L277.75 298.30 L278.00 298.32 L278.25 298.33 L278.50 298.34 L278.75 298.35 L279.00 298.36 L279.25 298.37 L279.50 298.38 L279.75 298.38 L280.00 298.39 L280.25 298.40 L280.50 298.40 L280.75 298.40 L281.00 298.41 L281.25 298.41 L281.50 298.42 L281.75 298.42 L282.00 298.42 L282.25 298.42 L282.50 298.43 L282.75 298.43 L283.00 298.43 L283.25 298.43 L283.50 298.43 L283.75 298.43 L284.00 298.43 L284.25 298.43 L284.50 298.44 L284.75 298.44 L285.00 298.44 L285.25 298.44 L285.50 298.44 L285.75 298.44 L286.00 298.44 L286.25 298.44 L286.50 298.44 L286.75 298.44 L287.00 298.44 L287.25 298.44 L287.50 298.43 L287.75 298.43 L288.00 298.43 L288.25 298.43 L288.50 298.43 L288.75 298.43 L289.00 298.43 L289.25 298.43 L289.50 298.43 L289.75 298.42 L290.00 298.42 L290.25 298.42 L290.50 298.42 L290.75 298.41 L291.00 298.41 L291.25 298.41 L291.50 298.40 L291.75 298.40 L292.00 298.40 L292.25 298.39 L292.50 298.39 L292.75 298.38 L293.00 298.37 L293.25 298.37 L293.50 298.36 L293.75 298.35 L294.00 298.34 L294.25 298.33 L294.50 298.32 L294.75 298.31 L295.00 298.29 L295.25 298.27 L295.50 298.26 L295.75 298.23 L296.00 298.21 L296.25 298.18 L296.50 298.14 L296.75 298.10 L297.00 298.05 L297.25 297.99 L297.50 297.92 L297.75 297.83 L298.00 297.72 L298.25 297.57 L298.50 297.39 L298.75 297.13 L299.00 296.78 L299.25 296.22 L299.50 295.28 L299.75 293.59 L300.00 290.66 L300.25 286.09 L300.50 280.12 L300.75 274.82 L301.00 274.20 L301.25 278.89 L301.50 284.98 L301.75 289.89 L302.00 293.12 L302.25 295.02 L302.50 296.08 L302.75 296.68 L303.00 297.07 L303.25 297.34 L303.50 297.54 L303.75 297.69 L304.00 297.81 L304.25 297.90 L304.50 297.98 L304.75 298.04 L305.00 298.09 L305.25 298.13 L305.50 298.17 L305.75 298.20 L306.00 298.23 L306.25 298.25 L306.50 298.27 L306.75 298.29 L307.00 298.30 L307.25 298.32 L307.50 298.33 L307.75 298.34 L308.00 298.35 L308.25 298.36 L308.50 298.37 L308.75 298.37 L309.00 298.38 L309.25 298.39 L309.50 298.39 L309.75 298.40 L310.00 298.40 L310.25 298.40 L310.50 298.41 L310.75 298.41 L311.00 298.41 L311.25 298.42 L311.50 298.42 L311.75 298.42 L312.00 298.42 L312.25 298.42 L312.50 298.43 L312.75 298.43 L313.00 298.43 L313.25 298.43 L313.50 298.43 L313.75 298.43 L314.00 298.43 L314.25 298.44 L314.50 298.44 L314.75 298.44 L315.00 298.44 L315.25 298.43 L315.50 298.43 L315.75 298.43 L316.00 298.43 L316.25 298.43 L316.50 298.43 L316.75 298.43 L317.00 298.43 L317.25 298.42 L317.50 298.42 L317.75 298.42 L318.00 298.42 L318.25 298.41 L318.50 298.41 L318.75 298.40 L319.00 298.40 L319.25 298.39 L319.50 298.38 L319.75 298.37 L320.00 298.36 L320.25 298.35 L320.50 298.34 L320.75 298.32 L321.00 298.30 L321.25 298.27 L321.50 298.24 L321.75 298.21 L322.00 298.16 L322.25 298.09 L322.50 298.01 L322.75 297.90 L323.00 297.74 L323.25 297.47 L323.50 297.01 L323.75 296.18 L324.00 294.78 L324.25 292.74 L324.50 290.35 L324.75 288.83 L325.00 289.54 L325.25 291.78 L325.50 294.04 L325.75 295.70 L326.00 296.73 L326.25 297.32 L326.50 297.65 L326.75 297.84 L327.00 297.97 L327.25 298.06 L327.50 298.13 L327.75 298.19 L328.00 298.23 L328.25 298.26 L328.50 298.29 L328.75 298.31 L329.00 298.33 L329.25 298.34 L329.50 298.36 L329.75 298.37 L330.00 298.38 L330.25 298.39 L330.50 298.39 L330.75 298.40 L331.00 298.40 L331.25 298.41 L331.50 298.41 L331.75 298.42 L332.00 298.42 L332.25 298.42 L332.50 298.42 L332.75 298.42 L333.00 298.43 L333.25 298.43 L333.50 298.43 L333.75 298.43 L334.00 298.43 L334.25 298.43 L334.50 298.43 L334.75 298.43 L335.00 298.43 L335.25 298.42 L335.50 298.42 L335.75 298.42 L336.00 298.42 L336.25 298.41 L336.50 298.41 L336.75 298.41 L337.00 298.40 L337.25 298.40 L337.50 298.39 L337.75 298.38 L338.00 298.37 L338.25 298.36 L338.50 298.35 L338.75 298.33 L339.00 298.31 L339.25 298.29 L339.50 298.26 L339.75 298.22 L340.00 298.18 L340.25 298.12 L340.50 298.03 L340.75 297.92 L341.00 297.75 L341.25 297.46 L341.50 296.95 L341.75 296.05 L342.00 294.59 L342.25 292.62 L342.50 290.65 L342.75 290.03 L343.00 291.36 L343.25 293.45 L343.50 295.25 L343.75 296.47 L344.00 297.19 L344.25 297.60 L344.50 297.83 L344.75 297.98 L345.00 298.08 L345.25 298.15 L345.50 298.20 L345.75 298.24 L346.00 298.28 L346.25 298.30 L346.50 298.33 L346.75 298.35 L347.00 298.36 L347.25 298.37 L347.50 298.38 L347.75 298.39 L348.00 298.40 L348.25 298.41 L348.50 298.41 L348.75 298.42 L349.00 298.42 L349.25 298.43 L349.50 298.43 L349.75 298.43 L350.00 298.44 L350.25 298.44 L350.50 298.44 L350.75 298.44 L351.00 298.44 L351.25 298.45 L351.50 298.45 L351.75 298.45 L352.00 298.45 L352.25 298.45 L352.50 298.45 L352.75 298.45 L353.00 298.45 L353.25 298.45 L353.50 298.45 L353.75 298.45 L354.00 298.45 L354.25 298.45 L354.50 298.45 L354.75 298.45 L355.00 298.44 L355.25 298.44 L355.50 298.44 L355.75 298.44 L356.00 298.44 L356.25 298.43 L356.50 298.43 L356.75 298.43 L357.00 298.42 L357.25 298.42 L357.50 298.42 L357.75 298.41 L358.00 298.40 L358.25 298.40 L358.50 298.39 L358.75 298.38 L359.00 298.37 L359.25 298.36 L359.50 298.34 L359.75 298.32 L360.00 298.30 L360.25 298.27 L360.50 298.24 L360.75 298.20 L361.00 298.15 L361.25 298.08 L361.50 297.99 L361.75 297.85 L362.00 297.64 L362.25 297.28 L362.50 296.63 L362.75 295.52 L363.00 293.83 L363.25 291.74 L363.50 290.13 L363.75 290.34 L364.00 292.15 L364.25 294.19 L364.50 295.76 L364.75 296.75 L365.00 297.33 L365.25 297.64 L365.50 297.82 L365.75 297.93 L366.00 298.00 L366.25 298.04 L366.50 298.07 L366.75 298.07 L367.00 298.06 L367.25 298.01 L367.50 297.93 L367.75 297.76 L368.00 297.45 L368.25 296.90 L368.50 296.06 L368.75 295.01 L369.00 294.21 L369.25 294.32 L369.50 295.25 L369.75 296.29 L370.00 297.08 L370.25 297.60 L370.50 297.89 L370.75 298.06 L371.00 298.16 L371.25 298.22 L371.50 298.27 L371.75 298.30 L372.00 298.33 L372.25 298.35 L372.50 298.37 L372.75 298.38 L373.00 298.40 L373.25 298.41 L373.50 298.41 L373.75 298.42 L374.00 298.43 L374.25 298.43 L374.50 298.44 L374.75 298.44 L375.00 298.45 L375.25 298.45 L375.50 298.45 L375.75 298.46 L376.00 298.46 L376.25 298.46 L376.50 298.46 L376.75 298.46 L377.00 298.47 L377.25 298.47 L377.50 298.47 L377.75 298.47 L378.00 298.47 L378.25 298.47 L378.50 298.47 L378.75 298.47 L379.00 298.48 L379.25 298.48 L379.50 298.48 L379.75 298.48 L380.00 298.48 L380.25 298.48 L380.50 298.48 L380.75 298.48 L381.00 298.48 L381.25 298.48 L381.50 298.48 L381.75 298.48 L382.00 298.48 L382.25 298.48 L382.50 298.48 L382.75 298.49 L383.00 298.49 L383.25 298.49 L383.50 298.49 L383.75 298.49 L384.00 298.49 L384.25 298.49 L384.50 298.49 L384.75 298.49 L385.00 298.49 L385.25 298.49 L385.50 298.49 L385.75 298.49 L386.00 298.49 L386.25 298.49 L386.50 298.49 L386.75 298.49 L387.00 298.49 L387.25 298.49 L387.50 298.49 L387.75 298.49 L388.00 298.49 L388.25 298.49 L388.50 298.49 L388.75 298.49 L389.00 298.49 L389.25 298.49 L389.50 298.49 L389.75 298.49 L390.00 298.49 L390.25 298.49 L390.50 298.49 L390.75 298.49 L391.00 298.49 L391.25 298.49 L391.50 298.49 L391.75 298.49 L392.00 298.49 L392.25 298.49 L392.50 298.49 L392.75 298.49 L393.00 298.49 L393.25 298.49 L393.50 298.49 L393.75 298.49 L394.00 298.49 L394.25 298.49 L394.50 298.49 L394.75 298.48 L395.00 298.48 L395.25 298.48 L395.50 298.48 L395.75 298.48 L396.00 298.48 L396.25 298.48 L396.50 298.47 L396.75 298.47 L397.00 298.46 L397.25 298.46 L397.50 298.45 L397.75 298.44 L398.00 298.42 L398.25 298.40 L398.50 298.37 L398.75 298.33 L399.00 298.28 L399.25 298.22 L399.50 298.16 L399.75 298.11 L400.00 298.10 L400.25 298.11 L400.50 298.16 L400.75 298.22 L401.00 298.28 L401.25 298.33 L401.50 298.37 L401.75 298.40 L402.00 298.42 L402.25 298.44 L402.50 298.45 L402.75 298.46 L403.00 298.47 L403.25 298.47 L403.50 298.47 L403.75 298.48 L404.00 298.48 L404.25 298.48 L404.50 298.48 L404.75 298.49 L405.00 298.49 L405.25 298.49 L405.50 298.49 L405.75 298.49 L406.00 298.49 L406.25 298.49 L406.50 298.49 L406.75 298.49 L407.00 298.49 L407.25 298.49 L407.50 298.49 L407.75 298.49 L408.00 298.49 L408.25 298.49 L408.50 298.49 L408.75 298.49 L409.00 298.49 L409.25 298.50 L409.50 298.50 L409.75 298.50 L410.00 298.50 L410.25 298.50 L410.50 298.50 L410.75 298.50 L411.00 298.50 L411.25 298.50 L411.50 298.50 L411.75 298.50 L412.00 298.50 L412.25 298.50 L412.50 298.50 L412.75 298.50 L413.00 298.50 L413.25 298.50 L413.50 298.50 L413.75 298.50 L414.00 298.50 L414.25 298.50 L414.50 298.50 L414.75 298.50 L415.00 298.50 L415.25 298.50 L415.50 298.50 L415.75 298.50 L416.00 298.50 L416.25 298.50 L416.50 298.50 L416.75 298.50 L417.00 298.50 L417.25 298.50 L417.50 298.50 L417.75 298.50 L418.00 298.50 L418.25 298.50 L418.50 298.50 L418.75 298.50 L419.00 298.50 L419.25 298.50 L419.50 298.50 L419.75 298.49 L420.00 298.49 L420.25 298.49 L420.50 298.49 L420.75 298.49 L421.00 298.49 L421.25 298.49 L421.50 298.49 L421.75 298.49 L422.00 298.49 L422.25 298.49 L422.50 298.49 L422.75 298.49 L423.00 298.49 L423.25 298.49 L423.50 298.49 L423.75 298.49 L424.00 298.49 L424.25 298.49 L424.50 298.48 L424.75 298.48 L425.00 298.48 L425.25 298.48 L425.50 298.48 L425.75 298.47 L426.00 298.47 L426.25 298.47 L426.50 298.46 L426.75 298.45 L427.00 298.44 L427.25 298.43 L427.50 298.41 L427.75 298.38 L428.00 298.34 L428.25 298.29 L428.50 298.22 L428.75 298.15 L429.00 298.08 L429.25 298.02 L429.50 298.00 L429.75 298.02 L430.00 298.08 L430.25 298.15 L430.50 298.22 L430.75 298.29 L431.00 298.34 L431.25 298.38 L431.50 298.41 L431.75 298.43 L432.00 298.44 L432.25 298.45 L432.50 298.46 L432.75 298.46 L433.00 298.47 L433.25 298.47 L433.50 298.48 L433.75 298.48 L434.00 298.48 L434.25 298.48 L434.50 298.48 L434.75 298.48 L435.00 298.49 L435.25 298.49 L435.50 298.49 L435.75 298.49 L436.00 298.49 L436.25 298.49 L436.50 298.49 L436.75 298.49 L437.00 298.49 L437.25 298.49 L437.50 298.49 L437.75 298.49 L438.00 298.49 L438.25 298.49 L438.50 298.49 L438.75 298.49 L439.00 298.49 L439.25 298.49 L439.50 298.49 L439.75 298.49 L440.00 298.49 L440.25 298.49 L440.50 298.49 L440.75 298.49 L441.00 298.49 L441.25 298.49 L441.50 298.49 L441.75 298.50 L442.00 298.50 L442.25 298.50 L442.50 298.50 L442.75 298.50 L443.00 298.49 L443.25 298.49 L443.50 298.49 L443.75 298.49 L444.00 298.49 L444.25 298.49 L444.50 298.49 L444.75 298.49 L445.00 298.49 L445.25 298.49 L445.50 298.49 L445.75 298.49 L446.00 298.49 L446.25 298.49 L446.50 298.49 L446.75 298.49 L447.00 298.49 L447.25 298.49 L447.50 298.49 L447.75 298.49 L448.00 298.49 L448.25 298.49 L448.50 298.49 L448.75 298.49 L449.00 298.49 L449.25 298.49 L449.50 298.49 L449.75 298.48 L450.00 298.48 L450.25 298.48 L450.50 298.48 L450.75 298.48 L451.00 298.47 L451.25 298.47 L451.50 298.47 L451.75 298.46 L452.00 298.45 L452.25 298.44 L452.50 298.42 L452.75 298.40 L453.00 298.37 L453.25 298.33 L453.50 298.28 L453.75 298.22 L454.00 298.16 L454.25 298.12 L454.50 298.10 L454.75 298.12 L455.00 298.16 L455.25 298.22 L455.50 298.28 L455.75 298.33 L456.00 298.37 L456.25 298.40 L456.50 298.42 L456.75 298.44 L457.00 298.45 L457.25 298.46 L457.50 298.46 L457.75 298.47 L458.00 298.47 L458.25 298.48 L458.50 298.48 L458.75 298.48 L459.00 298.48 L459.25 298.48 L459.50 298.48 L459.75 298.48 L460.00 298.48 L460.25 298.48 L460.50 298.48 L460.75 298.48 L461.00 298.48 L461.25 298.48 L461.50 298.48 L461.75 298.48 L462.00 298.48 L462.25 298.48 L462.50 298.48 L462.75 298.48 L463.00 298.48 L463.25 298.48 L463.50 298.48 L463.75 298.48 L464.00 298.47 L464.25 298.47 L464.50 298.47 L464.75 298.46 L465.00 298.45 L465.25 298.44 L465.50 298.43 L465.75 298.41 L466.00 298.38 L466.25 298.34 L466.50 298.30 L466.75 298.24 L467.00 298.18 L467.25 298.13 L467.50 298.10 L467.75 298.10 L468.00 298.14 L468.25 298.19 L468.50 298.25 L468.75 298.31 L469.00 298.35 L469.25 298.39 L469.50 298.41 L469.75 298.43 L470.00 298.45 L470.25 298.46 L470.50 298.46 L470.75 298.47 L471.00 298.47 L471.25 298.48 L471.50 298.48 L471.75 298.48 L472.00 298.48 L472.25 298.48 L472.50 298.49 L472.75 298.49 L473.00 298.49 L473.25 298.49 L473.50 298.49 L473.75 298.49 L474.00 298.49 L474.25 298.49 L474.50 298.49 L474.75 298.49 L475.00 298.49 L475.25 298.49 L475.50 298.49 L475.75 298.49 L476.00 298.49 L476.25 298.49 L476.50 298.49 L476.75 298.49 L477.00 298.49 L477.25 298.49 L477.50 298.49 L477.75 298.49 L478.00 298.49 L478.25 298.49 L478.50 298.50 L478.75 298.50 L479.00 298.50 L479.25 298.50 L479.50 298.50 L479.75 298.50 L480.00 298.50 L480.25 298.50 L480.50 298.50 L480.75 298.50 L481.00 298.50 L481.25 298.50 L481.50 298.50 L481.75 298.50 L482.00 298.50 L482.25 298.50 L482.50 298.50 L482.75 298.50 L483.00 298.50 L483.25 298.50 L483.50 298.50 L483.75 298.50 L484.00 298.50 L484.25 298.50 L484.50 298.49 L484.75 298.49 L485.00 298.49 L485.25 298.49 L485.50 298.49 L485.75 298.49 L486.00 298.49 L486.25 298.49 L486.50 298.49 L486.75 298.49 L487.00 298.49 L487.25 298.49 L487.50 298.49 L487.75 298.49 L488.00 298.49 L488.25 298.49 L488.50 298.49 L488.75 298.49 L489.00 298.49 L489.25 298.49 L489.50 298.49 L489.75 298.49 L490.00 298.49 L490.25 298.49 L490.50 298.49 L490.75 298.49 L491.00 298.49 L491.25 298.49 L491.50 298.49 L491.75 298.49 L492.00 298.48 L492.25 298.48 L492.50 298.48 L492.75 298.48 L493.00 298.48 L493.25 298.48 L493.50 298.48 L493.75 298.47 L494.00 298.47 L494.25 298.47 L494.50 298.47 L494.75 298.46 L495.00 298.46 L495.25 298.45 L495.50 298.45 L495.75 298.44 L496.00 298.43 L496.25 298.42 L496.50 298.41 L496.75 298.39 L497.00 298.36 L497.25 298.32 L497.50 298.27 L497.75 298.19 L498.00 298.10 L498.25 297.97 L498.50 297.83 L498.75 297.69 L499.00 297.56 L499.25 297.50 L499.50 297.53 L499.75 297.63 L500.00 297.77 L500.25 297.92 L500.50 298.05 L500.75 298.16 L501.00 298.24 L501.25 298.30 L501.50 298.35 L501.75 298.38 L502.00 298.40 L502.25 298.42 L502.50 298.43 L502.75 298.44 L503.00 298.45 L503.25 298.45 L503.50 298.46 L503.75 298.46 L504.00 298.47 L504.25 298.47 L504.50 298.47 L504.75 298.47 L505.00 298.48 L505.25 298.48 L505.50 298.48 L505.75 298.48 L506.00 298.48 L506.25 298.48 L506.50 298.48 L506.75 298.49 L507.00 298.49 L507.25 298.49 L507.50 298.49 L507.75 298.49 L508.00 298.49 L508.25 298.49 L508.50 298.49 L508.75 298.49 L509.00 298.49 L509.25 298.49 L509.50 298.49 L509.75 298.49 L510.00 298.49 L510.25 298.49 L510.50 298.49 L510.75 298.49 L511.00 298.49 L511.25 298.49 L511.50 298.49 L511.75 298.49 L512.00 298.50 L512.25 298.50 L512.50 298.50 L512.75 298.50 L513.00 298.50 L513.25 298.50 L513.50 298.50" fill="none" stroke="#00b050" stroke-width="2.5" stroke-linejoin="round"/>
<path d="M53.00 382.50 L53.25 382.50 L53.50 382.50 L53.75 382.50 L54.00 382.50 L54.25 382.50 L54.50 382.50 L54.75 382.50 L55.00 382.50 L55.25 382.49 L55.50 382.49 L55.75 382.49 L56.00 382.49 L56.25 382.49 L56.50 382.49 L56.75 382.49 L57.00 382.49 L57.25 382.49 L57.50 382.49 L57.75 382.49 L58.00 382.49 L58.25 382.49 L58.50 382.49 L58.75 382.48 L59.00 382.48 L59.25 382.48 L59.50 382.48 L59.75 382.47 L60.00 382.47 L60.25 382.46 L60.50 382.45 L60.75 382.44 L61.00 382.43 L61.25 382.40 L61.50 382.37 L61.75 382.33 L62.00 382.28 L62.25 382.22 L62.50 382.16 L62.75 382.12 L63.00 382.10 L63.25 382.12 L63.50 382.16 L63.75 382.22 L64.00 382.28 L64.25 382.33 L64.50 382.37 L64.75 382.40 L65.00 382.43 L65.25 382.44 L65.50 382.45 L65.75 382.46 L66.00 382.47 L66.25 382.47 L66.50 382.48 L66.75 382.48 L67.00 382.48 L67.25 382.48 L67.50 382.49 L67.75 382.49 L68.00 382.49 L68.25 382.49 L68.50 382.49 L68.75 382.49 L69.00 382.49 L69.25 382.49 L69.50 382.49 L69.75 382.49 L70.00 382.49 L70.25 382.49 L70.50 382.49 L70.75 382.49 L71.00 382.50 L71.25 382.50 L71.50 382.50 L71.75 382.49 L72.00 382.49 L72.25 382.49 L72.50 382.49 L72.75 382.49 L73.00 382.49 L73.25 382.49 L73.50 382.49 L73.75 382.49 L74.00 382.49 L74.25 382.49 L74.50 382.49 L74.75 382.49 L75.00 382.49 L75.25 382.49 L75.50 382.49 L75.75 382.49 L76.00 382.49 L76.25 382.49 L76.50 382.49 L76.75 382.49 L77.00 382.49 L77.25 382.49 L77.50 382.49 L77.75 382.49 L78.00 382.49 L78.25 382.49 L78.50 382.49 L78.75 382.49 L79.00 382.49 L79.25 382.49 L79.50 382.49 L79.75 382.49 L80.00 382.49 L80.25 382.49 L80.50 382.49 L80.75 382.49 L81.00 382.49 L81.25 382.49 L81.50 382.49 L81.75 382.48 L82.00 382.48 L82.25 382.48 L82.50 382.48 L82.75 382.48 L83.00 382.48 L83.25 382.48 L83.50 382.48 L83.75 382.48 L84.00 382.48 L84.25 382.48 L84.50 382.48 L84.75 382.48 L85.00 382.48 L85.25 382.48 L85.50 382.48 L85.75 382.48 L86.00 382.48 L86.25 382.48 L86.50 382.48 L86.75 382.48 L87.00 382.48 L87.25 382.48 L87.50 382.48 L87.75 382.48 L88.00 382.48 L88.25 382.48 L88.50 382.48 L88.75 382.47 L89.00 382.47 L89.25 382.47 L89.50 382.47 L89.75 382.47 L90.00 382.47 L90.25 382.47 L90.50 382.47 L90.75 382.47 L91.00 382.47 L91.25 382.47 L91.50 382.47 L91.75 382.47 L92.00 382.47 L92.25 382.47 L92.50 382.47 L92.75 382.46 L93.00 382.46 L93.25 382.46 L93.50 382.46 L93.75 382.46 L94.00 382.46 L94.25 382.46 L94.50 382.46 L94.75 382.46 L95.00 382.45 L95.25 382.45 L95.50 382.45 L95.75 382.45 L96.00 382.45 L96.25 382.45 L96.50 382.45 L96.75 382.44 L97.00 382.44 L97.25 382.44 L97.50 382.44 L97.75 382.44 L98.00 382.43 L98.25 382.43 L98.50 382.43 L98.75 382.43 L99.00 382.42 L99.25 382.42 L99.50 382.42 L99.75 382.42 L100.00 382.41 L100.25 382.41 L100.50 382.41 L100.75 382.40 L101.00 382.40 L101.25 382.39 L101.50 382.39 L101.75 382.38 L102.00 382.38 L102.25 382.37 L102.50 382.36 L102.75 382.35 L103.00 382.34 L103.25 382.33 L103.50 382.32 L103.75 382.31 L104.00 382.30 L104.25 382.29 L104.50 382.27 L104.75 382.26 L105.00 382.24 L105.25 382.22 L105.50 382.20 L105.75 382.18 L106.00 382.15 L106.25 382.12 L106.50 382.09 L106.75 382.05 L107.00 382.00 L107.25 381.95 L107.50 381.89 L107.75 381.81 L108.00 381.72 L108.25 381.61 L108.50 381.48 L108.75 381.32 L109.00 381.10 L109.25 380.83 L109.50 380.47 L109.75 379.96 L110.00 379.19 L110.25 377.90 L110.50 375.61 L110.75 371.57 L111.00 365.10 L111.25 356.27 L111.50 347.51 L111.75 344.73 L112.00 350.68 L112.25 359.99 L112.50 367.98 L112.75 373.42 L113.00 376.66 L113.25 378.47 L113.50 379.50 L113.75 380.13 L114.00 380.57 L114.25 380.88 L114.50 381.12 L114.75 381.30 L115.00 381.44 L115.25 381.55 L115.50 381.64 L115.75 381.71 L116.00 381.77 L116.25 381.81 L116.50 381.84 L116.75 381.86 L117.00 381.87 L117.25 381.88 L117.50 381.87 L117.75 381.86 L118.00 381.84 L118.25 381.80 L118.50 381.75 L118.75 381.68 L119.00 381.58 L119.25 381.46 L119.50 381.28 L119.75 381.03 L120.00 380.64 L120.25 379.98 L120.50 378.80 L120.75 376.72 L121.00 373.38 L121.25 368.82 L121.50 364.30 L121.75 362.87 L122.00 365.95 L122.25 370.77 L122.50 374.91 L122.75 377.73 L123.00 379.41 L123.25 380.35 L123.50 380.88 L123.75 381.22 L124.00 381.45 L124.25 381.62 L124.50 381.74 L124.75 381.84 L125.00 381.92 L125.25 381.98 L125.50 382.04 L125.75 382.08 L126.00 382.11 L126.25 382.14 L126.50 382.17 L126.75 382.19 L127.00 382.21 L127.25 382.23 L127.50 382.24 L127.75 382.25 L128.00 382.26 L128.25 382.27 L128.50 382.28 L128.75 382.29 L129.00 382.29 L129.25 382.30 L129.50 382.30 L129.75 382.30 L130.00 382.30 L130.25 382.31 L130.50 382.31 L130.75 382.31 L131.00 382.31 L131.25 382.31 L131.50 382.31 L131.75 382.30 L132.00 382.30 L132.25 382.30 L132.50 382.30 L132.75 382.29 L133.00 382.29 L133.25 382.28 L133.50 382.28 L133.75 382.27 L134.00 382.26 L134.25 382.25 L134.50 382.24 L134.75 382.23 L135.00 382.22 L135.25 382.20 L135.50 382.19 L135.75 382.17 L136.00 382.15 L136.25 382.12 L136.50 382.10 L136.75 382.07 L137.00 382.04 L137.25 382.00 L137.50 381.95 L137.75 381.90 L138.00 381.84 L138.25 381.78 L138.50 381.69 L138.75 381.59 L139.00 381.48 L139.25 381.34 L139.50 381.16 L139.75 380.94 L140.00 380.66 L140.25 380.30 L140.50 379.82 L140.75 379.14 L141.00 378.12 L141.25 376.40 L141.50 373.34 L141.75 367.95 L142.00 359.31 L142.25 347.53 L142.50 335.84 L142.75 332.14 L143.00 340.08 L143.25 352.52 L143.50 363.19 L143.75 370.46 L144.00 374.79 L144.25 377.21 L144.50 378.59 L144.75 379.45 L145.00 380.04 L145.25 380.46 L145.50 380.79 L145.75 381.04 L146.00 381.24 L146.25 381.41 L146.50 381.54 L146.75 381.65 L147.00 381.74 L147.25 381.81 L147.50 381.88 L147.75 381.94 L148.00 381.98 L148.25 382.03 L148.50 382.06 L148.75 382.10 L149.00 382.12 L149.25 382.15 L149.50 382.17 L149.75 382.19 L150.00 382.21 L150.25 382.23 L150.50 382.24 L150.75 382.26 L151.00 382.27 L151.25 382.28 L151.50 382.29 L151.75 382.30 L152.00 382.31 L152.25 382.32 L152.50 382.33 L152.75 382.33 L153.00 382.34 L153.25 382.34 L153.50 382.35 L153.75 382.35 L154.00 382.35 L154.25 382.36 L154.50 382.36 L154.75 382.36 L155.00 382.36 L155.25 382.36 L155.50 382.36 L155.75 382.35 L156.00 382.35 L156.25 382.34 L156.50 382.33 L156.75 382.32 L157.00 382.29 L157.25 382.26 L157.50 382.21 L157.75 382.15 L158.00 382.07 L158.25 381.97 L158.50 381.87 L158.75 381.78 L159.00 381.73 L159.25 381.74 L159.50 381.80 L159.75 381.90 L160.00 382.00 L160.25 382.09 L160.50 382.17 L160.75 382.24 L161.00 382.28 L161.25 382.32 L161.50 382.34 L161.75 382.36 L162.00 382.37 L162.25 382.38 L162.50 382.39 L162.75 382.39 L163.00 382.40 L163.25 382.40 L163.50 382.40 L163.75 382.41 L164.00 382.41 L164.25 382.41 L164.50 382.41 L164.75 382.41 L165.00 382.41 L165.25 382.41 L165.50 382.41 L165.75 382.41 L166.00 382.41 L166.25 382.40 L166.50 382.40 L166.75 382.40 L167.00 382.40 L167.25 382.39 L167.50 382.39 L167.75 382.39 L168.00 382.38 L168.25 382.38 L168.50 382.37 L168.75 382.36 L169.00 382.36 L169.25 382.35 L169.50 382.34 L169.75 382.33 L170.00 382.32 L170.25 382.30 L170.50 382.29 L170.75 382.27 L171.00 382.24 L171.25 382.22 L171.50 382.18 L171.75 382.14 L172.00 382.08 L172.25 382.00 L172.50 381.88 L172.75 381.72 L173.00 381.51 L173.25 381.24 L173.50 380.91 L173.75 380.53 L174.00 380.14 L174.25 379.83 L174.50 379.69 L174.75 379.76 L175.00 380.00 L175.25 380.30 L175.50 380.59 L175.75 380.81 L176.00 380.95 L176.25 380.99 L176.50 380.92 L176.75 380.69 L177.00 380.23 L177.25 379.34 L177.50 377.69 L177.75 374.96 L178.00 371.06 L178.25 366.83 L178.50 364.77 L178.75 366.86 L179.00 371.12 L179.25 375.05 L179.50 377.82 L179.75 379.51 L180.00 380.46 L180.25 381.00 L180.50 381.33 L180.75 381.55 L181.00 381.71 L181.25 381.84 L181.50 381.93 L181.75 382.01 L182.00 382.07 L182.25 382.12 L182.50 382.16 L182.75 382.20 L183.00 382.23 L183.25 382.26 L183.50 382.28 L183.75 382.30 L184.00 382.31 L184.25 382.33 L184.50 382.34 L184.75 382.35 L185.00 382.36 L185.25 382.37 L185.50 382.38 L185.75 382.38 L186.00 382.39 L186.25 382.39 L186.50 382.40 L186.75 382.41 L187.00 382.41 L187.25 382.41 L187.50 382.42 L187.75 382.42 L188.00 382.42 L188.25 382.43 L188.50 382.43 L188.75 382.43 L189.00 382.43 L189.25 382.44 L189.50 382.44 L189.75 382.44 L190.00 382.44 L190.25 382.44 L190.50 382.44 L190.75 382.44 L191.00 382.44 L191.25 382.45 L191.50 382.45 L191.75 382.45 L192.00 382.45 L192.25 382.45 L192.50 382.45 L192.75 382.45 L193.00 382.45 L193.25 382.45 L193.50 382.45 L193.75 382.45 L194.00 382.45 L194.25 382.45 L194.50 382.45 L194.75 382.45 L195.00 382.45 L195.25 382.45 L195.50 382.45 L195.75 382.45 L196.00 382.45 L196.25 382.45 L196.50 382.45 L196.75 382.45 L197.00 382.45 L197.25 382.44 L197.50 382.44 L197.75 382.44 L198.00 382.44 L198.25 382.44 L198.50 382.44 L198.75 382.44 L199.00 382.43 L199.25 382.43 L199.50 382.43 L199.75 382.43 L200.00 382.42 L200.25 382.42 L200.50 382.42 L200.75 382.41 L201.00 382.41 L201.25 382.40 L201.50 382.40 L201.75 382.39 L202.00 382.38 L202.25 382.38 L202.50 382.37 L202.75 382.35 L203.00 382.34 L203.25 382.33 L203.50 382.31 L203.75 382.28 L204.00 382.26 L204.25 382.22 L204.50 382.18 L204.75 382.12 L205.00 382.05 L205.25 381.95 L205.50 381.81 L205.75 381.57 L206.00 381.16 L206.25 380.44 L206.50 379.22 L206.75 377.42 L207.00 375.33 L207.25 373.99 L207.50 374.62 L207.75 376.58 L208.00 378.56 L208.25 380.00 L208.50 380.91 L208.75 381.42 L209.00 381.71 L209.25 381.88 L209.50 381.99 L209.75 382.07 L210.00 382.12 L210.25 382.17 L210.50 382.20 L210.75 382.23 L211.00 382.25 L211.25 382.26 L211.50 382.27 L211.75 382.28 L212.00 382.29 L212.25 382.29 L212.50 382.29 L212.75 382.29 L213.00 382.28 L213.25 382.28 L213.50 382.27 L213.75 382.26 L214.00 382.25 L214.25 382.23 L214.50 382.21 L214.75 382.18 L215.00 382.15 L215.25 382.11 L215.50 382.05 L215.75 381.97 L216.00 381.85 L216.25 381.69 L216.50 381.46 L216.75 381.16 L217.00 380.77 L217.25 380.29 L217.50 379.76 L217.75 379.25 L218.00 378.87 L218.25 378.76 L218.50 378.98 L218.75 379.41 L219.00 379.93 L219.25 380.43 L219.50 380.85 L219.75 381.19 L220.00 381.43 L220.25 381.61 L220.50 381.72 L220.75 381.78 L221.00 381.81 L221.25 381.81 L221.50 381.78 L221.75 381.73 L222.00 381.64 L222.25 381.50 L222.50 381.28 L222.75 380.90 L223.00 380.20 L223.25 378.97 L223.50 376.99 L223.75 374.29 L224.00 371.61 L224.25 370.76 L224.50 372.58 L224.75 375.42 L225.00 377.86 L225.25 379.51 L225.50 380.49 L225.75 381.03 L226.00 381.32 L226.25 381.49 L226.50 381.59 L226.75 381.64 L227.00 381.66 L227.25 381.64 L227.50 381.58 L227.75 381.47 L228.00 381.25 L228.25 380.85 L228.50 380.12 L228.75 378.91 L229.00 377.19 L229.25 375.31 L229.50 374.35 L229.75 375.14 L230.00 376.82 L230.25 378.29 L230.50 379.20 L230.75 379.57 L231.00 379.56 L231.25 379.35 L231.50 379.13 L231.75 379.05 L232.00 379.20 L232.25 379.56 L232.50 380.03 L232.75 380.50 L233.00 380.92 L233.25 381.27 L233.50 381.54 L233.75 381.74 L234.00 381.89 L234.25 382.00 L234.50 382.07 L234.75 382.13 L235.00 382.18 L235.25 382.21 L235.50 382.24 L235.75 382.26 L236.00 382.28 L236.25 382.30 L236.50 382.32 L236.75 382.33 L237.00 382.34 L237.25 382.35 L237.50 382.36 L237.75 382.37 L238.00 382.38 L238.25 382.38 L238.50 382.39 L238.75 382.40 L239.00 382.40 L239.25 382.40 L239.50 382.41 L239.75 382.41 L240.00 382.42 L240.25 382.42 L240.50 382.42 L240.75 382.42 L241.00 382.43 L241.25 382.43 L241.50 382.43 L241.75 382.43 L242.00 382.43 L242.25 382.44 L242.50 382.44 L242.75 382.44 L243.00 382.44 L243.25 382.44 L243.50 382.44 L243.75 382.44 L244.00 382.44 L244.25 382.44 L244.50 382.45 L244.75 382.45 L245.00 382.45 L245.25 382.45 L245.50 382.45 L245.75 382.45 L246.00 382.45 L246.25 382.45 L246.50 382.45 L246.75 382.45 L247.00 382.45 L247.25 382.45 L247.50 382.45 L247.75 382.45 L248.00 382.44 L248.25 382.44 L248.50 382.44 L248.75 382.44 L249.00 382.44 L249.25 382.44 L249.50 382.43 L249.75 382.43 L250.00 382.43 L250.25 382.43 L250.50 382.42 L250.75 382.42 L251.00 382.41 L251.25 382.40 L251.50 382.40 L251.75 382.39 L252.00 382.38 L252.25 382.37 L252.50 382.35 L252.75 382.33 L253.00 382.31 L253.25 382.28 L253.50 382.23 L253.75 382.17 L254.00 382.08 L254.25 381.96 L254.50 381.79 L254.75 381.58 L255.00 381.31 L255.25 381.01 L255.50 380.71 L255.75 380.47 L256.00 380.37 L256.25 380.47 L256.50 380.71 L256.75 381.01 L257.00 381.31 L257.25 381.58 L257.50 381.79 L257.75 381.96 L258.00 382.08 L258.25 382.17 L258.50 382.23 L258.75 382.27 L259.00 382.31 L259.25 382.33 L259.50 382.35 L259.75 382.36 L260.00 382.37 L260.25 382.38 L260.50 382.39 L260.75 382.39 L261.00 382.40 L261.25 382.40 L261.50 382.41 L261.75 382.41 L262.00 382.41 L262.25 382.41 L262.50 382.41 L262.75 382.42 L263.00 382.42 L263.25 382.42 L263.50 382.41 L263.75 382.41 L264.00 382.41 L264.25 382.41 L264.50 382.41 L264.75 382.41 L265.00 382.40 L265.25 382.40 L265.50 382.40 L265.75 382.39 L266.00 382.39 L266.25 382.38 L266.50 382.37 L266.75 382.36 L267.00 382.35 L267.25 382.34 L267.50 382.33 L267.75 382.31 L268.00 382.29 L268.25 382.27 L268.50 382.24 L268.75 382.21 L269.00 382.17 L269.25 382.12 L269.50 382.06 L269.75 381.98 L270.00 381.88 L270.25 381.74 L270.50 381.55 L270.75 381.24 L271.00 380.73 L271.25 379.80 L271.50 378.20 L271.75 375.69 L272.00 372.42 L272.25 369.51 L272.50 369.17 L272.75 371.74 L273.00 375.08 L273.25 377.77 L273.50 379.55 L273.75 380.59 L274.00 381.16 L274.25 381.50 L274.50 381.71 L274.75 381.86 L275.00 381.97 L275.25 382.05 L275.50 382.12 L275.75 382.17 L276.00 382.21 L276.25 382.24 L276.50 382.27 L276.75 382.29 L277.00 382.31 L277.25 382.33 L277.50 382.35 L277.75 382.36 L278.00 382.37 L278.25 382.38 L278.50 382.39 L278.75 382.40 L279.00 382.40 L279.25 382.41 L279.50 382.41 L279.75 382.42 L280.00 382.42 L280.25 382.43 L280.50 382.43 L280.75 382.43 L281.00 382.44 L281.25 382.44 L281.50 382.44 L281.75 382.44 L282.00 382.44 L282.25 382.45 L282.50 382.45 L282.75 382.45 L283.00 382.45 L283.25 382.45 L283.50 382.45 L283.75 382.45 L284.00 382.45 L284.25 382.45 L284.50 382.45 L284.75 382.46 L285.00 382.45 L285.25 382.45 L285.50 382.46 L285.75 382.46 L286.00 382.46 L286.25 382.46 L286.50 382.46 L286.75 382.45 L287.00 382.45 L287.25 382.45 L287.50 382.45 L287.75 382.45 L288.00 382.45 L288.25 382.45 L288.50 382.45 L288.75 382.45 L289.00 382.45 L289.25 382.45 L289.50 382.45 L289.75 382.45 L290.00 382.44 L290.25 382.44 L290.50 382.44 L290.75 382.44 L291.00 382.44 L291.25 382.43 L291.50 382.43 L291.75 382.43 L292.00 382.42 L292.25 382.42 L292.50 382.42 L292.75 382.41 L293.00 382.41 L293.25 382.40 L293.50 382.40 L293.75 382.39 L294.00 382.38 L294.25 382.37 L294.50 382.36 L294.75 382.35 L295.00 382.34 L295.25 382.33 L295.50 382.31 L295.75 382.29 L296.00 382.27 L296.25 382.24 L296.50 382.21 L296.75 382.18 L297.00 382.13 L297.25 382.07 L297.50 382.01 L297.75 381.92 L298.00 381.80 L298.25 381.65 L298.50 381.45 L298.75 381.14 L299.00 380.63 L299.25 379.73 L299.50 378.14 L299.75 375.51 L300.00 371.79 L300.25 367.76 L300.50 365.79 L300.75 367.76 L301.00 371.79 L301.25 375.51 L301.50 378.14 L301.75 379.73 L302.00 380.63 L302.25 381.14 L302.50 381.45 L302.75 381.65 L303.00 381.80 L303.25 381.92 L303.50 382.01 L303.75 382.07 L304.00 382.13 L304.25 382.18 L304.50 382.21 L304.75 382.24 L305.00 382.27 L305.25 382.29 L305.50 382.31 L305.75 382.33 L306.00 382.34 L306.25 382.35 L306.50 382.37 L306.75 382.37 L307.00 382.38 L307.25 382.39 L307.50 382.40 L307.75 382.40 L308.00 382.41 L308.25 382.41 L308.50 382.42 L308.75 382.42 L309.00 382.43 L309.25 382.43 L309.50 382.43 L309.75 382.44 L310.00 382.44 L310.25 382.44 L310.50 382.44 L310.75 382.44 L311.00 382.45 L311.25 382.45 L311.50 382.45 L311.75 382.45 L312.00 382.45 L312.25 382.45 L312.50 382.46 L312.75 382.46 L313.00 382.46 L313.25 382.46 L313.50 382.46 L313.75 382.46 L314.00 382.46 L314.25 382.46 L314.50 382.46 L314.75 382.46 L315.00 382.46 L315.25 382.46 L315.50 382.46 L315.75 382.46 L316.00 382.46 L316.25 382.46 L316.50 382.46 L316.75 382.46 L317.00 382.46 L317.25 382.45 L317.50 382.45 L317.75 382.45 L318.00 382.45 L318.25 382.45 L318.50 382.44 L318.75 382.44 L319.00 382.44 L319.25 382.43 L319.50 382.43 L319.75 382.42 L320.00 382.42 L320.25 382.41 L320.50 382.40 L320.75 382.39 L321.00 382.38 L321.25 382.37 L321.50 382.35 L321.75 382.33 L322.00 382.30 L322.25 382.26 L322.50 382.21 L322.75 382.15 L323.00 382.05 L323.25 381.89 L323.50 381.62 L323.75 381.13 L324.00 380.32 L324.25 379.11 L324.50 377.71 L324.75 376.82 L325.00 377.23 L325.25 378.55 L325.50 379.88 L325.75 380.85 L326.00 381.46 L326.25 381.80 L326.50 382.00 L326.75 382.11 L327.00 382.19 L327.25 382.24 L327.50 382.28 L327.75 382.31 L328.00 382.34 L328.25 382.36 L328.50 382.38 L328.75 382.39 L329.00 382.40 L329.25 382.41 L329.50 382.41 L329.75 382.42 L330.00 382.43 L330.25 382.43 L330.50 382.44 L330.75 382.44 L331.00 382.44 L331.25 382.44 L331.50 382.45 L331.75 382.45 L332.00 382.45 L332.25 382.45 L332.50 382.45 L332.75 382.45 L333.00 382.45 L333.25 382.46 L333.50 382.46 L333.75 382.46 L334.00 382.46 L334.25 382.46 L334.50 382.46 L334.75 382.45 L335.00 382.45 L335.25 382.45 L335.50 382.45 L335.75 382.45 L336.00 382.45 L336.25 382.45 L336.50 382.44 L336.75 382.44 L337.00 382.44 L337.25 382.44 L337.50 382.43 L337.75 382.43 L338.00 382.42 L338.25 382.41 L338.50 382.41 L338.75 382.40 L339.00 382.38 L339.25 382.37 L339.50 382.35 L339.75 382.33 L340.00 382.30 L340.25 382.26 L340.50 382.22 L340.75 382.15 L341.00 382.04 L341.25 381.87 L341.50 381.55 L341.75 381.00 L342.00 380.11 L342.25 378.90 L342.50 377.70 L342.75 377.32 L343.00 378.13 L343.25 379.41 L343.50 380.51 L343.75 381.26 L344.00 381.70 L344.25 381.95 L344.50 382.09 L344.75 382.18 L345.00 382.24 L345.25 382.28 L345.50 382.32 L345.75 382.34 L346.00 382.36 L346.25 382.38 L346.50 382.39 L346.75 382.40 L347.00 382.41 L347.25 382.42 L347.50 382.43 L347.75 382.43 L348.00 382.44 L348.25 382.44 L348.50 382.45 L348.75 382.45 L349.00 382.45 L349.25 382.45 L349.50 382.46 L349.75 382.46 L350.00 382.46 L350.25 382.46 L350.50 382.46 L350.75 382.46 L351.00 382.46 L351.25 382.46 L351.50 382.47 L351.75 382.47 L352.00 382.47 L352.25 382.47 L352.50 382.47 L352.75 382.47 L353.00 382.47 L353.25 382.47 L353.50 382.47 L353.75 382.47 L354.00 382.47 L354.25 382.47 L354.50 382.46 L354.75 382.46 L355.00 382.46 L355.25 382.46 L355.50 382.46 L355.75 382.46 L356.00 382.46 L356.25 382.46 L356.50 382.45 L356.75 382.45 L357.00 382.45 L357.25 382.45 L357.50 382.44 L357.75 382.44 L358.00 382.44 L358.25 382.43 L358.50 382.43 L358.75 382.42 L359.00 382.42 L359.25 382.41 L359.50 382.40 L359.75 382.39 L360.00 382.38 L360.25 382.36 L360.50 382.34 L360.75 382.32 L361.00 382.29 L361.25 382.25 L361.50 382.19 L361.75 382.12 L362.00 382.00 L362.25 381.79 L362.50 381.42 L362.75 380.79 L363.00 379.84 L363.25 378.66 L363.50 377.74 L363.75 377.86 L364.00 378.88 L364.25 380.03 L364.50 380.91 L364.75 381.47 L365.00 381.78 L365.25 381.96 L365.50 382.05 L365.75 382.10 L366.00 382.13 L366.25 382.14 L366.50 382.13 L366.75 382.09 L367.00 382.03 L367.25 381.94 L367.50 381.81 L367.75 381.62 L368.00 381.38 L368.25 381.10 L368.50 380.79 L368.75 380.52 L369.00 380.37 L369.25 380.39 L369.50 380.58 L369.75 380.87 L370.00 381.19 L370.25 381.47 L370.50 381.71 L370.75 381.90 L371.00 382.04 L371.25 382.14 L371.50 382.21 L371.75 382.26 L372.00 382.30 L372.25 382.33 L372.50 382.35 L372.75 382.37 L373.00 382.38 L373.25 382.39 L373.50 382.40 L373.75 382.41 L374.00 382.42 L374.25 382.43 L374.50 382.43 L374.75 382.44 L375.00 382.44 L375.25 382.45 L375.50 382.45 L375.75 382.45 L376.00 382.46 L376.25 382.46 L376.50 382.46 L376.75 382.46 L377.00 382.47 L377.25 382.47 L377.50 382.47 L377.75 382.47 L378.00 382.47 L378.25 382.47 L378.50 382.47 L378.75 382.48 L379.00 382.48 L379.25 382.48 L379.50 382.48 L379.75 382.48 L380.00 382.48 L380.25 382.48 L380.50 382.48 L380.75 382.48 L381.00 382.48 L381.25 382.48 L381.50 382.48 L381.75 382.48 L382.00 382.49 L382.25 382.49 L382.50 382.49 L382.75 382.49 L383.00 382.49 L383.25 382.49 L383.50 382.49 L383.75 382.49 L384.00 382.49 L384.25 382.49 L384.50 382.49 L384.75 382.49 L385.00 382.49 L385.25 382.49 L385.50 382.49 L385.75 382.49 L386.00 382.49 L386.25 382.49 L386.50 382.49 L386.75 382.49 L387.00 382.49 L387.25 382.49 L387.50 382.49 L387.75 382.49 L388.00 382.49 L388.25 382.49 L388.50 382.49 L388.75 382.49 L389.00 382.49 L389.25 382.49 L389.50 382.49 L389.75 382.49 L390.00 382.49 L390.25 382.49 L390.50 382.49 L390.75 382.49 L391.00 382.49 L391.25 382.49 L391.50 382.49 L391.75 382.49 L392.00 382.50 L392.25 382.50 L392.50 382.50 L392.75 382.50 L393.00 382.50 L393.25 382.50 L393.50 382.50 L393.75 382.50 L394.00 382.50 L394.25 382.50 L394.50 382.50 L394.75 382.50 L395.00 382.50 L395.25 382.50 L395.50 382.50 L395.75 382.50 L396.00 382.50 L396.25 382.50 L396.50 382.50 L396.75 382.50 L397.00 382.50 L397.25 382.50 L397.50 382.50 L397.75 382.50 L398.00 382.50 L398.25 382.50 L398.50 382.50 L398.75 382.50 L399.00 382.50 L399.25 382.50 L399.50 382.50 L399.75 382.50 L400.00 382.50 L400.25 382.50 L400.50 382.50 L400.75 382.50 L401.00 382.50 L401.25 382.50 L401.50 382.50 L401.75 382.50 L402.00 382.50 L402.25 382.50 L402.50 382.50 L402.75 382.50 L403.00 382.50 L403.25 382.50 L403.50 382.50 L403.75 382.50 L404.00 382.50 L404.25 382.50 L404.50 382.50 L404.75 382.50 L405.00 382.50 L405.25 382.50 L405.50 382.50 L405.75 382.50 L406.00 382.50 L406.25 382.50 L406.50 382.50 L406.75 382.50 L407.00 382.50 L407.25 382.50 L407.50 382.50 L407.75 382.50 L408.00 382.50 L408.25 382.50 L408.50 382.50 L408.75 382.50 L409.00 382.50 L409.25 382.50 L409.50 382.50 L409.75 382.50 L410.00 382.50 L410.25 382.50 L410.50 382.50 L410.75 382.50 L411.00 382.50 L411.25 382.50 L411.50 382.50 L411.75 382.50 L412.00 382.50 L412.25 382.50 L412.50 382.50 L412.75 382.50 L413.00 382.50 L413.25 382.50 L413.50 382.50 L413.75 382.50 L414.00 382.50 L414.25 382.50 L414.50 382.50 L414.75 382.50 L415.00 382.50 L415.25 382.50 L415.50 382.50 L415.75 382.50 L416.00 382.50 L416.25 382.50 L416.50 382.50 L416.75 382.50 L417.00 382.50 L417.25 382.50 L417.50 382.50 L417.75 382.50 L418.00 382.50 L418.25 382.50 L418.50 382.50 L418.75 382.50 L419.00 382.50 L419.25 382.50 L419.50 382.50 L419.75 382.50 L420.00 382.50 L420.25 382.50 L420.50 382.50 L420.75 382.50 L421.00 382.50 L421.25 382.50 L421.50 382.49 L421.75 382.49 L422.00 382.49 L422.25 382.49 L422.50 382.49 L422.75 382.49 L423.00 382.49 L423.25 382.49 L423.50 382.49 L423.75 382.49 L424.00 382.49 L424.25 382.49 L424.50 382.49 L424.75 382.49 L425.00 382.48 L425.25 382.48 L425.50 382.48 L425.75 382.48 L426.00 382.48 L426.25 382.47 L426.50 382.47 L426.75 382.46 L427.00 382.45 L427.25 382.44 L427.50 382.43 L427.75 382.40 L428.00 382.37 L428.25 382.33 L428.50 382.28 L428.75 382.22 L429.00 382.16 L429.25 382.12 L429.50 382.10 L429.75 382.12 L430.00 382.16 L430.25 382.22 L430.50 382.28 L430.75 382.33 L431.00 382.37 L431.25 382.40 L431.50 382.42 L431.75 382.44 L432.00 382.45 L432.25 382.46 L432.50 382.47 L432.75 382.47 L433.00 382.48 L433.25 382.48 L433.50 382.48 L433.75 382.48 L434.00 382.48 L434.25 382.49 L434.50 382.49 L434.75 382.49 L435.00 382.49 L435.25 382.49 L435.50 382.49 L435.75 382.49 L436.00 382.49 L436.25 382.49 L436.50 382.49 L436.75 382.49 L437.00 382.49 L437.25 382.49 L437.50 382.49 L437.75 382.49 L438.00 382.49 L438.25 382.49 L438.50 382.49 L438.75 382.49 L439.00 382.49 L439.25 382.49 L439.50 382.50 L439.75 382.50 L440.00 382.50 L440.25 382.50 L440.50 382.50 L440.75 382.50 L441.00 382.50 L441.25 382.50 L441.50 382.50 L441.75 382.50 L442.00 382.50 L442.25 382.50 L442.50 382.50 L442.75 382.50 L443.00 382.50 L443.25 382.50 L443.50 382.50 L443.75 382.50 L444.00 382.50 L444.25 382.50 L444.50 382.49 L444.75 382.49 L445.00 382.49 L445.25 382.49 L445.50 382.49 L445.75 382.49 L446.00 382.49 L446.25 382.49 L446.50 382.49 L446.75 382.49 L447.00 382.49 L447.25 382.49 L447.50 382.49 L447.75 382.49 L448.00 382.49 L448.25 382.49 L448.50 382.49 L448.75 382.49 L449.00 382.49 L449.25 382.49 L449.50 382.49 L449.75 382.49 L450.00 382.48 L450.25 382.48 L450.50 382.48 L450.75 382.48 L451.00 382.47 L451.25 382.47 L451.50 382.47 L451.75 382.46 L452.00 382.45 L452.25 382.44 L452.50 382.42 L452.75 382.40 L453.00 382.37 L453.25 382.33 L453.50 382.28 L453.75 382.22 L454.00 382.16 L454.25 382.12 L454.50 382.10 L454.75 382.12 L455.00 382.16 L455.25 382.22 L455.50 382.28 L455.75 382.33 L456.00 382.37 L456.25 382.40 L456.50 382.42 L456.75 382.44 L457.00 382.45 L457.25 382.46 L457.50 382.46 L457.75 382.47 L458.00 382.47 L458.25 382.48 L458.50 382.48 L458.75 382.48 L459.00 382.48 L459.25 382.48 L459.50 382.48 L459.75 382.48 L460.00 382.48 L460.25 382.48 L460.50 382.48 L460.75 382.49 L461.00 382.49 L461.25 382.49 L461.50 382.48 L461.75 382.48 L462.00 382.48 L462.25 382.48 L462.50 382.48 L462.75 382.48 L463.00 382.48 L463.25 382.48 L463.50 382.48 L463.75 382.48 L464.00 382.47 L464.25 382.47 L464.50 382.47 L464.75 382.46 L465.00 382.45 L465.25 382.44 L465.50 382.43 L465.75 382.41 L466.00 382.38 L466.25 382.34 L466.50 382.30 L466.75 382.24 L467.00 382.18 L467.25 382.13 L467.50 382.10 L467.75 382.10 L468.00 382.14 L468.25 382.20 L468.50 382.25 L468.75 382.31 L469.00 382.35 L469.25 382.39 L469.50 382.42 L469.75 382.43 L470.00 382.45 L470.25 382.46 L470.50 382.46 L470.75 382.47 L471.00 382.47 L471.25 382.48 L471.50 382.48 L471.75 382.48 L472.00 382.48 L472.25 382.48 L472.50 382.49 L472.75 382.49 L473.00 382.49 L473.25 382.49 L473.50 382.49 L473.75 382.49 L474.00 382.49 L474.25 382.49 L474.50 382.49 L474.75 382.49 L475.00 382.49 L475.25 382.49 L475.50 382.49 L475.75 382.49 L476.00 382.49 L476.25 382.49 L476.50 382.49 L476.75 382.49 L477.00 382.50 L477.25 382.50 L477.50 382.50 L477.75 382.50 L478.00 382.50 L478.25 382.50 L478.50 382.50 L478.75 382.50 L479.00 382.50 L479.25 382.50 L479.50 382.50 L479.75 382.50 L480.00 382.50 L480.25 382.50 L480.50 382.50 L480.75 382.50 L481.00 382.50 L481.25 382.50 L481.50 382.50 L481.75 382.50 L482.00 382.50 L482.25 382.50 L482.50 382.50 L482.75 382.50 L483.00 382.50 L483.25 382.50 L483.50 382.50 L483.75 382.50 L484.00 382.50 L484.25 382.50 L484.50 382.50 L484.75 382.50 L485.00 382.50 L485.25 382.50 L485.50 382.50 L485.75 382.50 L486.00 382.50 L486.25 382.50 L486.50 382.50 L486.75 382.50 L487.00 382.50 L487.25 382.50 L487.50 382.50 L487.75 382.50 L488.00 382.50 L488.25 382.50 L488.50 382.50 L488.75 382.50 L489.00 382.50 L489.25 382.50 L489.50 382.50 L489.75 382.49 L490.00 382.49 L490.25 382.49 L490.50 382.49 L490.75 382.49 L491.00 382.49 L491.25 382.49 L491.50 382.49 L491.75 382.49 L492.00 382.49 L492.25 382.49 L492.50 382.49 L492.75 382.49 L493.00 382.49 L493.25 382.49 L493.50 382.49 L493.75 382.49 L494.00 382.49 L494.25 382.48 L494.50 382.48 L494.75 382.48 L495.00 382.48 L495.25 382.48 L495.50 382.47 L495.75 382.47 L496.00 382.47 L496.25 382.46 L496.50 382.45 L496.75 382.44 L497.00 382.43 L497.25 382.41 L497.50 382.38 L497.75 382.35 L498.00 382.30 L498.25 382.24 L498.50 382.17 L498.75 382.09 L499.00 382.03 L499.25 382.00 L499.50 382.01 L499.75 382.07 L500.00 382.14 L500.25 382.21 L500.50 382.27 L500.75 382.33 L501.00 382.37 L501.25 382.40 L501.50 382.42 L501.75 382.44 L502.00 382.45 L502.25 382.46 L502.50 382.46 L502.75 382.47 L503.00 382.47 L503.25 382.48 L503.50 382.48 L503.75 382.48 L504.00 382.48 L504.25 382.48 L504.50 382.49 L504.75 382.49 L505.00 382.49 L505.25 382.49 L505.50 382.49 L505.75 382.49 L506.00 382.49 L506.25 382.49 L506.50 382.49 L506.75 382.49 L507.00 382.49 L507.25 382.49 L507.50 382.49 L507.75 382.49 L508.00 382.49 L508.25 382.50 L508.50 382.50 L508.75 382.50 L509.00 382.50 L509.25 382.50 L509.50 382.50 L509.75 382.50 L510.00 382.50 L510.25 382.50 L510.50 382.50 L510.75 382.50 L511.00 382.50 L511.25 382.50 L511.50 382.50 L511.75 382.50 L512.00 382.50 L512.25 382.50 L512.50 382.50 L512.75 382.50 L513.00 382.50 L513.25 382.50 L513.50 382.50" fill="none" stroke="#ff0000" stroke-width="2.5" stroke-linejoin="round"/>
<path d="M53.00 424.50 L53.25 424.50 L53.50 424.50 L53.75 424.50 L54.00 424.50 L54.25 424.50 L54.50 424.50 L54.75 424.50 L55.00 424.50 L55.25 424.50 L55.50 424.50 L55.75 424.50 L56.00 424.49 L56.25 424.49 L56.50 424.49 L56.75 424.49 L57.00 424.49 L57.25 424.49 L57.50 424.49 L57.75 424.49 L58.00 424.49 L58.25 424.49 L58.50 424.48 L58.75 424.48 L59.00 424.47 L59.25 424.47 L59.50 424.46 L59.75 424.45 L60.00 424.43 L60.25 424.41 L60.50 424.38 L60.75 424.34 L61.00 424.29 L61.25 424.23 L61.50 424.17 L61.75 424.13 L62.00 424.11 L62.25 424.13 L62.50 424.17 L62.75 424.23 L63.00 424.29 L63.25 424.34 L63.50 424.38 L63.75 424.41 L64.00 424.44 L64.25 424.45 L64.50 424.47 L64.75 424.47 L65.00 424.48 L65.25 424.49 L65.50 424.49 L65.75 424.49 L66.00 424.50 L66.25 424.50 L66.50 424.50 L66.75 424.50 L67.00 424.50 L67.25 424.50 L67.50 424.50 L67.75 424.51 L68.00 424.51 L68.25 424.51 L68.50 424.51 L68.75 424.51 L69.00 424.51 L69.25 424.51 L69.50 424.51 L69.75 424.51 L70.00 424.51 L70.25 424.51 L70.50 424.51 L70.75 424.51 L71.00 424.51 L71.25 424.52 L71.50 424.52 L71.75 424.52 L72.00 424.52 L72.25 424.52 L72.50 424.52 L72.75 424.52 L73.00 424.52 L73.25 424.52 L73.50 424.52 L73.75 424.52 L74.00 424.52 L74.25 424.52 L74.50 424.52 L74.75 424.52 L75.00 424.52 L75.25 424.52 L75.50 424.52 L75.75 424.52 L76.00 424.52 L76.25 424.52 L76.50 424.52 L76.75 424.52 L77.00 424.52 L77.25 424.52 L77.50 424.52 L77.75 424.52 L78.00 424.52 L78.25 424.52 L78.50 424.52 L78.75 424.52 L79.00 424.52 L79.25 424.52 L79.50 424.52 L79.75 424.52 L80.00 424.52 L80.25 424.52 L80.50 424.52 L80.75 424.52 L81.00 424.52 L81.25 424.52 L81.50 424.52 L81.75 424.53 L82.00 424.52 L82.25 424.52 L82.50 424.52 L82.75 424.52 L83.00 424.53 L83.25 424.53 L83.50 424.53 L83.75 424.53 L84.00 424.53 L84.25 424.53 L84.50 424.53 L84.75 424.53 L85.00 424.53 L85.25 424.53 L85.50 424.53 L85.75 424.53 L86.00 424.53 L86.25 424.53 L86.50 424.53 L86.75 424.53 L87.00 424.53 L87.25 424.53 L87.50 424.53 L87.75 424.53 L88.00 424.53 L88.25 424.53 L88.50 424.53 L88.75 424.53 L89.00 424.53 L89.25 424.52 L89.50 424.52 L89.75 424.52 L90.00 424.52 L90.25 424.52 L90.50 424.52 L90.75 424.52 L91.00 424.52 L91.25 424.52 L91.50 424.52 L91.75 424.52 L92.00 424.52 L92.25 424.52 L92.50 424.52 L92.75 424.52 L93.00 424.51 L93.25 424.51 L93.50 424.51 L93.75 424.51 L94.00 424.51 L94.25 424.50 L94.50 424.50 L94.75 424.50 L95.00 424.49 L95.25 424.49 L95.50 424.48 L95.75 424.47 L96.00 424.46 L96.25 424.45 L96.50 424.43 L96.75 424.40 L97.00 424.37 L97.25 424.32 L97.50 424.24 L97.75 424.15 L98.00 424.03 L98.25 423.90 L98.50 423.75 L98.75 423.62 L99.00 423.54 L99.25 423.55 L99.50 423.64 L99.75 423.78 L100.00 423.92 L100.25 424.06 L100.50 424.17 L100.75 424.26 L101.00 424.32 L101.25 424.37 L101.50 424.40 L101.75 424.43 L102.00 424.44 L102.25 424.45 L102.50 424.46 L102.75 424.47 L103.00 424.47 L103.25 424.48 L103.50 424.48 L103.75 424.48 L104.00 424.48 L104.25 424.48 L104.50 424.48 L104.75 424.48 L105.00 424.48 L105.25 424.48 L105.50 424.48 L105.75 424.48 L106.00 424.47 L106.25 424.47 L106.50 424.46 L106.75 424.46 L107.00 424.45 L107.25 424.44 L107.50 424.43 L107.75 424.42 L108.00 424.41 L108.25 424.39 L108.50 424.37 L108.75 424.34 L109.00 424.31 L109.25 424.28 L109.50 424.23 L109.75 424.16 L110.00 424.08 L110.25 423.96 L110.50 423.78 L110.75 423.48 L111.00 422.94 L111.25 421.99 L111.50 420.47 L111.75 418.40 L112.00 416.34 L112.25 415.69 L112.50 417.09 L112.75 419.27 L113.00 421.15 L113.25 422.43 L113.50 423.19 L113.75 423.61 L114.00 423.85 L114.25 424.00 L114.50 424.11 L114.75 424.18 L115.00 424.24 L115.25 424.28 L115.50 424.31 L115.75 424.34 L116.00 424.36 L116.25 424.37 L116.50 424.38 L116.75 424.39 L117.00 424.40 L117.25 424.40 L117.50 424.40 L117.75 424.40 L118.00 424.40 L118.25 424.39 L118.50 424.38 L118.75 424.36 L119.00 424.34 L119.25 424.31 L119.50 424.27 L119.75 424.21 L120.00 424.13 L120.25 423.99 L120.50 423.74 L120.75 423.30 L121.00 422.56 L121.25 421.46 L121.50 420.18 L121.75 419.37 L122.00 419.75 L122.25 420.96 L122.50 422.17 L122.75 423.06 L123.00 423.61 L123.25 423.93 L123.50 424.10 L123.75 424.21 L124.00 424.28 L124.25 424.33 L124.50 424.37 L124.75 424.40 L125.00 424.42 L125.25 424.44 L125.50 424.46 L125.75 424.47 L126.00 424.48 L126.25 424.49 L126.50 424.50 L126.75 424.50 L127.00 424.51 L127.25 424.51 L127.50 424.52 L127.75 424.52 L128.00 424.53 L128.25 424.53 L128.50 424.53 L128.75 424.53 L129.00 424.54 L129.25 424.54 L129.50 424.54 L129.75 424.54 L130.00 424.54 L130.25 424.54 L130.50 424.55 L130.75 424.55 L131.00 424.55 L131.25 424.55 L131.50 424.55 L131.75 424.55 L132.00 424.55 L132.25 424.55 L132.50 424.55 L132.75 424.55 L133.00 424.55 L133.25 424.55 L133.50 424.55 L133.75 424.55 L134.00 424.55 L134.25 424.55 L134.50 424.55 L134.75 424.55 L135.00 424.55 L135.25 424.54 L135.50 424.54 L135.75 424.54 L136.00 424.54 L136.25 424.53 L136.50 424.53 L136.75 424.53 L137.00 424.52 L137.25 424.52 L137.50 424.51 L137.75 424.51 L138.00 424.50 L138.25 424.49 L138.50 424.48 L138.75 424.46 L139.00 424.44 L139.25 424.42 L139.50 424.39 L139.75 424.36 L140.00 424.31 L140.25 424.25 L140.50 424.16 L140.75 424.03 L141.00 423.80 L141.25 423.38 L141.50 422.66 L141.75 421.54 L142.00 420.07 L142.25 418.77 L142.50 418.62 L142.75 419.77 L143.00 421.27 L143.25 422.47 L143.50 423.27 L143.75 423.74 L144.00 424.00 L144.25 424.15 L144.50 424.24 L144.75 424.31 L145.00 424.36 L145.25 424.40 L145.50 424.43 L145.75 424.45 L146.00 424.47 L146.25 424.48 L146.50 424.50 L146.75 424.51 L147.00 424.52 L147.25 424.53 L147.50 424.53 L147.75 424.54 L148.00 424.54 L148.25 424.55 L148.50 424.55 L148.75 424.56 L149.00 424.56 L149.25 424.56 L149.50 424.56 L149.75 424.57 L150.00 424.57 L150.25 424.57 L150.50 424.57 L150.75 424.58 L151.00 424.58 L151.25 424.58 L151.50 424.58 L151.75 424.58 L152.00 424.58 L152.25 424.58 L152.50 424.59 L152.75 424.59 L153.00 424.59 L153.25 424.59 L153.50 424.59 L153.75 424.59 L154.00 424.59 L154.25 424.59 L154.50 424.59 L154.75 424.59 L155.00 424.59 L155.25 424.59 L155.50 424.59 L155.75 424.60 L156.00 424.60 L156.25 424.60 L156.50 424.60 L156.75 424.60 L157.00 424.60 L157.25 424.60 L157.50 424.60 L157.75 424.60 L158.00 424.60 L158.25 424.60 L158.50 424.60 L158.75 424.60 L159.00 424.60 L159.25 424.60 L159.50 424.60 L159.75 424.60 L160.00 424.60 L160.25 424.60 L160.50 424.60 L160.75 424.60 L161.00 424.60 L161.25 424.60 L161.50 424.60 L161.75 424.60 L162.00 424.60 L162.25 424.60 L162.50 424.60 L162.75 424.60 L163.00 424.60 L163.25 424.60 L163.50 424.60 L163.75 424.60 L164.00 424.60 L164.25 424.60 L164.50 424.60 L164.75 424.60 L165.00 424.60 L165.25 424.60 L165.50 424.60 L165.75 424.60 L166.00 424.60 L166.25 424.60 L166.50 424.60 L166.75 424.60 L167.00 424.60 L167.25 424.60 L167.50 424.60 L167.75 424.59 L168.00 424.59 L168.25 424.59 L168.50 424.59 L168.75 424.59 L169.00 424.59 L169.25 424.59 L169.50 424.58 L169.75 424.58 L170.00 424.58 L170.25 424.58 L170.50 424.57 L170.75 424.57 L171.00 424.57 L171.25 424.56 L171.50 424.56 L171.75 424.55 L172.00 424.55 L172.25 424.54 L172.50 424.53 L172.75 424.52 L173.00 424.51 L173.25 424.49 L173.50 424.47 L173.75 424.45 L174.00 424.42 L174.25 424.38 L174.50 424.32 L174.75 424.24 L175.00 424.14 L175.25 424.00 L175.50 423.85 L175.75 423.67 L176.00 423.49 L176.25 423.35 L176.50 423.26 L176.75 423.22 L177.00 423.20 L177.25 423.14 L177.50 423.01 L177.75 422.80 L178.00 422.53 L178.25 422.24 L178.50 422.04 L178.75 422.01 L179.00 422.18 L179.25 422.51 L179.50 422.89 L179.75 423.26 L180.00 423.57 L180.25 423.82 L180.50 424.01 L180.75 424.16 L181.00 424.26 L181.25 424.33 L181.50 424.38 L181.75 424.42 L182.00 424.45 L182.25 424.47 L182.50 424.49 L182.75 424.51 L183.00 424.52 L183.25 424.53 L183.50 424.54 L183.75 424.55 L184.00 424.56 L184.25 424.57 L184.50 424.57 L184.75 424.58 L185.00 424.58 L185.25 424.59 L185.50 424.59 L185.75 424.59 L186.00 424.60 L186.25 424.60 L186.50 424.60 L186.75 424.61 L187.00 424.61 L187.25 424.61 L187.50 424.61 L187.75 424.61 L188.00 424.61 L188.25 424.62 L188.50 424.62 L188.75 424.62 L189.00 424.62 L189.25 424.62 L189.50 424.62 L189.75 424.62 L190.00 424.62 L190.25 424.63 L190.50 424.63 L190.75 424.63 L191.00 424.63 L191.25 424.63 L191.50 424.63 L191.75 424.63 L192.00 424.63 L192.25 424.63 L192.50 424.63 L192.75 424.63 L193.00 424.63 L193.25 424.63 L193.50 424.63 L193.75 424.63 L194.00 424.64 L194.25 424.64 L194.50 424.64 L194.75 424.64 L195.00 424.64 L195.25 424.64 L195.50 424.64 L195.75 424.64 L196.00 424.64 L196.25 424.64 L196.50 424.64 L196.75 424.64 L197.00 424.64 L197.25 424.64 L197.50 424.64 L197.75 424.64 L198.00 424.64 L198.25 424.64 L198.50 424.64 L198.75 424.64 L199.00 424.64 L199.25 424.64 L199.50 424.64 L199.75 424.64 L200.00 424.64 L200.25 424.64 L200.50 424.64 L200.75 424.63 L201.00 424.63 L201.25 424.63 L201.50 424.63 L201.75 424.63 L202.00 424.63 L202.25 424.63 L202.50 424.62 L202.75 424.62 L203.00 424.62 L203.25 424.61 L203.50 424.61 L203.75 424.60 L204.00 424.60 L204.25 424.59 L204.50 424.58 L204.75 424.57 L205.00 424.55 L205.25 424.52 L205.50 424.49 L205.75 424.44 L206.00 424.37 L206.25 424.27 L206.50 424.16 L206.75 424.02 L207.00 423.87 L207.25 423.74 L207.50 423.66 L207.75 423.67 L208.00 423.76 L208.25 423.90 L208.50 424.05 L208.75 424.18 L209.00 424.29 L209.25 424.38 L209.50 424.45 L209.75 424.50 L210.00 424.53 L210.25 424.55 L210.50 424.57 L210.75 424.58 L211.00 424.59 L211.25 424.60 L211.50 424.60 L211.75 424.61 L212.00 424.61 L212.25 424.62 L212.50 424.62 L212.75 424.62 L213.00 424.62 L213.25 424.62 L213.50 424.62 L213.75 424.62 L214.00 424.62 L214.25 424.62 L214.50 424.62 L214.75 424.62 L215.00 424.62 L215.25 424.61 L215.50 424.61 L215.75 424.60 L216.00 424.59 L216.25 424.58 L216.50 424.56 L216.75 424.54 L217.00 424.51 L217.25 424.47 L217.50 424.41 L217.75 424.34 L218.00 424.27 L218.25 424.20 L218.50 424.14 L218.75 424.13 L219.00 424.15 L219.25 424.21 L219.50 424.28 L219.75 424.34 L220.00 424.40 L220.25 424.44 L220.50 424.47 L220.75 424.48 L221.00 424.49 L221.25 424.48 L221.50 424.46 L221.75 424.44 L222.00 424.39 L222.25 424.32 L222.50 424.23 L222.75 424.09 L223.00 423.92 L223.25 423.71 L223.50 423.48 L223.75 423.26 L224.00 423.09 L224.25 423.05 L224.50 423.14 L224.75 423.34 L225.00 423.57 L225.25 423.79 L225.50 423.99 L225.75 424.14 L226.00 424.25 L226.25 424.33 L226.50 424.38 L226.75 424.42 L227.00 424.43 L227.25 424.43 L227.50 424.41 L227.75 424.37 L228.00 424.31 L228.25 424.23 L228.50 424.12 L228.75 423.99 L229.00 423.85 L229.25 423.72 L229.50 423.65 L229.75 423.66 L230.00 423.76 L230.25 423.90 L230.50 424.05 L230.75 424.19 L231.00 424.30 L231.25 424.39 L231.50 424.46 L231.75 424.51 L232.00 424.54 L232.25 424.57 L232.50 424.59 L232.75 424.60 L233.00 424.61 L233.25 424.62 L233.50 424.63 L233.75 424.64 L234.00 424.64 L234.25 424.65 L234.50 424.65 L234.75 424.65 L235.00 424.66 L235.25 424.66 L235.50 424.66 L235.75 424.67 L236.00 424.67 L236.25 424.67 L236.50 424.67 L236.75 424.67 L237.00 424.67 L237.25 424.68 L237.50 424.68 L237.75 424.68 L238.00 424.68 L238.25 424.68 L238.50 424.68 L238.75 424.68 L239.00 424.68 L239.25 424.69 L239.50 424.69 L239.75 424.69 L240.00 424.69 L240.25 424.69 L240.50 424.69 L240.75 424.69 L241.00 424.69 L241.25 424.69 L241.50 424.69 L241.75 424.69 L242.00 424.69 L242.25 424.69 L242.50 424.69 L242.75 424.69 L243.00 424.69 L243.25 424.69 L243.50 424.70 L243.75 424.70 L244.00 424.70 L244.25 424.70 L244.50 424.70 L244.75 424.70 L245.00 424.70 L245.25 424.70 L245.50 424.70 L245.75 424.70 L246.00 424.70 L246.25 424.70 L246.50 424.70 L246.75 424.70 L247.00 424.70 L247.25 424.70 L247.50 424.70 L247.75 424.70 L248.00 424.70 L248.25 424.70 L248.50 424.70 L248.75 424.70 L249.00 424.70 L249.25 424.70 L249.50 424.70 L249.75 424.70 L250.00 424.70 L250.25 424.70 L250.50 424.70 L250.75 424.70 L251.00 424.70 L251.25 424.69 L251.50 424.69 L251.75 424.69 L252.00 424.69 L252.25 424.68 L252.50 424.68 L252.75 424.67 L253.00 424.67 L253.25 424.66 L253.50 424.64 L253.75 424.62 L254.00 424.58 L254.25 424.54 L254.50 424.49 L254.75 424.44 L255.00 424.38 L255.25 424.33 L255.50 424.32 L255.75 424.33 L256.00 424.38 L256.25 424.44 L256.50 424.50 L256.75 424.55 L257.00 424.59 L257.25 424.62 L257.50 424.64 L257.75 424.66 L258.00 424.67 L258.25 424.68 L258.50 424.69 L258.75 424.69 L259.00 424.70 L259.25 424.70 L259.50 424.70 L259.75 424.70 L260.00 424.71 L260.25 424.71 L260.50 424.71 L260.75 424.71 L261.00 424.71 L261.25 424.71 L261.50 424.71 L261.75 424.71 L262.00 424.71 L262.25 424.71 L262.50 424.71 L262.75 424.71 L263.00 424.72 L263.25 424.72 L263.50 424.72 L263.75 424.72 L264.00 424.72 L264.25 424.72 L264.50 424.72 L264.75 424.72 L265.00 424.72 L265.25 424.72 L265.50 424.72 L265.75 424.72 L266.00 424.72 L266.25 424.72 L266.50 424.72 L266.75 424.72 L267.00 424.72 L267.25 424.72 L267.50 424.72 L267.75 424.71 L268.00 424.71 L268.25 424.71 L268.50 424.71 L268.75 424.71 L269.00 424.71 L269.25 424.70 L269.50 424.70 L269.75 424.70 L270.00 424.69 L270.25 424.68 L270.50 424.67 L270.75 424.65 L271.00 424.63 L271.25 424.59 L271.50 424.55 L271.75 424.50 L272.00 424.44 L272.25 424.38 L272.50 424.34 L272.75 424.33 L273.00 424.36 L273.25 424.41 L273.50 424.46 L273.75 424.52 L274.00 424.57 L274.25 424.61 L274.50 424.64 L274.75 424.66 L275.00 424.68 L275.25 424.69 L275.50 424.69 L275.75 424.70 L276.00 424.70 L276.25 424.71 L276.50 424.71 L276.75 424.71 L277.00 424.71 L277.25 424.71 L277.50 424.71 L277.75 424.71 L278.00 424.71 L278.25 424.71 L278.50 424.71 L278.75 424.70 L279.00 424.70 L279.25 424.69 L279.50 424.68 L279.75 424.66 L280.00 424.64 L280.25 424.61 L280.50 424.58 L280.75 424.53 L281.00 424.47 L281.25 424.41 L281.50 424.36 L281.75 424.34 L282.00 424.35 L282.25 424.39 L282.50 424.45 L282.75 424.51 L283.00 424.56 L283.25 424.60 L283.50 424.64 L283.75 424.66 L284.00 424.68 L284.25 424.69 L284.50 424.70 L284.75 424.71 L285.00 424.71 L285.25 424.72 L285.50 424.72 L285.75 424.72 L286.00 424.73 L286.25 424.73 L286.50 424.73 L286.75 424.73 L287.00 424.73 L287.25 424.73 L287.50 424.73 L287.75 424.73 L288.00 424.73 L288.25 424.73 L288.50 424.73 L288.75 424.73 L289.00 424.73 L289.25 424.73 L289.50 424.73 L289.75 424.73 L290.00 424.73 L290.25 424.73 L290.50 424.73 L290.75 424.73 L291.00 424.73 L291.25 424.73 L291.50 424.73 L291.75 424.73 L292.00 424.73 L292.25 424.73 L292.50 424.73 L292.75 424.73 L293.00 424.73 L293.25 424.72 L293.50 424.72 L293.75 424.72 L294.00 424.72 L294.25 424.72 L294.50 424.71 L294.75 424.71 L295.00 424.70 L295.25 424.70 L295.50 424.70 L295.75 424.69 L296.00 424.68 L296.25 424.68 L296.50 424.67 L296.75 424.66 L297.00 424.64 L297.25 424.63 L297.50 424.61 L297.75 424.58 L298.00 424.55 L298.25 424.51 L298.50 424.45 L298.75 424.37 L299.00 424.25 L299.25 424.08 L299.50 423.86 L299.75 423.58 L300.00 423.24 L300.25 422.87 L300.50 422.53 L300.75 422.31 L301.00 422.29 L301.25 422.48 L301.50 422.80 L301.75 423.17 L302.00 423.52 L302.25 423.81 L302.50 424.05 L302.75 424.22 L303.00 424.35 L303.25 424.44 L303.50 424.50 L303.75 424.55 L304.00 424.58 L304.25 424.61 L304.50 424.63 L304.75 424.65 L305.00 424.66 L305.25 424.67 L305.50 424.68 L305.75 424.69 L306.00 424.70 L306.25 424.71 L306.50 424.71 L306.75 424.72 L307.00 424.72 L307.25 424.73 L307.50 424.73 L307.75 424.73 L308.00 424.74 L308.25 424.74 L308.50 424.74 L308.75 424.74 L309.00 424.75 L309.25 424.75 L309.50 424.75 L309.75 424.75 L310.00 424.75 L310.25 424.75 L310.50 424.75 L310.75 424.76 L311.00 424.76 L311.25 424.76 L311.50 424.76 L311.75 424.76 L312.00 424.76 L312.25 424.76 L312.50 424.76 L312.75 424.76 L313.00 424.76 L313.25 424.76 L313.50 424.77 L313.75 424.77 L314.00 424.77 L314.25 424.77 L314.50 424.77 L314.75 424.77 L315.00 424.77 L315.25 424.77 L315.50 424.77 L315.75 424.77 L316.00 424.77 L316.25 424.77 L316.50 424.77 L316.75 424.77 L317.00 424.77 L317.25 424.77 L317.50 424.77 L317.75 424.77 L318.00 424.77 L318.25 424.77 L318.50 424.77 L318.75 424.77 L319.00 424.76 L319.25 424.76 L319.50 424.76 L319.75 424.76 L320.00 424.76 L320.25 424.76 L320.50 424.75 L320.75 424.75 L321.00 424.74 L321.25 424.74 L321.50 424.73 L321.75 424.72 L322.00 424.71 L322.25 424.69 L322.50 424.66 L322.75 424.62 L323.00 424.56 L323.25 424.49 L323.50 424.40 L323.75 424.30 L324.00 424.20 L324.25 424.12 L324.50 424.09 L324.75 424.12 L325.00 424.20 L325.25 424.30 L325.50 424.40 L325.75 424.49 L326.00 424.57 L326.25 424.62 L326.50 424.66 L326.75 424.69 L327.00 424.71 L327.25 424.73 L327.50 424.74 L327.75 424.75 L328.00 424.75 L328.25 424.76 L328.50 424.76 L328.75 424.77 L329.00 424.77 L329.25 424.77 L329.50 424.77 L329.75 424.78 L330.00 424.78 L330.25 424.78 L330.50 424.78 L330.75 424.78 L331.00 424.78 L331.25 424.79 L331.50 424.79 L331.75 424.79 L332.00 424.79 L332.25 424.79 L332.50 424.79 L332.75 424.79 L333.00 424.79 L333.25 424.79 L333.50 424.79 L333.75 424.79 L334.00 424.79 L334.25 424.79 L334.50 424.79 L334.75 424.79 L335.00 424.79 L335.25 424.79 L335.50 424.79 L335.75 424.79 L336.00 424.79 L336.25 424.79 L336.50 424.79 L336.75 424.79 L337.00 424.79 L337.25 424.79 L337.50 424.79 L337.75 424.79 L338.00 424.79 L338.25 424.79 L338.50 424.79 L338.75 424.79 L339.00 424.78 L339.25 424.78 L339.50 424.78 L339.75 424.77 L340.00 424.77 L340.25 424.76 L340.50 424.75 L340.75 424.73 L341.00 424.71 L341.25 424.67 L341.50 424.63 L341.75 424.58 L342.00 424.52 L342.25 424.46 L342.50 424.42 L342.75 424.41 L343.00 424.44 L343.25 424.49 L343.50 424.55 L343.75 424.60 L344.00 424.65 L344.25 424.69 L344.50 424.72 L344.75 424.74 L345.00 424.76 L345.25 424.77 L345.50 424.78 L345.75 424.79 L346.00 424.79 L346.25 424.79 L346.50 424.80 L346.75 424.80 L347.00 424.80 L347.25 424.80 L347.50 424.80 L347.75 424.81 L348.00 424.81 L348.25 424.81 L348.50 424.81 L348.75 424.81 L349.00 424.81 L349.25 424.81 L349.50 424.81 L349.75 424.81 L350.00 424.81 L350.25 424.81 L350.50 424.82 L350.75 424.82 L351.00 424.82 L351.25 424.82 L351.50 424.82 L351.75 424.82 L352.00 424.82 L352.25 424.82 L352.50 424.82 L352.75 424.82 L353.00 424.82 L353.25 424.82 L353.50 424.82 L353.75 424.82 L354.00 424.82 L354.25 424.82 L354.50 424.82 L354.75 424.82 L355.00 424.82 L355.25 424.82 L355.50 424.82 L355.75 424.82 L356.00 424.82 L356.25 424.82 L356.50 424.82 L356.75 424.82 L357.00 424.82 L357.25 424.82 L357.50 424.82 L357.75 424.82 L358.00 424.82 L358.25 424.82 L358.50 424.82 L358.75 424.82 L359.00 424.82 L359.25 424.82 L359.50 424.82 L359.75 424.82 L360.00 424.82 L360.25 424.82 L360.50 424.81 L360.75 424.81 L361.00 424.81 L361.25 424.81 L361.50 424.80 L361.75 424.80 L362.00 424.79 L362.25 424.78 L362.50 424.76 L362.75 424.74 L363.00 424.71 L363.25 424.67 L363.50 424.61 L363.75 424.56 L364.00 424.50 L364.25 424.45 L364.50 424.44 L364.75 424.46 L365.00 424.50 L365.25 424.56 L365.50 424.62 L365.75 424.67 L366.00 424.71 L366.25 424.74 L366.50 424.77 L366.75 424.78 L367.00 424.79 L367.25 424.80 L367.50 424.81 L367.75 424.81 L368.00 424.82 L368.25 424.82 L368.50 424.82 L368.75 424.83 L369.00 424.83 L369.25 424.83 L369.50 424.83 L369.75 424.83 L370.00 424.83 L370.25 424.83 L370.50 424.84 L370.75 424.84 L371.00 424.84 L371.25 424.84 L371.50 424.84 L371.75 424.84 L372.00 424.84 L372.25 424.84 L372.50 424.84 L372.75 424.84 L373.00 424.84 L373.25 424.84 L373.50 424.84 L373.75 424.84 L374.00 424.84 L374.25 424.85 L374.50 424.85 L374.75 424.85 L375.00 424.85 L375.25 424.85 L375.50 424.85 L375.75 424.85 L376.00 424.85 L376.25 424.85 L376.50 424.85 L376.75 424.85 L377.00 424.85 L377.25 424.85 L377.50 424.85 L377.75 424.85 L378.00 424.85 L378.25 424.85 L378.50 424.85 L378.75 424.85 L379.00 424.85 L379.25 424.85 L379.50 424.85 L379.75 424.85 L380.00 424.85 L380.25 424.85 L380.50 424.85 L380.75 424.85 L381.00 424.85 L381.25 424.86 L381.50 424.86 L381.75 424.86 L382.00 424.86 L382.25 424.86 L382.50 424.86 L382.75 424.86 L383.00 424.86 L383.25 424.86 L383.50 424.86 L383.75 424.86 L384.00 424.86 L384.25 424.86 L384.50 424.86 L384.75 424.86 L385.00 424.86 L385.25 424.86 L385.50 424.86 L385.75 424.86 L386.00 424.86 L386.25 424.86 L386.50 424.86 L386.75 424.86 L387.00 424.86 L387.25 424.86 L387.50 424.86 L387.75 424.86 L388.00 424.86 L388.25 424.86 L388.50 424.86 L388.75 424.86 L389.00 424.86 L389.25 424.86 L389.50 424.86 L389.75 424.87 L390.00 424.87 L390.25 424.87 L390.50 424.87 L390.75 424.87 L391.00 424.87 L391.25 424.87 L391.50 424.87 L391.75 424.87 L392.00 424.87 L392.25 424.87 L392.50 424.87 L392.75 424.87 L393.00 424.87 L393.25 424.87 L393.50 424.87 L393.75 424.87 L394.00 424.87 L394.25 424.87 L394.50 424.87 L394.75 424.87 L395.00 424.87 L395.25 424.87 L395.50 424.87 L395.75 424.87 L396.00 424.87 L396.25 424.87 L396.50 424.87 L396.75 424.87 L397.00 424.87 L397.25 424.87 L397.50 424.87 L397.75 424.87 L398.00 424.87 L398.25 424.87 L398.50 424.87 L398.75 424.88 L399.00 424.88 L399.25 424.88 L399.50 424.88 L399.75 424.88 L400.00 424.88 L400.25 424.88 L400.50 424.88 L400.75 424.88 L401.00 424.88 L401.25 424.88 L401.50 424.88 L401.75 424.88 L402.00 424.88 L402.25 424.88 L402.50 424.88 L402.75 424.88 L403.00 424.88 L403.25 424.88 L403.50 424.88 L403.75 424.88 L404.00 424.88 L404.25 424.88 L404.50 424.88 L404.75 424.88 L405.00 424.88 L405.25 424.88 L405.50 424.88 L405.75 424.88 L406.00 424.88 L406.25 424.88 L406.50 424.88 L406.75 424.88 L407.00 424.88 L407.25 424.88 L407.50 424.88 L407.75 424.89 L408.00 424.89 L408.25 424.89 L408.50 424.89 L408.75 424.89 L409.00 424.89 L409.25 424.89 L409.50 424.89 L409.75 424.89 L410.00 424.89 L410.25 424.89 L410.50 424.89 L410.75 424.89 L411.00 424.89 L411.25 424.89 L411.50 424.89 L411.75 424.89 L412.00 424.89 L412.25 424.89 L412.50 424.89 L412.75 424.89 L413.00 424.89 L413.25 424.89 L413.50 424.89 L413.75 424.89 L414.00 424.89 L414.25 424.89 L414.50 424.89 L414.75 424.89 L415.00 424.89 L415.25 424.89 L415.50 424.89 L415.75 424.89 L416.00 424.89 L416.25 424.89 L416.50 424.89 L416.75 424.89 L417.00 424.90 L417.25 424.90 L417.50 424.90 L417.75 424.90 L418.00 424.90 L418.25 424.90 L418.50 424.90 L418.75 424.90 L419.00 424.90 L419.25 424.90 L419.50 424.90 L419.75 424.90 L420.00 424.90 L420.25 424.90 L420.50 424.90 L420.75 424.90 L421.00 424.90 L421.25 424.90 L421.50 424.90 L421.75 424.90 L422.00 424.90 L422.25 424.90 L422.50 424.90 L422.75 424.90 L423.00 424.90 L423.25 424.90 L423.50 424.90 L423.75 424.90 L424.00 424.90 L424.25 424.90 L424.50 424.90 L424.75 424.90 L425.00 424.90 L425.25 424.90 L425.50 424.90 L425.75 424.90 L426.00 424.90 L426.25 424.91 L426.50 424.91 L426.75 424.91 L427.00 424.91 L427.25 424.91 L427.50 424.91 L427.75 424.91 L428.00 424.91 L428.25 424.91 L428.50 424.91 L428.75 424.91 L429.00 424.91 L429.25 424.91 L429.50 424.91 L429.75 424.91 L430.00 424.91 L430.25 424.91 L430.50 424.91 L430.75 424.91 L431.00 424.91 L431.25 424.91 L431.50 424.91 L431.75 424.91 L432.00 424.91 L432.25 424.91 L432.50 424.91 L432.75 424.91 L433.00 424.91 L433.25 424.91 L433.50 424.91 L433.75 424.91 L434.00 424.91 L434.25 424.91 L434.50 424.91 L434.75 424.91 L435.00 424.91 L435.25 424.92 L435.50 424.92 L435.75 424.92 L436.00 424.92 L436.25 424.92 L436.50 424.92 L436.75 424.92 L437.00 424.92 L437.25 424.92 L437.50 424.92 L437.75 424.92 L438.00 424.92 L438.25 424.92 L438.50 424.92 L438.75 424.92 L439.00 424.92 L439.25 424.92 L439.50 424.92 L439.75 424.92 L440.00 424.92 L440.25 424.92 L440.50 424.92 L440.75 424.92 L441.00 424.92 L441.25 424.92 L441.50 424.92 L441.75 424.92 L442.00 424.92 L442.25 424.92 L442.50 424.92 L442.75 424.92 L443.00 424.92 L443.25 424.92 L443.50 424.92 L443.75 424.92 L444.00 424.92 L444.25 424.92 L444.50 424.93 L444.75 424.93 L445.00 424.93 L445.25 424.93 L445.50 424.93 L445.75 424.93 L446.00 424.93 L446.25 424.93 L446.50 424.93 L446.75 424.93 L447.00 424.93 L447.25 424.93 L447.50 424.93 L447.75 424.93 L448.00 424.93 L448.25 424.93 L448.50 424.93 L448.75 424.93 L449.00 424.93 L449.25 424.93 L449.50 424.93 L449.75 424.93 L450.00 424.93 L450.25 424.93 L450.50 424.93 L450.75 424.93 L451.00 424.93 L451.25 424.93 L451.50 424.93 L451.75 424.93 L452.00 424.93 L452.25 424.93 L452.50 424.93 L452.75 424.93 L453.00 424.93 L453.25 424.93 L453.50 424.93 L453.75 424.94 L454.00 424.94 L454.25 424.94 L454.50 424.94 L454.75 424.94 L455.00 424.94 L455.25 424.94 L455.50 424.94 L455.75 424.94 L456.00 424.94 L456.25 424.94 L456.50 424.94 L456.75 424.94 L457.00 424.94 L457.25 424.94 L457.50 424.94 L457.75 424.94 L458.00 424.94 L458.25 424.94 L458.50 424.94 L458.75 424.94 L459.00 424.94 L459.25 424.94 L459.50 424.94 L459.75 424.94 L460.00 424.94 L460.25 424.94 L460.50 424.94 L460.75 424.94 L461.00 424.94 L461.25 424.94 L461.50 424.94 L461.75 424.94 L462.00 424.94 L462.25 424.94 L462.50 424.94 L462.75 424.94 L463.00 424.95 L463.25 424.95 L463.50 424.95 L463.75 424.95 L464.00 424.95 L464.25 424.95 L464.50 424.95 L464.75 424.95 L465.00 424.95 L465.25 424.95 L465.50 424.95 L465.75 424.95 L466.00 424.95 L466.25 424.95 L466.50 424.95 L466.75 424.95 L467.00 424.95 L467.25 424.95 L467.50 424.95 L467.75 424.95 L468.00 424.95 L468.25 424.95 L468.50 424.95 L468.75 424.95 L469.00 424.95 L469.25 424.95 L469.50 424.95 L469.75 424.95 L470.00 424.95 L470.25 424.95 L470.50 424.95 L470.75 424.95 L471.00 424.95 L471.25 424.95 L471.50 424.95 L471.75 424.95 L472.00 424.95 L472.25 424.96 L472.50 424.96 L472.75 424.96 L473.00 424.96 L473.25 424.96 L473.50 424.96 L473.75 424.96 L474.00 424.96 L474.25 424.96 L474.50 424.96 L474.75 424.96 L475.00 424.96 L475.25 424.96 L475.50 424.96 L475.75 424.96 L476.00 424.96 L476.25 424.96 L476.50 424.96 L476.75 424.96 L477.00 424.96 L477.25 424.96 L477.50 424.96 L477.75 424.96 L478.00 424.96 L478.25 424.96 L478.50 424.96 L478.75 424.96 L479.00 424.96 L479.25 424.96 L479.50 424.96 L479.75 424.96 L480.00 424.96 L480.25 424.96 L480.50 424.96 L480.75 424.96 L481.00 424.96 L481.25 424.96 L481.50 424.97 L481.75 424.97 L482.00 424.97 L482.25 424.97 L482.50 424.97 L482.75 424.97 L483.00 424.97 L483.25 424.97 L483.50 424.97 L483.75 424.97 L484.00 424.97 L484.25 424.97 L484.50 424.97 L484.75 424.97 L485.00 424.97 L485.25 424.97 L485.50 424.97 L485.75 424.97 L486.00 424.97 L486.25 424.97 L486.50 424.97 L486.75 424.97 L487.00 424.97 L487.25 424.97 L487.50 424.97 L487.75 424.97 L488.00 424.97 L488.25 424.97 L488.50 424.97 L488.75 424.97 L489.00 424.97 L489.25 424.97 L489.50 424.97 L489.75 424.97 L490.00 424.97 L490.25 424.97 L490.50 424.98 L490.75 424.98 L491.00 424.98 L491.25 424.98 L491.50 424.98 L491.75 424.98 L492.00 424.98 L492.25 424.98 L492.50 424.98 L492.75 424.98 L493.00 424.98 L493.25 424.98 L493.50 424.98 L493.75 424.98 L494.00 424.98 L494.25 424.98 L494.50 424.98 L494.75 424.98 L495.00 424.98 L495.25 424.98 L495.50 424.98 L495.75 424.98 L496.00 424.98 L496.25 424.98 L496.50 424.98 L496.75 424.98 L497.00 424.98 L497.25 424.98 L497.50 424.98 L497.75 424.98 L498.00 424.98 L498.25 424.98 L498.50 424.98 L498.75 424.98 L499.00 424.98 L499.25 424.98 L499.50 424.98 L499.75 424.99 L500.00 424.99 L500.25 424.99 L500.50 424.99 L500.75 424.99 L501.00 424.99 L501.25 424.99 L501.50 424.99 L501.75 424.99 L502.00 424.99 L502.25 424.99 L502.50 424.99 L502.75 424.99 L503.00 424.99 L503.25 424.99 L503.50 424.99 L503.75 424.99 L504.00 424.99 L504.25 424.99 L504.50 424.99 L504.75 424.99 L505.00 424.99 L505.25 424.99 L505.50 424.99 L505.75 424.99 L506.00 424.99 L506.25 424.99 L506.50 424.99 L506.75 424.99 L507.00 424.99 L507.25 424.99 L507.50 424.99 L507.75 424.99 L508.00 424.99 L508.25 424.99 L508.50 424.99 L508.75 424.99 L509.00 425.00 L509.25 425.00 L509.50 425.00 L509.75 425.00 L510.00 425.00 L510.25 425.00 L510.50 425.00 L510.75 425.00 L511.00 425.00 L511.25 425.00 L511.50 425.00 L511.75 425.00 L512.00 425.00 L512.25 425.00 L512.50 425.00 L512.75 425.00 L513.00 425.00 L513.25 425.00 L513.50 425.00" fill="none" stroke="#4472c4" stroke-width="2.5" stroke-linejoin="round"/>
<g font-family="Liberation Serif" font-size="14" fill="#000" stroke="#000" stroke-width="0.5" text-anchor="middle">
<text x="82.5" y="91.5">C</text>
<text x="111.3" y="114.5">A</text>
<text x="121.4" y="118.3">A</text>
<text x="142.0" y="25.5">C</text>
<text x="206.0" y="111.9">C</text>
<text x="220.3" y="125.5">A</text>
<text x="229.2" y="125.5">A</text>
<text x="238.4" y="115.2">C</text>
<text x="275.8" y="118.4">C</text>
<text x="301.0" y="123.2">A</text>
<text x="308.6" y="116.8">C</text>
<text x="318.3" y="116.8">C</text>
<text x="329.2" y="117.3">A</text>
<text x="112.3" y="152.3">A</text>
<text x="121.3" y="181.1">A</text>
<text x="142.2" y="173.5">C</text>
<text x="178.6" y="185.8">A</text>
<text x="208.0" y="197.0">C</text>
<text x="216.8" y="205.5">A</text>
<text x="224.3" y="192.3">A</text>
<text x="232.3" y="197.9">A</text>
<text x="256.4" y="207.3">A</text>
<text x="272.8" y="196.9">C</text>
<text x="301.4" y="182.7">A</text>
<text x="325.5" y="200.0">A</text>
<text x="343.5" y="202.7">A</text>
<text x="364.6" y="199.5">A</text>
<text x="111.6" y="232.8">A</text>
<text x="121.3" y="264.0">A</text>
<text x="141.6" y="242.0">C</text>
<text x="178.6" y="269.5">A</text>
<text x="208.2" y="282.3">C</text>
<text x="217.3" y="289.5">A</text>
<text x="224.6" y="276.8">A</text>
<text x="233.7" y="284.1">A</text>
<text x="256.1" y="291.4">A</text>
<text x="273.0" y="276.5">C</text>
<text x="301.2" y="271.0">A</text>
<text x="325.5" y="286.3">A</text>
<text x="343.5" y="287.4">A</text>
<text x="364.1" y="288.6">A</text>
<text x="111.9" y="340.5">A</text>
<text x="121.4" y="359.6">A</text>
<text x="142.3" y="327.8">C</text>
<text x="178.8" y="361.8">A</text>
<text x="208.0" y="370.9">C</text>
<text x="217.0" y="376.4">A</text>
<text x="224.4" y="366.4">A</text>
<text x="233.0" y="373.6">A</text>
<text x="256.4" y="377.3">A</text>
<text x="273.0" y="365.5">C</text>
<text x="301.2" y="363.6">A</text>
<text x="325.0" y="374.2">A</text>
<text x="343.5" y="374.5">A</text>
<text x="364.3" y="375.5">A</text>
<text x="98.9" y="418.2">V</text>
<text x="111.9" y="411.5">A</text>
<text x="122.1" y="416.4">A</text>
<text x="141.3" y="414.5">C</text>
<text x="178.8" y="418.7">A</text>
<text x="208.5" y="420.5">A</text>
<text x="218.7" y="419.1">A</text>
<text x="227.3" y="419.1">A</text>
<text x="301.4" y="418.7">A</text>
<text x="324.6" y="420.5">A</text>
<text x="343.2" y="419.1">A</text>
</g>
<g font-family="Liberation Serif" font-size="22.5" fill="#111" stroke="#111" stroke-width="0.5">
<text x="361.9" y="118.4" font-size="22.8">Mg to Ca = 0.2</text>
<g text-anchor="middle">
<text x="505.1" y="205">1</text>
<text x="503.2" y="289.4">2</text>
<text x="502.2" y="374.3">5</text>
<text x="496.9" y="420.7">10</text>
</g>
</g>
<g stroke="#000" stroke-width="2" fill="none" stroke-linecap="square">
<path d="M52.9 25.3 V446.8 H532.5"/>
<path d="M52.80 446.8 V452.3"/>
<path d="M71.99 446.8 V450.8"/>
<path d="M91.18 446.8 V450.8"/>
<path d="M110.36 446.8 V450.8"/>
<path d="M129.55 446.8 V450.8"/>
<path d="M148.74 446.8 V452.3"/>
<path d="M167.93 446.8 V450.8"/>
<path d="M187.12 446.8 V450.8"/>
<path d="M206.30 446.8 V450.8"/>
<path d="M225.49 446.8 V450.8"/>
<path d="M244.68 446.8 V452.3"/>
<path d="M263.87 446.8 V450.8"/>
<path d="M283.06 446.8 V450.8"/>
<path d="M302.24 446.8 V450.8"/>
<path d="M321.43 446.8 V450.8"/>
<path d="M340.62 446.8 V452.3"/>
<path d="M359.81 446.8 V450.8"/>
<path d="M379.00 446.8 V450.8"/>
<path d="M398.18 446.8 V450.8"/>
<path d="M417.37 446.8 V450.8"/>
<path d="M436.56 446.8 V452.3"/>
<path d="M455.75 446.8 V450.8"/>
<path d="M474.94 446.8 V450.8"/>
<path d="M494.12 446.8 V450.8"/>
<path d="M513.31 446.8 V450.8"/>
<path d="M532.50 446.8 V452.3"/>
</g>
<g font-family="Liberation Serif" font-size="23.4" fill="#000" stroke="#000" stroke-width="0.45" text-anchor="middle">
<text x="52.60" y="481.5">20</text>
<text x="148.54" y="481.5">30</text>
<text x="244.48" y="481.5">40</text>
<text x="340.42" y="481.5">50</text>
<text x="436.36" y="481.5">60</text>
<text x="532.30" y="481.5">70</text>
</g>
<g font-family="Liberation Serif" font-size="23" fill="#000" stroke="#000" stroke-width="0.5">
<text x="258.6" y="503.6">2</text>
<text x="296.0" y="504.4" font-size="24.5">(</text>
<text x="305" y="503.6">°</text>
<text x="316.7" y="504.4" font-size="24.5">)</text>
</g>
<path fill="#000" fill-rule="evenodd" d="M280 487.3 a6.75 8.75 0 1 0 0.001 0 Z M280 488.55 a4.1 7.5 0 1 1 -0.001 0 Z"/>
<rect x="275" y="495.0" width="10" height="1.6" fill="#000"/>
<text font-family="Liberation Serif" font-size="26" fill="#000" stroke="#000" stroke-width="0.5" transform="translate(24.1 285.5) rotate(-90)">Intensity</text>
</g>
</svg>
</body></html>
